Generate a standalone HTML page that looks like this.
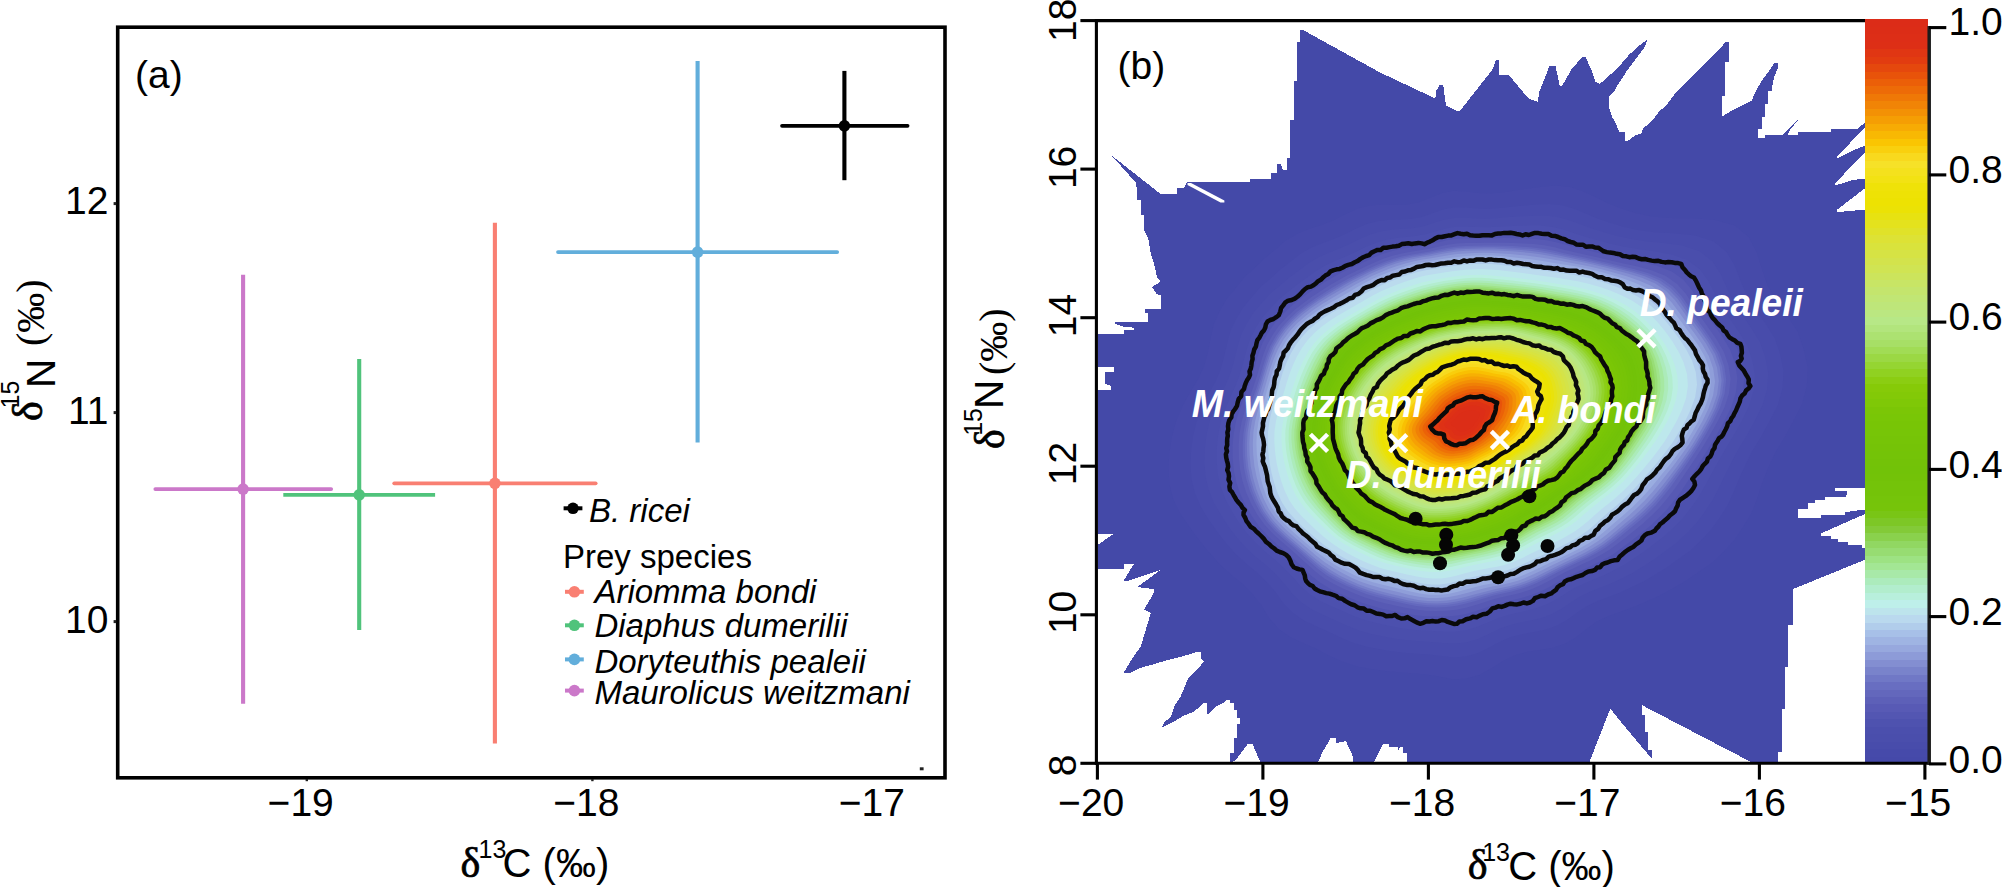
<!DOCTYPE html>
<html lang="en"><head><meta charset="utf-8"><title>Stable isotope biplot and mixing polygon</title>
<style>html,body{margin:0;padding:0;background:#fff}body{width:2002px;height:887px;overflow:hidden}svg{display:block}text{font-family:'Liberation Sans', sans-serif;fill:#000}.sf{font-family:'Liberation Serif', serif}.it{font-style:italic}.wb{font-style:italic;font-weight:bold;fill:#fff}</style>
</head><body>
<svg width="2002" height="887" viewBox="0 0 2002 887">
<rect x="0" y="0" width="2002" height="887" fill="#fff"/>
<g id="panel-a">
<g stroke="#cb78c9" fill="#cb78c9">
<line x1="155.3" y1="489.1" x2="331.2" y2="489.1" stroke-width="3.7" stroke-linecap="round"/>
<line x1="243.1" y1="274.8" x2="243.1" y2="703.7" stroke-width="4.1"/>
<circle cx="243.1" cy="489.1" r="5.8" stroke="none"/>
</g>
<g stroke="#50c37b" fill="#50c37b">
<line x1="283.3" y1="494.8" x2="435.1" y2="494.8" stroke-width="3.7"/>
<line x1="359.2" y1="359.1" x2="359.2" y2="630.1" stroke-width="4.1"/>
<circle cx="359.2" cy="494.8" r="5.8" stroke="none"/>
</g>
<g stroke="#f97f72" fill="#f97f72">
<line x1="394.2" y1="483.3" x2="595.7" y2="483.3" stroke-width="3.7" stroke-linecap="round"/>
<line x1="494.9" y1="222.7" x2="494.9" y2="743.6" stroke-width="4.1"/>
<circle cx="494.9" cy="483.3" r="5.8" stroke="none"/>
</g>
<g stroke="#62aedb" fill="#62aedb">
<line x1="558.0" y1="252.1" x2="837.2" y2="252.1" stroke-width="3.7" stroke-linecap="round"/>
<line x1="697.6" y1="61.0" x2="697.6" y2="442.5" stroke-width="4.1"/>
<circle cx="697.6" cy="252.1" r="5.8" stroke="none"/>
</g>
<g stroke="#000000" fill="#000000">
<line x1="782.0" y1="125.8" x2="907.6" y2="125.8" stroke-width="3.7" stroke-linecap="round"/>
<line x1="844.4" y1="70.9" x2="844.4" y2="180.2" stroke-width="4.1"/>
<circle cx="844.4" cy="125.8" r="5.8" stroke="none"/>
</g>
<rect x="117.7" y="27.2" width="827.3" height="750.6" fill="none" stroke="#000" stroke-width="3.6"/>
<rect x="305.6" y="779" width="2.4" height="2.2" fill="#222"/>
<rect x="591.2" y="779" width="2.4" height="2.2" fill="#222"/>
<rect x="113.6" y="202.1" width="2.6" height="3" fill="#222"/>
<rect x="113.6" y="411.1" width="2.6" height="3" fill="#222"/>
<rect x="113.6" y="620.1" width="2.6" height="3" fill="#222"/>
<rect x="919.8" y="767.3" width="3.8" height="3" fill="#222"/>
<text x="135" y="88" font-size="39">(a)</text>
<text x="300.7" y="815.6" font-size="39" text-anchor="middle">−19</text>
<text x="586.4" y="815.6" font-size="39" text-anchor="middle">−18</text>
<text x="871.9" y="815.6" font-size="39" text-anchor="middle">−17</text>
<text x="108.4" y="214.0" font-size="39" text-anchor="end">12</text>
<text x="108.4" y="424.0" font-size="39" text-anchor="end">11</text>
<text x="108.4" y="633.0" font-size="39" text-anchor="end">10</text>
<text x="460.6" y="877" font-size="42" class="sf" stroke="#000" stroke-width="0.7">δ</text>
<text x="478.5" y="858.4" font-size="25">13</text>
<text x="502.6" y="877.4" font-size="40">C (‰)</text>
<text transform="translate(41.8,421) rotate(-90)" font-size="42" class="sf" stroke="#000" stroke-width="0.7">δ</text>
<text transform="translate(18.9,408.5) rotate(-90)" font-size="25">15</text>
<text transform="translate(54.7,388) rotate(-90)" font-size="40.5">N</text>
<text transform="translate(44.4,346) rotate(-90)" font-size="40" class="sf">(‰)</text>
<g stroke-width="4">
<line x1="563.6" y1="508.3" x2="582.4" y2="508.3" stroke="#000"/><circle cx="573.0" cy="508.3" r="5.8" fill="#000"/>
<line x1="565.0" y1="591.8" x2="583.8" y2="591.8" stroke="#f97f72"/><circle cx="574.4" cy="591.8" r="5.8" fill="#f97f72"/>
<line x1="565.0" y1="625.3" x2="583.8" y2="625.3" stroke="#50c37b"/><circle cx="574.4" cy="625.3" r="5.8" fill="#50c37b"/>
<line x1="565.0" y1="659.4" x2="583.8" y2="659.4" stroke="#62aedb"/><circle cx="574.4" cy="659.4" r="5.8" fill="#62aedb"/>
<line x1="565.0" y1="690.6" x2="583.8" y2="690.6" stroke="#cb78c9"/><circle cx="574.4" cy="690.6" r="5.8" fill="#cb78c9"/>
</g>
<text x="589" y="522" font-size="33" class="it">B. ricei</text>
<text x="563" y="567.9" font-size="33">Prey species</text>
<text x="594.4" y="602.7" font-size="33" class="it">Ariomma bondi</text>
<text x="594.4" y="636.5" font-size="33" class="it">Diaphus dumerilii</text>
<text x="594.4" y="672.8" font-size="33" class="it">Doryteuthis pealeii</text>
<text x="594.4" y="704.2" font-size="33" class="it">Maurolicus weitzmani</text>
</g>
<g id="panel-b">
<polygon fill="#4449a8" shape-rendering="crispEdges" points="1097.5,334.0 1123.5,334.0 1123.5,330.2 1134.1,330.2 1134.1,327.7 1123.5,326.5 1114.8,324.0 1114.8,321.5 1147.5,321.5 1147.5,312.8 1144.5,312.8 1144.5,309.1 1161.2,309.1 1161.2,295.5 1156.9,294.2 1152.0,286.8 1160.7,281.8 1156.9,276.9 1154.5,265.7 1150.7,253.3 1148.3,238.4 1144.0,229.8 1144.0,214.9 1140.8,214.9 1140.8,200.0 1137.4,200.0 1136.2,183.0 1111.4,155.3 1161.0,194.3 1176.8,194.3 1176.8,188.2 1183.6,188.2 1187.0,182.4 1250.2,182.4 1250.2,179.2 1270.5,179.2 1270.5,172.9 1277.2,172.9 1277.2,163.9 1280.6,163.9 1282.9,169.5 1287.4,169.5 1287.4,157.8 1290.0,157.8 1290.0,119.9 1293.5,119.9 1293.5,80.9 1297.0,80.9 1297.0,42.1 1300.2,42.1 1300.2,30.1 1303.2,30.1 1380.0,72.5 1435.3,98.5 1436.4,90.6 1439.8,84.5 1443.2,84.5 1445.9,105.2 1456.7,110.9 1460.0,110.9 1492.8,69.1 1495.7,60.1 1498.9,60.1 1498.9,74.8 1508.6,74.8 1528.9,98.9 1537.9,101.8 1539.0,92.8 1542.4,83.8 1546.2,74.8 1549.2,66.4 1555.5,66.4 1558.2,78.2 1559.8,86.7 1562.7,84.9 1571.7,69.1 1579.6,60.1 1582.3,57.2 1585.7,57.2 1592.0,71.4 1595.4,81.5 1599.9,83.8 1609.0,75.9 1619.1,66.4 1629.3,54.5 1639.4,45.5 1647.3,39.4 1645.0,46.6 1634.9,60.1 1628.1,69.1 1619.1,82.7 1614.6,90.6 1609.0,96.2 1609.0,107.5 1611.9,116.5 1615.7,123.3 1619.1,131.6 1625.2,132.3 1625.2,140.6 1628.1,140.6 1634.9,135.7 1641.7,133.4 1642.8,128.9 1652.9,119.9 1659.7,110.9 1666.5,105.2 1675.5,92.8 1725.7,42.3 1728.9,42.3 1728.9,62.1 1725.0,62.1 1725.0,95.6 1722.0,95.6 1722.0,116.7 1731.9,110.5 1751.7,100.5 1755.5,91.9 1761.7,80.7 1769.1,70.8 1774.0,63.3 1777.8,63.3 1777.8,68.3 1774.0,77.0 1771.6,90.6 1767.9,90.6 1767.9,104.3 1765.4,104.3 1765.4,116.7 1761.7,116.7 1761.7,129.0 1757.9,129.0 1757.9,137.7 1765.4,137.7 1765.4,135.2 1782.7,135.2 1797.6,120.4 1788.9,131.5 1787.7,135.2 1797.6,135.2 1797.6,132.0 1831.1,132.0 1831.1,129.0 1857.1,129.0 1864.5,122.9 1864.5,127.8 1837.3,156.3 1837.3,158.3 1853.4,150.1 1863.3,146.4 1864.5,146.4 1864.5,152.6 1834.8,183.6 1834.8,185.6 1853.4,179.9 1864.5,178.6 1864.5,188.6 1837.3,209.6 1837.3,212.1 1864.5,209.6 1864.5,487.8 1835.1,487.8 1835.1,490.9 1847.3,490.9 1847.3,494.0 1845.2,497.0 1825.0,497.0 1825.0,500.0 1814.8,500.0 1814.8,503.0 1807.7,503.0 1807.7,509.1 1798.2,509.1 1798.2,517.7 1820.9,517.7 1820.9,515.2 1845.2,515.2 1845.2,512.2 1864.5,509.5 1864.5,514.2 1820.9,533.5 1820.9,535.9 1831.0,535.9 1831.0,539.0 1838.1,539.0 1838.1,541.6 1848.3,541.6 1848.3,544.6 1861.5,544.6 1861.5,547.7 1864.5,547.7 1864.5,559.9 1792.5,589.3 1792.5,624.5 1788.0,624.5 1788.0,667.1 1784.8,667.1 1784.8,708.7 1781.7,708.7 1781.7,752.3 1777.9,752.3 1777.9,763.0 1752.9,763.0 1641.9,705.1 1641.9,714.8 1645.4,714.8 1645.4,732.0 1648.4,732.0 1648.4,750.3 1651.5,750.3 1651.5,758.4 1620.0,720.9 1610.3,708.7 1589.0,763.0 1407.0,763.0 1407.0,753.4 1403.3,753.4 1403.3,747.3 1400.3,747.3 1398.3,750.3 1398.3,747.3 1389.1,747.3 1389.1,744.2 1383.0,744.2 1373.4,763.0 1353.1,763.0 1353.1,757.0 1346.0,741.2 1336.0,743.0 1336.0,738.1 1330.7,738.1 1322.6,752.0 1317.6,763.0 1260.7,763.0 1252.6,744.2 1247.5,744.2 1235.4,760.5 1230.3,763.0 1230.3,753.4 1234.4,753.4 1234.4,738.1 1237.4,738.1 1237.4,723.9 1239.8,723.9 1239.8,717.8 1237.4,717.8 1237.4,709.7 1234.4,709.7 1234.4,702.6 1230.3,702.6 1230.3,699.6 1227.3,699.6 1224.2,702.6 1217.1,705.7 1210.0,712.8 1207.0,714.8 1207.0,702.6 1204.5,702.6 1200.9,705.7 1193.8,711.8 1183.6,715.8 1173.5,721.9 1161.3,728.0 1164.4,721.9 1170.4,717.8 1174.5,705.7 1180.6,696.5 1183.6,689.4 1187.7,679.3 1193.8,673.2 1200.9,665.1 1203.9,661.0 1200.9,659.0 1200.9,651.9 1196.8,651.9 1187.7,654.9 1176.5,658.0 1164.4,661.0 1154.2,664.1 1139.6,668.1 1130.6,672.6 1123.8,672.6 1127.2,667.0 1134.0,655.7 1140.8,646.7 1144.1,635.4 1147.5,624.1 1150.9,612.8 1144.1,609.5 1147.5,603.8 1150.9,598.2 1154.3,592.0 1154.3,589.2 1137.4,587.0 1160.7,569.8 1127.2,581.0 1123.5,581.0 1134.1,563.6 1123.5,563.6 1123.5,568.6 1097.5,568.6 1097.5,545.0 1113.6,533.9 1097.5,533.9 1097.5,389.7 1111.0,389.7 1111.0,386.0 1105.0,383.5 1105.0,372.3 1113.6,372.3 1113.6,367.4 1097.5,367.4"/>
<polygon fill="#fff" points="1187.5,183.0 1191.0,183.0 1224.4,200.4 1224.4,202.5 1220.5,202.5 1187.5,185.0"/>
<g id="heat">
<polygon fill="#464aa9" points="1793.4,421.0 1784.3,437.7 1774.8,453.5 1767.8,468.8 1761.9,483.9 1757.0,499.0 1751.2,513.7 1742.9,527.3 1734.1,540.4 1723.2,552.1 1711.9,563.0 1698.7,572.1 1686.0,580.8 1672.7,588.4 1659.8,595.5 1646.5,601.5 1633.6,607.1 1620.5,611.8 1607.9,616.3 1596.4,621.8 1586.2,629.2 1576.1,637.2 1565.1,643.7 1553.0,647.8 1540.4,650.1 1527.8,651.7 1515.7,655.0 1503.9,660.4 1491.9,667.9 1479.3,674.9 1466.0,678.8 1452.5,679.2 1439.1,676.5 1425.9,674.5 1412.4,673.3 1398.7,672.3 1384.8,671.0 1370.9,668.9 1356.7,666.4 1343.2,662.0 1330.2,656.2 1317.5,649.6 1304.3,643.5 1290.8,637.4 1278.8,628.9 1269.0,618.0 1261.4,605.2 1252.5,593.9 1242.2,583.6 1230.3,574.1 1219.1,563.6 1208.8,552.1 1199.0,539.9 1189.6,527.1 1180.3,513.8 1173.3,499.4 1169.4,484.0 1168.5,468.1 1169.4,452.2 1172.0,436.4 1176.1,421.0 1182.5,406.1 1190.3,392.0 1198.4,378.6 1204.4,365.4 1208.0,351.9 1210.6,338.0 1213.8,324.2 1219.7,311.3 1226.7,299.1 1235.8,288.1 1244.5,277.1 1255.0,267.7 1264.9,258.1 1275.4,249.4 1285.6,240.6 1297.3,233.7 1310.2,228.6 1323.2,224.5 1335.1,219.5 1346.3,213.7 1357.7,208.5 1370.0,205.4 1382.9,204.5 1395.7,204.8 1408.0,204.4 1419.5,202.1 1430.6,197.4 1442.1,193.1 1453.9,190.8 1466.0,191.5 1477.9,193.0 1489.9,193.5 1502.2,192.4 1515.0,190.4 1528.3,188.4 1542.1,186.7 1556.3,185.6 1570.2,187.0 1583.1,191.2 1595.3,197.1 1607.6,203.0 1620.6,208.2 1634.6,212.7 1650.4,216.2 1669.0,218.0 1691.2,218.2 1714.5,219.8 1735.0,225.6 1748.9,237.3 1757.0,253.0 1762.2,270.1 1768.0,286.5 1777.6,301.4 1787.9,316.4 1797.9,332.1 1803.7,349.2 1807.7,366.9 1806.9,385.2 1802.3,403.4"/>
<polygon fill="#484cab" points="1769.7,421.0 1761.2,436.5 1752.4,451.1 1745.3,465.2 1739.0,479.0 1733.4,492.7 1727.2,505.9 1719.3,518.2 1710.9,530.0 1700.8,540.6 1690.4,550.6 1678.6,559.1 1667.2,567.2 1655.4,574.4 1644.0,581.2 1632.0,587.0 1620.3,592.4 1608.4,596.9 1597.0,601.3 1586.4,606.4 1576.8,612.8 1567.3,619.8 1557.1,625.6 1546.0,629.5 1534.6,632.0 1523.0,633.9 1511.9,636.8 1500.9,641.2 1489.8,647.3 1478.2,653.0 1466.0,656.6 1453.6,657.4 1441.3,655.9 1429.0,654.6 1416.5,653.7 1403.9,652.7 1391.2,651.2 1378.5,649.0 1365.5,646.6 1353.0,642.7 1340.9,637.8 1329.0,632.0 1316.7,626.4 1304.3,620.7 1293.0,613.1 1283.5,603.5 1275.7,592.3 1267.0,582.2 1257.2,572.7 1246.2,563.8 1235.7,554.0 1226.1,543.3 1217.2,531.8 1208.8,519.7 1200.9,507.1 1195.0,493.6 1191.5,479.3 1190.5,464.6 1191.1,449.9 1193.2,435.3 1196.7,421.0 1202.2,407.2 1208.8,394.0 1215.6,381.3 1220.8,368.9 1224.2,356.2 1227.1,343.4 1230.5,330.6 1236.3,318.7 1243.1,307.4 1251.7,297.3 1260.2,287.3 1270.2,278.7 1279.7,270.1 1289.7,262.3 1299.5,254.5 1310.4,248.1 1322.0,243.2 1333.7,238.9 1344.7,234.2 1355.1,228.9 1365.8,224.2 1377.0,221.2 1388.8,219.8 1400.5,219.5 1411.8,218.7 1422.6,216.7 1433.0,212.9 1443.7,209.3 1454.8,207.2 1466.0,207.6 1477.1,208.6 1488.3,209.0 1499.7,208.1 1511.5,206.7 1523.7,205.5 1536.4,204.4 1549.3,203.9 1562.1,205.2 1574.2,208.7 1585.7,213.6 1597.5,218.5 1610.0,222.8 1623.3,226.8 1638.0,230.0 1654.8,232.2 1674.4,233.3 1694.9,235.6 1713.3,241.3 1726.5,251.9 1734.8,265.8 1740.6,281.1 1746.9,296.0 1756.0,309.7 1765.6,323.7 1774.8,338.3 1780.2,354.2 1783.6,370.7 1782.6,387.7 1778.0,404.7"/>
<polygon fill="#4a4eac" points="1754.7,421.0 1746.6,435.7 1738.3,449.6 1731.1,463.0 1724.5,475.9 1718.5,488.7 1712.1,501.0 1704.3,512.5 1696.1,523.5 1686.6,533.4 1676.8,542.7 1665.8,550.8 1655.3,558.5 1644.5,565.6 1633.9,572.2 1622.9,577.9 1611.9,583.1 1600.8,587.5 1590.1,591.8 1580.1,596.6 1570.8,602.5 1561.6,608.7 1552.0,614.1 1541.6,617.9 1530.8,620.6 1520.0,622.6 1509.4,625.2 1499.0,629.1 1488.4,634.2 1477.4,639.2 1466.0,642.5 1454.3,643.6 1442.7,642.9 1431.0,642.0 1419.2,641.3 1407.3,640.2 1395.3,638.7 1383.3,636.5 1371.1,634.1 1359.2,630.5 1347.6,626.1 1336.2,620.8 1324.6,615.6 1312.8,610.1 1302.1,603.1 1292.7,594.3 1284.8,584.2 1276.2,574.7 1266.7,565.8 1256.2,557.2 1246.2,547.9 1237.0,537.7 1228.6,526.7 1221.0,515.0 1214.0,502.9 1208.7,489.9 1205.5,476.4 1204.4,462.4 1204.8,448.5 1206.6,434.6 1209.7,421.0 1214.6,407.8 1220.5,395.2 1226.5,383.1 1231.2,371.1 1234.5,359.0 1237.5,346.8 1241.1,334.7 1246.8,323.4 1253.4,312.7 1261.8,303.1 1270.1,293.8 1279.8,285.7 1289.1,277.7 1298.9,270.5 1308.3,263.3 1318.6,257.3 1329.5,252.4 1340.4,248.1 1350.8,243.5 1360.7,238.6 1370.8,234.2 1381.5,231.2 1392.5,229.5 1403.5,228.8 1414.2,227.9 1424.5,225.9 1434.6,222.6 1444.8,219.6 1455.3,217.7 1466.0,217.8 1476.6,218.5 1487.3,218.7 1498.1,218.1 1509.3,217.1 1520.8,216.3 1532.7,215.7 1544.9,215.5 1556.9,216.8 1568.5,219.9 1579.7,224.1 1591.2,228.3 1603.3,232.1 1616.1,235.7 1630.1,238.8 1645.8,241.2 1663.8,242.9 1682.5,245.6 1699.6,251.3 1712.2,261.1 1720.7,273.9 1726.9,288.1 1733.4,301.9 1742.3,314.9 1751.4,328.3 1760.1,342.2 1765.3,357.4 1768.3,373.1 1767.1,389.4 1762.5,405.5"/>
<polygon fill="#4c50ae" points="1741.7,421.0 1733.9,435.0 1725.9,448.3 1718.6,461.0 1711.8,473.2 1705.4,485.2 1698.8,496.7 1691.2,507.4 1683.3,517.7 1674.2,527.1 1664.9,535.8 1654.7,543.5 1644.9,551.0 1635.0,557.8 1625.2,564.3 1614.8,569.8 1604.6,574.9 1594.2,579.3 1584.1,583.5 1574.5,588.1 1565.6,593.4 1556.7,599.1 1547.5,604.1 1537.7,607.8 1527.6,610.6 1517.4,612.7 1507.3,615.2 1497.3,618.4 1487.2,622.8 1476.8,627.1 1466.0,630.2 1455.0,631.6 1443.9,631.5 1432.7,631.1 1421.5,630.4 1410.2,629.4 1398.8,627.7 1387.5,625.5 1376.0,623.1 1364.7,619.9 1353.5,615.9 1342.5,611.1 1331.5,606.2 1320.3,600.9 1309.9,594.3 1300.7,586.3 1292.7,577.0 1284.2,568.3 1275.0,559.8 1265.0,551.5 1255.4,542.6 1246.6,532.8 1238.7,522.2 1231.7,510.9 1225.4,499.2 1220.7,486.7 1217.7,473.8 1216.6,460.5 1216.8,447.2 1218.3,434.0 1221.1,421.0 1225.5,408.4 1230.7,396.3 1236.0,384.6 1240.3,373.0 1243.5,361.4 1246.6,349.7 1250.4,338.2 1255.9,327.5 1262.5,317.3 1270.6,308.2 1278.8,299.4 1288.2,291.8 1297.3,284.4 1306.8,277.7 1316.0,271.0 1325.8,265.3 1336.0,260.5 1346.2,256.2 1356.1,251.7 1365.6,247.1 1375.3,242.9 1385.4,239.9 1395.7,238.0 1406.2,236.9 1416.4,235.8 1426.3,234.0 1435.9,231.2 1445.8,228.5 1455.8,226.8 1466.0,226.7 1476.2,227.1 1486.4,227.3 1496.8,226.8 1507.4,226.2 1518.3,225.8 1529.5,225.5 1541.0,225.6 1552.4,226.9 1563.5,229.6 1574.4,233.2 1585.6,236.8 1597.4,240.2 1609.8,243.4 1623.2,246.5 1637.9,249.1 1654.5,251.2 1671.7,254.4 1687.6,260.0 1699.8,269.2 1708.4,281.0 1715.0,294.1 1721.7,307.1 1730.3,319.5 1739.1,332.3 1747.3,345.6 1752.3,360.2 1755.0,375.2 1753.6,390.8 1749.0,406.2"/>
<polygon fill="#5154b1" points="1731.3,421.0 1723.8,434.5 1716.1,447.3 1708.8,459.5 1701.8,471.1 1695.1,482.4 1688.4,493.3 1680.9,503.5 1673.1,513.2 1664.4,522.1 1655.5,530.4 1645.9,537.8 1636.7,545.0 1627.4,551.7 1618.2,558.1 1608.5,563.5 1598.8,568.5 1588.9,572.8 1579.3,577.0 1570.1,581.3 1561.4,586.3 1552.9,591.5 1544.0,596.1 1534.7,599.9 1525.0,602.7 1515.3,604.9 1505.6,607.2 1495.9,610.1 1486.3,613.8 1476.3,617.5 1466.0,620.4 1455.5,622.1 1444.8,622.5 1434.1,622.4 1423.3,621.9 1412.5,620.8 1401.6,619.1 1390.8,616.8 1379.9,614.5 1369.0,611.5 1358.1,607.8 1347.5,603.4 1336.9,598.7 1326.2,593.6 1316.2,587.4 1307.1,579.9 1299.0,571.4 1290.5,563.1 1281.6,555.0 1272.0,547.0 1262.7,538.4 1254.1,529.0 1246.6,518.7 1240.1,507.7 1234.4,496.2 1230.1,484.2 1227.4,471.7 1226.3,459.0 1226.3,446.2 1227.5,433.5 1230.1,421.0 1234.0,408.8 1238.8,397.1 1243.5,385.8 1247.4,374.5 1250.6,363.3 1253.8,352.0 1257.7,341.0 1263.2,330.7 1269.7,321.0 1277.5,312.2 1285.7,303.9 1294.8,296.6 1303.8,289.6 1313.1,283.3 1322.1,277.1 1331.5,271.6 1341.1,266.8 1350.8,262.5 1360.2,258.1 1369.5,253.8 1378.8,249.8 1388.4,246.8 1398.3,244.7 1408.3,243.3 1418.1,242.1 1427.6,240.4 1437.0,237.9 1446.5,235.6 1456.2,234.0 1466.0,233.7 1475.8,233.9 1485.7,234.0 1495.7,233.7 1505.9,233.3 1516.3,233.2 1527.0,233.2 1537.9,233.6 1548.9,234.9 1559.6,237.3 1570.3,240.4 1581.2,243.6 1592.7,246.6 1604.8,249.6 1617.7,252.5 1631.7,255.3 1647.2,257.8 1663.2,261.3 1678.1,266.9 1689.9,275.6 1698.7,286.7 1705.5,299.0 1712.5,311.3 1720.9,323.2 1729.3,335.4 1737.1,348.4 1742.0,362.3 1744.4,376.9 1743.0,391.9 1738.4,406.7"/>
<polygon fill="#5759b4" points="1724.4,421.0 1717.0,434.2 1709.6,446.6 1702.2,458.4 1695.1,469.7 1688.2,480.5 1681.4,491.0 1674.0,500.8 1666.3,510.2 1657.9,518.8 1649.2,526.8 1640.0,534.0 1631.2,541.0 1622.4,547.6 1613.6,553.9 1604.3,559.3 1594.9,564.1 1585.4,568.4 1576.1,572.6 1567.2,576.8 1558.7,581.5 1550.3,586.4 1541.6,590.9 1532.6,594.5 1523.3,597.4 1513.9,599.7 1504.4,601.9 1495.1,604.5 1485.6,607.7 1476.0,611.1 1466.0,613.9 1455.8,615.7 1445.5,616.5 1435.0,616.6 1424.5,616.2 1414.0,615.0 1403.5,613.3 1393.1,611.0 1382.4,608.7 1371.8,605.8 1361.3,602.4 1350.9,598.3 1340.5,593.7 1330.2,588.7 1320.3,582.8 1311.3,575.7 1303.1,567.6 1294.7,559.7 1285.9,551.8 1276.6,544.0 1267.5,535.6 1259.2,526.4 1251.9,516.3 1245.7,505.5 1240.4,494.3 1236.4,482.5 1233.8,470.3 1232.7,458.0 1232.6,445.5 1233.7,433.2 1236.1,421.0 1239.8,409.1 1244.1,397.7 1248.5,386.6 1252.2,375.6 1255.3,364.6 1258.6,353.6 1262.5,342.9 1268.0,332.8 1274.5,323.4 1282.2,314.9 1290.3,306.9 1299.2,299.8 1308.1,293.2 1317.3,287.1 1326.2,281.2 1335.3,275.9 1344.6,271.1 1353.9,266.7 1363.0,262.4 1372.0,258.3 1381.1,254.4 1390.5,251.4 1400.0,249.1 1409.7,247.6 1419.2,246.3 1428.5,244.7 1437.7,242.4 1447.0,240.3 1456.5,238.8 1466.0,238.4 1475.6,238.5 1485.2,238.5 1494.9,238.3 1504.9,238.1 1515.0,238.2 1525.3,238.4 1535.9,238.9 1546.5,240.2 1557.0,242.4 1567.5,245.3 1578.3,248.1 1589.6,250.8 1601.5,253.7 1614.1,256.6 1627.5,259.5 1642.3,262.3 1657.5,266.0 1671.8,271.5 1683.4,279.8 1692.2,290.4 1699.2,302.2 1706.3,314.0 1714.5,325.6 1722.8,337.6 1730.4,350.2 1735.1,363.8 1737.4,378.0 1735.9,392.6 1731.3,407.1"/>
<polygon fill="#5d60b8" points="1717.8,421.0 1710.6,433.8 1703.3,445.9 1695.9,457.4 1688.7,468.3 1681.6,478.8 1674.7,488.8 1667.4,498.3 1659.8,507.3 1651.6,515.6 1643.2,523.3 1634.4,530.4 1626.0,537.2 1617.6,543.7 1609.2,549.9 1600.2,555.2 1591.2,560.0 1582.0,564.3 1573.1,568.4 1564.4,572.5 1556.0,577.0 1547.8,581.5 1539.4,585.8 1530.7,589.4 1521.7,592.4 1512.5,594.7 1503.4,596.8 1494.2,599.1 1485.0,602.0 1475.6,605.0 1466.0,607.7 1456.1,609.7 1446.1,610.7 1435.9,611.0 1425.7,610.7 1415.5,609.5 1405.3,607.7 1395.2,605.5 1384.9,603.2 1374.6,600.5 1364.2,597.3 1354.1,593.3 1344.0,589.0 1333.9,584.1 1324.3,578.4 1315.4,571.6 1307.1,564.0 1298.8,556.4 1290.1,548.8 1281.0,541.1 1272.2,532.9 1264.0,523.9 1256.9,514.1 1251.1,503.5 1246.2,492.4 1242.5,480.9 1240.0,469.0 1238.9,457.0 1238.7,444.9 1239.6,432.9 1241.8,421.0 1245.3,409.4 1249.3,398.2 1253.3,387.3 1256.8,376.5 1259.9,365.8 1263.2,355.1 1267.2,344.7 1272.6,334.9 1279.0,325.7 1286.6,317.5 1294.7,309.7 1303.5,302.9 1312.3,296.5 1321.3,290.7 1330.1,285.1 1339.0,279.9 1347.9,275.1 1356.9,270.8 1365.7,266.6 1374.5,262.5 1383.4,258.8 1392.4,255.8 1401.7,253.4 1411.0,251.7 1420.3,250.3 1429.4,248.7 1438.4,246.7 1447.5,244.8 1456.7,243.4 1466.0,242.9 1475.3,242.9 1484.7,242.8 1494.2,242.7 1503.9,242.7 1513.7,243.0 1523.7,243.4 1533.9,244.0 1544.2,245.3 1554.5,247.3 1564.8,249.9 1575.5,252.4 1586.7,254.9 1598.3,257.6 1610.6,260.4 1623.5,263.5 1637.6,266.5 1652.0,270.4 1665.8,275.9 1677.1,283.9 1686.0,294.0 1693.2,305.2 1700.4,316.6 1708.5,327.9 1716.6,339.6 1723.9,351.9 1728.5,365.2 1730.6,379.1 1729.0,393.4 1724.4,407.5"/>
<polygon fill="#6469be" points="1713.5,421.0 1706.4,433.6 1699.2,445.5 1691.8,456.8 1684.5,467.4 1677.3,477.6 1670.3,487.4 1663.0,496.6 1655.5,505.4 1647.5,513.5 1639.2,521.0 1630.7,528.0 1622.5,534.7 1614.4,541.2 1606.2,547.3 1597.6,552.6 1588.7,557.3 1579.8,561.6 1571.1,565.6 1562.6,569.7 1554.3,574.0 1546.2,578.3 1537.9,582.5 1529.4,586.1 1520.6,589.1 1511.7,591.4 1502.6,593.4 1493.6,595.6 1484.6,598.2 1475.4,601.0 1466.0,603.6 1456.3,605.7 1446.5,606.9 1436.5,607.4 1426.4,607.1 1416.5,605.9 1406.5,604.1 1396.6,601.8 1386.5,599.5 1376.4,596.9 1366.2,593.9 1356.2,590.1 1346.3,585.8 1336.4,581.0 1326.9,575.4 1318.1,568.9 1309.8,561.7 1301.4,554.3 1292.9,546.8 1284.0,539.2 1275.2,531.2 1267.2,522.3 1260.3,512.6 1254.7,502.1 1250.0,491.2 1246.5,479.8 1244.1,468.2 1242.9,456.3 1242.7,444.5 1243.5,432.7 1245.6,421.0 1248.9,409.6 1252.7,398.6 1256.5,387.8 1259.8,377.2 1262.9,366.6 1266.2,356.1 1270.3,345.9 1275.7,336.3 1282.1,327.3 1289.6,319.1 1297.5,311.6 1306.3,304.9 1315.0,298.7 1323.9,293.1 1332.6,287.6 1341.3,282.6 1350.0,277.8 1358.8,273.4 1367.5,269.3 1376.1,265.3 1384.9,261.7 1393.7,258.7 1402.8,256.2 1411.9,254.4 1421.0,252.9 1430.0,251.4 1438.8,249.6 1447.8,247.8 1456.9,246.5 1466.0,245.9 1475.2,245.7 1484.4,245.6 1493.8,245.6 1503.3,245.7 1512.9,246.1 1522.6,246.7 1532.6,247.4 1542.7,248.7 1552.8,250.6 1563.0,252.9 1573.6,255.2 1584.7,257.6 1596.2,260.2 1608.3,263.0 1620.9,266.1 1634.5,269.3 1648.4,273.3 1661.8,278.8 1672.9,286.6 1681.9,296.4 1689.2,307.3 1696.5,318.4 1704.5,329.4 1712.5,340.9 1719.6,353.0 1724.2,366.1 1726.2,379.8 1724.6,393.8 1720.0,407.7"/>
<polygon fill="#6c72c3" points="1711.2,421.0 1704.1,433.5 1697.0,445.3 1689.6,456.4 1682.3,467.0 1675.0,477.0 1668.0,486.6 1660.7,495.8 1653.3,504.4 1645.3,512.4 1637.2,519.8 1628.8,526.7 1620.7,533.4 1612.7,539.8 1604.7,545.9 1596.2,551.2 1587.5,555.9 1578.7,560.1 1570.0,564.2 1561.6,568.2 1553.4,572.4 1545.3,576.6 1537.1,580.7 1528.7,584.3 1520.1,587.4 1511.2,589.7 1502.3,591.7 1493.4,593.7 1484.4,596.2 1475.3,598.9 1466.0,601.5 1456.4,603.6 1446.7,604.9 1436.8,605.5 1426.8,605.2 1417.0,604.0 1407.1,602.2 1397.3,599.9 1387.4,597.6 1377.3,595.1 1367.2,592.1 1357.3,588.4 1347.4,584.2 1337.7,579.4 1328.3,573.9 1319.4,567.6 1311.1,560.4 1302.8,553.1 1294.3,545.7 1285.5,538.2 1276.8,530.2 1268.8,521.5 1262.0,511.8 1256.5,501.4 1252.0,490.5 1248.5,479.3 1246.2,467.7 1245.0,456.0 1244.8,444.3 1245.5,432.6 1247.6,421.0 1250.8,409.7 1254.5,398.8 1258.1,388.1 1261.4,377.5 1264.4,367.0 1267.8,356.6 1271.9,346.5 1277.3,337.0 1283.6,328.1 1291.1,320.0 1299.1,312.6 1307.7,306.0 1316.4,299.9 1325.3,294.3 1334.0,289.0 1342.6,283.9 1351.2,279.2 1359.8,274.8 1368.4,270.7 1377.0,266.8 1385.6,263.3 1394.4,260.2 1403.3,257.7 1412.3,255.8 1421.3,254.3 1430.3,252.8 1439.1,251.1 1448.0,249.3 1456.9,248.0 1466.0,247.5 1475.1,247.2 1484.3,247.1 1493.5,247.1 1502.9,247.3 1512.4,247.8 1522.1,248.4 1532.0,249.1 1541.9,250.4 1552.0,252.3 1562.1,254.5 1572.7,256.7 1583.7,259.0 1595.1,261.5 1607.1,264.3 1619.5,267.5 1632.9,270.7 1646.5,274.8 1659.7,280.3 1670.8,288.0 1679.8,297.6 1687.2,308.3 1694.5,319.3 1702.5,330.2 1710.3,341.6 1717.4,353.6 1722.0,366.6 1723.9,380.2 1722.2,394.1 1717.6,407.8"/>
<polygon fill="#7780ca" points="1708.9,421.0 1701.9,433.4 1694.9,445.1 1687.5,456.1 1680.1,466.5 1672.8,476.4 1665.7,485.9 1658.5,494.9 1651.0,503.4 1643.2,511.3 1635.1,518.6 1626.8,525.4 1618.9,532.1 1611.1,538.5 1603.2,544.5 1594.8,549.8 1586.2,554.5 1577.5,558.7 1569.0,562.7 1560.6,566.7 1552.5,570.8 1544.5,575.0 1536.3,579.0 1528.0,582.6 1519.5,585.6 1510.7,587.9 1501.9,589.9 1493.1,591.9 1484.2,594.2 1475.2,596.8 1466.0,599.4 1456.5,601.5 1446.9,603.0 1437.1,603.6 1427.2,603.3 1417.5,602.1 1407.7,600.3 1398.0,598.0 1388.2,595.7 1378.2,593.2 1368.2,590.3 1358.4,586.7 1348.6,582.5 1339.0,577.8 1329.7,572.4 1320.8,566.2 1312.5,559.2 1304.2,552.0 1295.8,544.7 1287.0,537.2 1278.4,529.3 1270.5,520.6 1263.7,511.1 1258.4,500.7 1254.0,489.9 1250.6,478.7 1248.3,467.3 1247.1,455.7 1246.9,444.0 1247.6,432.4 1249.5,421.0 1252.6,409.8 1256.2,399.0 1259.8,388.3 1262.9,377.8 1266.0,367.4 1269.4,357.1 1273.5,347.1 1278.9,337.7 1285.2,328.9 1292.6,320.9 1300.6,313.6 1309.2,307.1 1317.8,301.0 1326.7,295.6 1335.3,290.3 1343.8,285.3 1352.3,280.6 1360.8,276.2 1369.3,272.1 1377.8,268.3 1386.4,264.8 1395.1,261.7 1403.9,259.2 1412.8,257.3 1421.7,255.7 1430.6,254.2 1439.3,252.5 1448.1,250.9 1457.0,249.6 1466.0,249.0 1475.0,248.7 1484.1,248.6 1493.3,248.6 1502.6,248.9 1512.0,249.4 1521.5,250.1 1531.3,250.9 1541.2,252.2 1551.1,254.0 1561.2,256.1 1571.7,258.2 1582.7,260.4 1594.0,262.9 1605.9,265.7 1618.2,268.8 1631.3,272.1 1644.7,276.3 1657.6,281.8 1668.6,289.4 1677.6,298.8 1685.1,309.4 1692.4,320.2 1700.4,331.0 1708.2,342.3 1715.2,354.2 1719.7,367.1 1721.6,380.5 1719.9,394.3 1715.3,407.9"/>
<polygon fill="#838ed1" points="1706.2,421.0 1699.3,433.2 1692.4,444.8 1684.9,455.7 1677.5,465.9 1670.1,475.7 1663.0,485.0 1655.8,493.8 1648.4,502.2 1640.6,510.0 1632.7,517.2 1624.5,524.0 1616.8,530.6 1609.1,536.9 1601.4,542.9 1593.1,548.1 1584.7,552.8 1576.1,557.0 1567.7,561.0 1559.5,565.0 1551.4,569.0 1543.4,573.0 1535.4,576.9 1527.2,580.5 1518.8,583.6 1510.2,585.9 1501.5,587.8 1492.7,589.7 1484.0,591.9 1475.1,594.3 1466.0,596.8 1456.7,599.0 1447.1,600.6 1437.4,601.3 1427.7,601.1 1418.1,599.9 1408.5,598.0 1398.9,595.8 1389.2,593.5 1379.4,591.0 1369.4,588.2 1359.7,584.7 1350.1,580.6 1340.6,575.9 1331.3,570.6 1322.5,564.5 1314.1,557.7 1305.9,550.7 1297.5,543.4 1288.8,536.1 1280.3,528.2 1272.4,519.6 1265.8,510.1 1260.6,499.9 1256.3,489.1 1253.1,478.0 1250.8,466.7 1249.6,455.3 1249.3,443.8 1250.0,432.3 1251.9,421.0 1254.9,409.9 1258.3,399.2 1261.7,388.6 1264.8,378.2 1267.8,367.9 1271.2,357.7 1275.4,347.8 1280.7,338.5 1287.1,329.8 1294.4,322.0 1302.4,314.7 1310.9,308.3 1319.5,302.4 1328.3,297.0 1336.9,291.9 1345.3,287.0 1353.7,282.3 1362.0,277.9 1370.4,273.8 1378.8,270.0 1387.3,266.6 1395.9,263.5 1404.6,260.9 1413.3,258.9 1422.1,257.3 1430.9,255.9 1439.6,254.3 1448.3,252.7 1457.1,251.5 1466.0,250.8 1474.9,250.5 1483.9,250.4 1493.0,250.4 1502.2,250.7 1511.5,251.3 1520.9,252.1 1530.5,253.0 1540.2,254.2 1550.1,256.0 1560.1,258.0 1570.6,260.0 1581.5,262.1 1592.8,264.5 1604.5,267.2 1616.6,270.4 1629.4,273.9 1642.4,278.1 1655.2,283.6 1666.1,291.1 1675.1,300.3 1682.6,310.6 1690.0,321.3 1697.9,332.0 1705.7,343.1 1712.5,354.9 1717.0,367.6 1718.8,381.0 1717.1,394.6 1712.5,408.1"/>
<polygon fill="#8f9ed9" points="1702.5,421.0 1695.6,433.0 1688.8,444.4 1681.3,455.1 1673.8,465.2 1666.3,474.7 1659.2,483.8 1652.0,492.4 1644.7,500.5 1637.0,508.1 1629.2,515.2 1621.3,521.9 1613.8,528.4 1606.4,534.7 1598.9,540.6 1590.8,545.8 1582.6,550.4 1574.2,554.6 1566.0,558.6 1557.9,562.5 1549.9,566.3 1542.0,570.2 1534.1,574.0 1526.1,577.6 1517.9,580.7 1509.4,583.0 1500.8,584.9 1492.2,586.6 1483.6,588.6 1474.9,590.8 1466.0,593.2 1456.9,595.5 1447.5,597.3 1437.9,598.1 1428.4,597.9 1418.9,596.7 1409.5,594.9 1400.1,592.6 1390.6,590.3 1380.9,588.0 1371.2,585.3 1361.5,581.9 1352.0,577.9 1342.7,573.2 1333.6,568.1 1324.8,562.2 1316.4,555.7 1308.2,548.8 1299.9,541.7 1291.4,534.4 1283.0,526.7 1275.2,518.2 1268.7,508.8 1263.7,498.7 1259.6,488.1 1256.6,477.1 1254.4,466.0 1253.2,454.7 1252.8,443.4 1253.4,432.1 1255.2,421.0 1258.0,410.1 1261.3,399.5 1264.5,389.1 1267.4,378.8 1270.4,368.6 1273.9,358.6 1278.1,348.9 1283.4,339.7 1289.7,331.2 1297.0,323.4 1304.9,316.4 1313.3,310.1 1321.9,304.3 1330.6,299.1 1339.1,294.1 1347.4,289.3 1355.5,284.6 1363.7,280.2 1371.9,276.1 1380.2,272.5 1388.6,269.1 1397.0,266.0 1405.5,263.4 1414.1,261.3 1422.8,259.6 1431.4,258.2 1440.0,256.8 1448.6,255.3 1457.3,254.1 1466.0,253.4 1474.8,253.0 1483.7,252.8 1492.6,252.9 1501.6,253.4 1510.7,254.1 1520.0,254.9 1529.4,255.9 1538.9,257.2 1548.7,258.8 1558.6,260.6 1569.0,262.4 1579.8,264.4 1590.9,266.7 1602.5,269.5 1614.3,272.7 1626.7,276.3 1639.3,280.7 1651.7,286.1 1662.5,293.4 1671.5,302.3 1679.2,312.4 1686.6,322.8 1694.4,333.3 1702.1,344.3 1708.8,355.9 1713.2,368.4 1715.0,381.6 1713.2,395.0 1708.6,408.3"/>
<polygon fill="#9aade0" points="1698.5,421.0 1691.8,432.8 1685.0,444.0 1677.5,454.5 1670.0,464.4 1662.4,473.6 1655.2,482.5 1648.1,490.9 1640.8,498.8 1633.3,506.2 1625.6,513.2 1618.0,519.7 1610.7,526.1 1603.5,532.3 1596.2,538.2 1588.4,543.4 1580.3,548.0 1572.2,552.2 1564.2,556.1 1556.2,559.9 1548.3,563.6 1540.5,567.3 1532.8,571.0 1524.9,574.5 1516.9,577.7 1508.6,580.1 1500.2,581.9 1491.7,583.4 1483.3,585.1 1474.7,587.2 1466.0,589.5 1457.0,591.9 1447.8,593.9 1438.5,594.8 1429.1,594.7 1419.8,593.5 1410.6,591.6 1401.4,589.3 1392.1,587.0 1382.6,584.7 1372.9,582.2 1363.4,579.0 1354.1,575.0 1345.0,570.5 1336.0,565.4 1327.2,559.8 1318.8,553.5 1310.6,546.9 1302.4,539.9 1294.0,532.7 1285.7,525.1 1278.1,516.7 1271.7,507.5 1266.9,497.4 1263.1,486.9 1260.2,476.2 1258.1,465.2 1256.8,454.1 1256.4,443.0 1256.9,432.0 1258.6,421.0 1261.3,410.3 1264.4,399.8 1267.3,389.5 1270.1,379.4 1273.1,369.3 1276.6,359.5 1280.9,349.9 1286.2,340.9 1292.4,332.6 1299.6,325.0 1307.5,318.1 1315.8,311.9 1324.4,306.3 1333.0,301.3 1341.4,296.4 1349.6,291.7 1357.5,287.0 1365.5,282.6 1373.5,278.6 1381.7,275.0 1389.9,271.7 1398.2,268.7 1406.5,265.9 1414.9,263.7 1423.4,262.0 1431.9,260.7 1440.4,259.3 1448.9,258.0 1457.4,256.9 1466.0,256.1 1474.7,255.6 1483.4,255.4 1492.2,255.5 1501.1,256.1 1510.0,256.9 1519.0,257.9 1528.2,258.9 1537.6,260.2 1547.2,261.7 1557.0,263.4 1567.3,265.0 1578.0,266.8 1589.0,269.1 1600.4,271.8 1611.9,275.1 1623.9,278.8 1636.0,283.3 1648.1,288.7 1658.7,295.8 1667.8,304.5 1675.6,314.2 1683.1,324.3 1690.8,334.7 1698.4,345.5 1705.0,357.0 1709.3,369.3 1710.9,382.2 1709.1,395.4 1704.5,408.5"/>
<polygon fill="#a5bce7" points="1694.1,421.0 1687.5,432.6 1680.9,443.6 1673.4,453.8 1665.7,463.5 1658.0,472.4 1650.7,481.0 1643.7,489.2 1636.5,496.9 1629.1,504.1 1621.6,510.9 1614.2,517.2 1607.2,523.6 1600.3,529.7 1593.3,535.6 1585.7,540.7 1577.9,545.3 1570.0,549.4 1562.2,553.3 1554.4,557.1 1546.6,560.6 1538.9,564.1 1531.3,567.6 1523.6,571.1 1515.8,574.3 1507.7,576.8 1499.5,578.5 1491.2,579.9 1482.8,581.3 1474.5,583.1 1466.0,585.4 1457.3,587.9 1448.2,590.0 1439.1,591.1 1429.9,591.0 1420.8,589.8 1411.8,587.9 1402.8,585.6 1393.7,583.3 1384.4,581.2 1374.9,578.8 1365.5,575.7 1356.4,571.8 1347.5,567.4 1338.6,562.5 1329.9,557.1 1321.5,551.1 1313.3,544.7 1305.1,537.9 1297.0,530.8 1288.8,523.3 1281.3,515.1 1275.1,506.0 1270.4,496.1 1266.9,485.7 1264.2,475.1 1262.2,464.3 1260.9,453.5 1260.4,442.6 1260.8,431.8 1262.4,421.0 1264.9,410.5 1267.8,400.2 1270.5,390.0 1273.2,380.0 1276.2,370.1 1279.7,360.5 1284.0,351.1 1289.2,342.3 1295.5,334.1 1302.6,326.7 1310.4,320.0 1318.7,314.0 1327.1,308.6 1335.7,303.7 1344.0,299.0 1352.0,294.4 1359.7,289.7 1367.4,285.3 1375.3,281.3 1383.4,277.9 1391.4,274.6 1399.5,271.6 1407.6,268.8 1415.8,266.5 1424.1,264.7 1432.5,263.4 1440.8,262.2 1449.2,261.0 1457.6,260.0 1466.0,259.1 1474.5,258.5 1483.1,258.3 1491.7,258.5 1500.4,259.1 1509.1,260.1 1517.9,261.2 1526.9,262.3 1536.1,263.6 1545.5,265.0 1555.2,266.4 1565.4,267.9 1576.0,269.6 1586.9,271.7 1598.1,274.3 1609.3,277.7 1620.8,281.6 1632.4,286.3 1644.0,291.6 1654.5,298.6 1663.7,306.9 1671.6,316.3 1679.2,326.1 1686.8,336.2 1694.2,346.8 1700.7,358.1 1705.0,370.2 1706.5,382.9 1704.6,395.9 1700.0,408.7"/>
<polygon fill="#b0cceb" points="1689.7,421.0 1683.2,432.4 1676.7,443.1 1669.3,453.2 1661.7,462.6 1654.0,471.4 1646.8,479.8 1639.8,487.7 1632.7,495.2 1625.4,502.2 1618.0,508.8 1610.8,515.0 1603.9,521.2 1597.2,527.3 1590.4,533.1 1583.1,538.1 1575.5,542.6 1567.8,546.7 1560.2,550.6 1552.5,554.2 1544.9,557.6 1537.3,561.0 1529.9,564.5 1522.4,568.0 1514.8,571.2 1506.9,573.6 1498.8,575.3 1490.7,576.6 1482.5,578.0 1474.3,579.6 1466.0,581.8 1457.4,584.3 1448.6,586.5 1439.6,587.7 1430.6,587.7 1421.7,586.5 1412.8,584.6 1404.0,582.4 1395.1,580.2 1386.0,578.1 1376.6,575.8 1367.5,572.8 1358.5,569.0 1349.7,564.6 1341.0,559.9 1332.4,554.6 1324.0,548.9 1315.9,542.6 1307.9,535.9 1299.9,528.9 1292.0,521.5 1284.6,513.4 1278.5,504.5 1274.0,494.7 1270.6,484.5 1268.0,474.1 1266.0,463.5 1264.7,452.9 1264.2,442.2 1264.5,431.6 1266.0,421.0 1268.4,410.6 1271.2,400.5 1273.8,390.6 1276.4,380.7 1279.4,371.0 1282.9,361.5 1287.2,352.4 1292.4,343.7 1298.5,335.7 1305.5,328.3 1313.2,321.8 1321.3,315.9 1329.7,310.6 1338.1,305.9 1346.3,301.3 1354.2,296.8 1361.7,292.2 1369.2,287.8 1377.0,283.9 1384.9,280.5 1392.8,277.4 1400.7,274.3 1408.6,271.5 1416.7,269.2 1424.8,267.4 1433.1,266.1 1441.3,264.9 1449.5,263.8 1457.7,262.8 1466.0,261.9 1474.4,261.3 1482.8,261.0 1491.3,261.3 1499.8,262.0 1508.3,263.0 1517.0,264.2 1525.7,265.4 1534.7,266.6 1544.0,267.9 1553.6,269.2 1563.7,270.6 1574.1,272.2 1584.9,274.2 1595.8,276.8 1606.8,280.2 1618.0,284.1 1629.2,288.8 1640.5,294.2 1650.9,300.9 1660.0,309.0 1667.9,318.1 1675.5,327.7 1683.0,337.7 1690.2,348.1 1696.4,359.3 1700.5,371.2 1701.9,383.6 1700.0,396.4 1695.5,409.0"/>
<polygon fill="#bbdbee" points="1685.2,421.0 1678.8,432.2 1672.4,442.7 1665.2,452.5 1657.8,461.8 1650.4,470.4 1643.4,478.6 1636.4,486.4 1629.3,493.7 1622.1,500.5 1614.8,506.9 1607.6,513.0 1600.8,519.0 1594.3,524.9 1587.7,530.5 1580.5,535.5 1573.1,540.0 1565.6,544.0 1558.1,547.8 1550.6,551.3 1543.2,554.7 1535.9,558.1 1528.6,561.6 1521.3,565.0 1513.8,568.1 1506.1,570.6 1498.2,572.3 1490.2,573.7 1482.2,575.0 1474.2,576.7 1466.0,578.8 1457.6,581.1 1448.9,583.3 1440.1,584.4 1431.2,584.5 1422.5,583.5 1413.8,581.7 1405.1,579.6 1396.3,577.5 1387.3,575.4 1378.2,573.1 1369.2,570.1 1360.4,566.4 1351.8,562.1 1343.1,557.5 1334.7,552.3 1326.4,546.7 1318.5,540.5 1310.7,533.8 1303.0,526.9 1295.3,519.6 1288.1,511.6 1282.2,502.8 1277.7,493.3 1274.3,483.3 1271.6,473.1 1269.6,462.7 1268.3,452.3 1267.7,441.8 1268.0,431.4 1269.5,421.0 1271.9,410.8 1274.7,400.9 1277.3,391.1 1280.0,381.5 1282.9,371.9 1286.5,362.7 1290.7,353.7 1295.7,345.2 1301.7,337.3 1308.5,330.1 1316.0,323.6 1324.0,317.8 1332.1,312.6 1340.4,307.9 1348.4,303.4 1356.1,299.0 1363.5,294.5 1371.0,290.2 1378.6,286.4 1386.4,283.0 1394.1,280.0 1401.9,277.0 1409.7,274.3 1417.6,271.9 1425.6,270.2 1433.6,268.8 1441.7,267.6 1449.8,266.5 1457.9,265.5 1466.0,264.6 1474.2,264.0 1482.5,263.9 1490.8,264.1 1499.2,264.8 1507.6,265.8 1516.1,266.9 1524.7,268.0 1533.6,269.2 1542.7,270.5 1552.1,271.8 1562.0,273.2 1572.2,274.8 1582.8,276.8 1593.6,279.3 1604.4,282.6 1615.5,286.4 1626.5,291.1 1637.5,296.4 1647.6,303.1 1656.7,310.9 1664.6,319.8 1672.1,329.2 1679.4,339.1 1686.2,349.5 1692.0,360.5 1695.8,372.2 1697.0,384.4 1695.2,396.9 1690.8,409.2"/>
<polygon fill="#bde8ec" points="1676.7,421.0 1670.6,431.7 1664.4,441.8 1657.5,451.3 1650.6,460.2 1643.7,468.6 1636.9,476.5 1630.1,484.0 1623.1,491.0 1615.9,497.4 1608.7,503.4 1601.7,509.1 1595.1,514.8 1588.8,520.4 1582.4,525.8 1575.7,530.7 1568.7,535.0 1561.5,538.9 1554.3,542.5 1547.1,545.9 1540.0,549.2 1533.1,552.6 1526.1,556.1 1519.1,559.4 1512.0,562.5 1504.5,564.9 1497.0,566.7 1489.3,568.1 1481.6,569.5 1473.9,571.1 1466.0,573.1 1457.9,575.2 1449.6,577.2 1441.1,578.4 1432.5,578.6 1424.0,577.8 1415.5,576.3 1407.1,574.5 1398.5,572.5 1389.8,570.5 1381.0,568.2 1372.4,565.1 1363.9,561.5 1355.6,557.4 1347.1,553.0 1338.9,548.1 1330.9,542.6 1323.4,536.5 1316.0,530.0 1308.7,523.1 1301.4,516.0 1294.7,508.3 1289.0,499.8 1284.6,490.6 1281.2,481.1 1278.4,471.3 1276.3,461.3 1275.0,451.3 1274.3,441.1 1274.5,431.0 1276.0,421.0 1278.4,411.2 1281.2,401.6 1283.9,392.2 1286.6,382.9 1289.6,373.7 1293.1,364.8 1297.1,356.2 1301.9,347.9 1307.6,340.3 1314.1,333.3 1321.2,327.0 1328.8,321.4 1336.7,316.3 1344.6,311.7 1352.3,307.3 1359.8,303.0 1367.0,298.7 1374.2,294.7 1381.6,291.0 1389.1,287.8 1396.6,284.8 1404.1,282.0 1411.6,279.4 1419.3,277.1 1427.0,275.3 1434.7,273.9 1442.5,272.7 1450.3,271.5 1458.1,270.5 1466.0,269.7 1474.0,269.2 1482.0,269.1 1490.0,269.4 1498.1,270.1 1506.2,271.0 1514.4,272.0 1522.8,273.1 1531.4,274.2 1540.2,275.4 1549.3,276.7 1558.8,278.1 1568.7,279.7 1578.9,281.6 1589.4,283.9 1600.0,287.0 1610.7,290.7 1621.3,295.2 1631.8,300.5 1641.6,307.0 1650.4,314.5 1658.3,323.0 1665.7,332.1 1672.6,341.7 1678.7,351.9 1683.7,362.7 1687.0,374.0 1687.9,385.9 1686.1,397.9 1682.0,409.7"/>
<polygon fill="#bbefe2" points="1667.4,421.0 1661.6,431.2 1655.6,440.9 1649.1,450.0 1642.7,458.6 1636.3,466.6 1629.9,474.2 1623.3,481.4 1616.3,487.9 1609.2,494.0 1602.0,499.5 1595.2,504.9 1588.8,510.2 1582.7,515.5 1576.7,520.7 1570.4,525.4 1563.8,529.6 1557.0,533.3 1550.1,536.7 1543.3,540.0 1536.6,543.3 1530.0,546.7 1523.5,550.1 1516.8,553.3 1509.9,556.2 1502.9,558.6 1495.7,560.5 1488.3,562.1 1481.0,563.5 1473.5,565.1 1466.0,566.8 1458.3,568.7 1450.3,570.5 1442.1,571.7 1433.9,572.1 1425.7,571.6 1417.5,570.4 1409.2,568.8 1401.0,567.1 1392.6,565.1 1384.2,562.8 1375.9,559.7 1367.8,556.2 1359.7,552.3 1351.5,548.1 1343.5,543.5 1335.8,538.2 1328.7,532.2 1321.8,525.8 1315.0,519.1 1308.2,512.1 1301.9,504.6 1296.5,496.5 1292.2,487.7 1288.7,478.6 1285.9,469.3 1283.7,459.7 1282.2,450.1 1281.5,440.4 1281.7,430.7 1283.1,421.0 1285.5,411.5 1288.3,402.3 1291.0,393.3 1293.8,384.4 1296.8,375.7 1300.3,367.2 1304.2,358.9 1308.7,351.0 1314.0,343.6 1320.1,336.8 1327.0,330.7 1334.2,325.2 1341.6,320.3 1349.1,315.8 1356.5,311.5 1363.7,307.4 1370.7,303.4 1377.8,299.5 1384.9,296.1 1392.1,293.0 1399.3,290.1 1406.6,287.5 1413.8,285.0 1421.1,282.8 1428.5,281.0 1435.9,279.5 1443.4,278.2 1450.9,277.0 1458.4,276.0 1466.0,275.3 1473.7,274.9 1481.4,274.8 1489.1,275.2 1496.9,275.9 1504.7,276.7 1512.6,277.6 1520.7,278.5 1529.0,279.6 1537.5,280.7 1546.2,282.0 1555.3,283.4 1564.8,285.0 1574.7,286.8 1584.8,289.0 1595.1,291.9 1605.5,295.4 1615.7,299.8 1625.6,305.0 1634.9,311.3 1643.6,318.5 1651.4,326.5 1658.7,335.2 1665.1,344.6 1670.5,354.6 1674.7,365.1 1677.4,376.1 1678.0,387.4 1676.2,398.9 1672.4,410.2"/>
<polygon fill="#b3edcf" points="1662.6,421.0 1656.9,431.0 1651.0,440.4 1644.7,449.3 1638.6,457.7 1632.4,465.6 1626.2,473.0 1619.7,480.0 1612.8,486.3 1605.7,492.2 1598.6,497.5 1591.8,502.7 1585.5,507.8 1579.6,513.0 1573.8,518.0 1567.7,522.7 1561.3,526.8 1554.6,530.4 1547.9,533.7 1541.2,536.9 1534.8,540.1 1528.4,543.6 1522.1,547.0 1515.6,550.2 1508.9,553.0 1502.0,555.4 1495.0,557.3 1487.8,558.9 1480.7,560.4 1473.4,561.9 1466.0,563.5 1458.4,565.3 1450.7,567.0 1442.7,568.2 1434.6,568.7 1426.5,568.3 1418.5,567.3 1410.4,565.9 1402.2,564.3 1394.0,562.3 1385.8,559.9 1377.8,556.9 1369.8,553.4 1361.9,549.6 1353.8,545.6 1345.9,541.1 1338.4,535.9 1331.5,529.9 1324.8,523.6 1318.2,517.0 1311.7,510.1 1305.6,502.7 1300.4,494.7 1296.1,486.2 1292.6,477.3 1289.8,468.2 1287.6,458.9 1286.0,449.5 1285.3,440.0 1285.4,430.5 1286.8,421.0 1289.2,411.7 1292.0,402.7 1294.8,393.9 1297.5,385.2 1300.6,376.7 1304.1,368.4 1307.9,360.3 1312.2,352.5 1317.4,345.3 1323.3,338.6 1330.0,332.7 1337.0,327.3 1344.2,322.4 1351.5,317.9 1358.8,313.8 1365.8,309.7 1372.7,305.8 1379.6,302.1 1386.6,298.7 1393.6,295.7 1400.7,292.9 1407.8,290.4 1414.9,288.0 1422.1,285.8 1429.3,283.9 1436.5,282.4 1443.8,281.1 1451.2,279.9 1458.6,278.9 1466.0,278.2 1473.5,277.8 1481.0,277.8 1488.6,278.2 1496.2,278.9 1503.9,279.7 1511.6,280.5 1519.6,281.4 1527.7,282.4 1536.1,283.5 1544.6,284.8 1553.5,286.2 1562.8,287.8 1572.4,289.6 1582.4,291.7 1592.6,294.4 1602.8,297.8 1612.7,302.2 1622.4,307.4 1631.5,313.5 1640.0,320.6 1647.8,328.4 1655.0,336.8 1661.2,346.1 1666.2,355.9 1670.0,366.3 1672.3,377.1 1672.8,388.2 1671.1,399.4 1667.4,410.4"/>
<polygon fill="#acebba" points="1658.3,421.0 1652.7,430.8 1646.9,440.0 1640.8,448.7 1635.0,456.9 1629.0,464.7 1622.9,472.0 1616.5,478.8 1609.6,484.9 1602.5,490.6 1595.5,495.7 1588.7,500.7 1582.5,505.7 1576.7,510.7 1571.1,515.6 1565.2,520.2 1559.0,524.3 1552.5,527.8 1545.9,531.0 1539.4,534.1 1533.2,537.4 1527.0,540.8 1520.8,544.2 1514.5,547.3 1508.0,550.1 1501.2,552.5 1494.4,554.4 1487.4,556.1 1480.4,557.6 1473.2,559.1 1466.0,560.6 1458.6,562.2 1451.0,563.9 1443.2,565.1 1435.2,565.7 1427.3,565.5 1419.4,564.6 1411.4,563.3 1403.3,561.7 1395.3,559.8 1387.2,557.4 1379.4,554.4 1371.6,550.9 1363.8,547.2 1355.9,543.3 1348.1,538.9 1340.7,533.8 1333.9,527.9 1327.5,521.6 1321.1,515.1 1314.9,508.3 1309.0,501.0 1303.8,493.2 1299.6,484.9 1296.1,476.2 1293.2,467.3 1291.0,458.2 1289.4,449.0 1288.6,439.6 1288.8,430.3 1290.1,421.0 1292.5,411.9 1295.3,403.1 1298.1,394.4 1300.9,385.9 1304.0,377.6 1307.4,369.5 1311.2,361.6 1315.4,353.9 1320.4,346.8 1326.1,340.2 1332.6,334.4 1339.5,329.1 1346.5,324.3 1353.7,319.9 1360.7,315.7 1367.7,311.8 1374.5,308.0 1381.3,304.4 1388.1,301.0 1395.0,298.1 1402.0,295.4 1409.0,292.9 1415.9,290.6 1422.9,288.4 1430.0,286.5 1437.1,285.0 1444.2,283.6 1451.4,282.4 1458.7,281.5 1466.0,280.8 1473.4,280.4 1480.8,280.5 1488.2,280.9 1495.6,281.5 1503.2,282.3 1510.8,283.1 1518.6,284.0 1526.6,284.9 1534.8,286.0 1543.2,287.3 1551.9,288.7 1561.0,290.3 1570.5,292.0 1580.3,294.0 1590.4,296.6 1600.4,300.0 1610.1,304.3 1619.5,309.5 1628.4,315.5 1636.8,322.4 1644.6,330.0 1651.8,338.3 1657.8,347.4 1662.4,357.2 1665.8,367.5 1667.9,378.1 1668.2,389.0 1666.5,399.9 1663.0,410.7"/>
<polygon fill="#a6e8a2" points="1654.6,421.0 1649.2,430.6 1643.5,439.7 1637.6,448.2 1631.9,456.3 1626.1,463.9 1620.1,471.1 1613.8,477.7 1606.9,483.8 1599.9,489.2 1592.9,494.2 1586.2,499.1 1580.1,503.9 1574.4,508.8 1568.9,513.6 1563.2,518.2 1557.1,522.2 1550.7,525.6 1544.3,528.7 1537.9,531.8 1531.8,535.0 1525.8,538.5 1519.8,541.8 1513.6,544.9 1507.2,547.7 1500.6,550.1 1493.9,552.0 1487.0,553.7 1480.1,555.3 1473.1,556.7 1466.0,558.2 1458.7,559.7 1451.3,561.3 1443.6,562.5 1435.8,563.2 1427.9,563.0 1420.1,562.2 1412.2,561.1 1404.3,559.6 1396.3,557.7 1388.5,555.3 1380.8,552.3 1373.1,548.8 1365.4,545.2 1357.6,541.4 1349.9,537.1 1342.6,532.1 1336.0,526.3 1329.8,520.0 1323.6,513.5 1317.5,506.7 1311.8,499.6 1306.8,491.9 1302.6,483.7 1299.0,475.2 1296.2,466.5 1293.9,457.6 1292.3,448.5 1291.4,439.3 1291.6,430.1 1292.9,421.0 1295.3,412.1 1298.1,403.4 1300.9,394.8 1303.7,386.5 1306.9,378.4 1310.3,370.4 1314.0,362.6 1318.1,355.1 1322.9,348.1 1328.5,341.6 1334.8,335.8 1341.5,330.6 1348.5,325.8 1355.5,321.5 1362.4,317.4 1369.2,313.5 1375.9,309.8 1382.6,306.3 1389.4,303.0 1396.2,300.1 1403.1,297.5 1409.9,295.0 1416.8,292.8 1423.6,290.6 1430.6,288.8 1437.5,287.1 1444.6,285.8 1451.7,284.6 1458.8,283.6 1466.0,282.9 1473.3,282.6 1480.5,282.7 1487.8,283.1 1495.2,283.8 1502.6,284.5 1510.1,285.3 1517.8,286.1 1525.7,287.0 1533.7,288.0 1542.0,289.3 1550.6,290.8 1559.5,292.4 1568.8,294.0 1578.5,296.0 1588.5,298.5 1598.3,301.8 1607.9,306.1 1617.1,311.2 1625.8,317.2 1634.1,323.9 1642.0,331.3 1649.1,339.5 1654.9,348.5 1659.2,358.2 1662.3,368.4 1664.1,378.9 1664.3,389.6 1662.6,400.3 1659.2,410.9"/>
<polygon fill="#a0e48a" points="1651.0,421.0 1645.6,430.4 1640.0,439.3 1634.3,447.7 1628.8,455.6 1623.2,463.1 1617.4,470.2 1611.1,476.7 1604.3,482.6 1597.3,487.9 1590.3,492.7 1583.6,497.4 1577.6,502.1 1572.0,506.9 1566.7,511.6 1561.1,516.1 1555.2,520.1 1549.0,523.5 1542.6,526.5 1536.4,529.5 1530.5,532.7 1524.7,536.1 1518.8,539.5 1512.7,542.6 1506.4,545.3 1499.9,547.6 1493.3,549.6 1486.6,551.4 1479.9,552.9 1473.0,554.3 1466.0,555.7 1458.9,557.2 1451.5,558.6 1444.0,559.9 1436.3,560.6 1428.6,560.6 1420.9,559.9 1413.1,558.9 1405.2,557.5 1397.4,555.6 1389.7,553.2 1382.1,550.1 1374.6,546.7 1367.0,543.2 1359.3,539.5 1351.7,535.3 1344.6,530.3 1338.1,524.6 1332.0,518.3 1326.0,511.9 1320.1,505.2 1314.6,498.1 1309.7,490.6 1305.5,482.6 1302.0,474.3 1299.1,465.7 1296.8,457.0 1295.1,448.1 1294.3,439.1 1294.4,430.0 1295.7,421.0 1298.1,412.2 1300.9,403.6 1303.7,395.3 1306.5,387.1 1309.7,379.1 1313.1,371.3 1316.7,363.7 1320.7,356.3 1325.4,349.4 1330.9,343.0 1337.1,337.3 1343.6,332.1 1350.4,327.4 1357.2,323.1 1364.1,319.1 1370.8,315.3 1377.4,311.6 1384.0,308.2 1390.7,305.0 1397.4,302.1 1404.1,299.6 1410.9,297.2 1417.6,294.9 1424.4,292.9 1431.2,291.0 1438.0,289.3 1444.9,287.9 1451.9,286.7 1458.9,285.8 1466.0,285.1 1473.1,284.8 1480.3,285.0 1487.5,285.4 1494.7,286.0 1502.0,286.8 1509.4,287.5 1517.0,288.2 1524.7,289.1 1532.7,290.1 1540.8,291.4 1549.2,292.9 1557.9,294.4 1567.1,296.1 1576.8,298.0 1586.6,300.4 1596.3,303.7 1605.7,307.9 1614.7,313.0 1623.2,318.9 1631.4,325.5 1639.3,332.7 1646.3,340.7 1651.9,349.6 1656.0,359.3 1658.8,369.3 1660.3,379.7 1660.4,390.2 1658.7,400.7 1655.5,411.1"/>
<polygon fill="#98dd76" points="1648.3,421.0 1643.0,430.3 1637.4,439.0 1631.8,447.3 1626.5,455.1 1621.0,462.5 1615.3,469.5 1609.1,475.9 1602.3,481.7 1595.3,486.9 1588.3,491.6 1581.7,496.2 1575.7,500.7 1570.2,505.4 1565.0,510.1 1559.5,514.5 1553.8,518.5 1547.6,521.8 1541.4,524.8 1535.3,527.7 1529.5,530.9 1523.8,534.4 1518.0,537.7 1512.0,540.8 1505.8,543.4 1499.4,545.8 1493.0,547.8 1486.4,549.6 1479.7,551.1 1472.9,552.6 1466.0,553.9 1459.0,555.2 1451.7,556.7 1444.3,558.0 1436.7,558.7 1429.1,558.8 1421.4,558.2 1413.7,557.2 1406.0,555.9 1398.2,554.0 1390.6,551.6 1383.2,548.5 1375.8,545.2 1368.3,541.7 1360.6,538.1 1353.0,534.0 1346.0,529.0 1339.7,523.3 1333.7,517.1 1327.9,510.7 1322.1,504.1 1316.7,497.1 1311.9,489.6 1307.7,481.8 1304.2,473.6 1301.3,465.1 1298.9,456.5 1297.3,447.7 1296.4,438.8 1296.5,429.9 1297.8,421.0 1300.1,412.3 1303.0,403.9 1305.8,395.6 1308.7,387.6 1311.8,379.7 1315.2,372.0 1318.8,364.5 1322.7,357.2 1327.3,350.3 1332.7,344.0 1338.8,338.4 1345.2,333.2 1351.9,328.6 1358.6,324.3 1365.3,320.3 1372.0,316.6 1378.5,313.0 1385.1,309.6 1391.6,306.5 1398.3,303.7 1404.9,301.1 1411.6,298.8 1418.2,296.6 1424.9,294.5 1431.6,292.6 1438.4,291.0 1445.2,289.5 1452.1,288.3 1459.0,287.4 1466.0,286.7 1473.0,286.5 1480.1,286.6 1487.2,287.1 1494.3,287.7 1501.5,288.4 1508.8,289.2 1516.3,289.9 1524.0,290.7 1531.9,291.7 1539.9,293.0 1548.2,294.4 1556.8,296.0 1565.9,297.6 1575.4,299.5 1585.2,301.8 1594.8,305.0 1604.0,309.2 1612.8,314.3 1621.2,320.2 1629.4,326.6 1637.3,333.7 1644.3,341.6 1649.7,350.5 1653.6,360.0 1656.1,370.1 1657.5,380.3 1657.5,390.7 1655.8,401.0 1652.6,411.2"/>
<polygon fill="#90d661" points="1645.8,421.0 1640.5,430.1 1635.0,438.8 1629.6,446.9 1624.3,454.7 1619.0,462.0 1613.4,468.9 1607.2,475.2 1600.4,480.9 1593.4,485.9 1586.5,490.6 1580.0,495.0 1574.0,499.5 1568.6,504.1 1563.4,508.7 1558.1,513.1 1552.4,517.0 1546.4,520.3 1540.3,523.2 1534.3,526.1 1528.5,529.3 1522.9,532.7 1517.2,536.1 1511.3,539.1 1505.2,541.8 1499.0,544.1 1492.6,546.1 1486.1,547.9 1479.5,549.5 1472.8,550.9 1466.0,552.2 1459.1,553.5 1451.9,554.9 1444.6,556.2 1437.1,557.0 1429.5,557.1 1421.9,556.6 1414.3,555.7 1406.6,554.4 1399.0,552.6 1391.4,550.1 1384.1,547.1 1376.8,543.7 1369.4,540.3 1361.8,536.8 1354.3,532.7 1347.4,527.8 1341.1,522.1 1335.3,516.0 1329.6,509.6 1324.0,503.0 1318.7,496.1 1313.9,488.7 1309.8,481.0 1306.2,472.9 1303.3,464.6 1300.9,456.1 1299.2,447.4 1298.3,438.6 1298.4,429.8 1299.7,421.0 1302.1,412.4 1304.9,404.1 1307.7,395.9 1310.6,388.0 1313.8,380.2 1317.2,372.6 1320.7,365.2 1324.5,358.0 1329.1,351.2 1334.3,345.0 1340.3,339.4 1346.7,334.3 1353.2,329.7 1359.8,325.4 1366.5,321.5 1373.0,317.8 1379.5,314.2 1386.0,310.9 1392.5,307.8 1399.1,305.1 1405.7,302.6 1412.3,300.3 1418.8,298.1 1425.4,296.1 1432.0,294.2 1438.7,292.5 1445.4,291.0 1452.2,289.8 1459.1,288.9 1466.0,288.3 1473.0,288.0 1480.0,288.2 1487.0,288.7 1494.0,289.3 1501.1,290.0 1508.3,290.7 1515.8,291.3 1523.4,292.1 1531.1,293.1 1539.1,294.4 1547.2,295.9 1555.8,297.5 1564.7,299.1 1574.2,300.9 1583.8,303.2 1593.4,306.3 1602.5,310.5 1611.2,315.5 1619.4,321.3 1627.6,327.7 1635.4,334.7 1642.4,342.5 1647.7,351.2 1651.4,360.8 1653.7,370.7 1654.9,380.8 1654.8,391.1 1653.1,401.3 1650.0,411.4"/>
<polygon fill="#88cf48" points="1643.4,421.0 1638.2,430.0 1632.8,438.5 1627.4,446.6 1622.3,454.2 1617.1,461.5 1611.6,468.3 1605.4,474.5 1598.7,480.1 1591.7,485.0 1584.8,489.6 1578.3,493.9 1572.4,498.3 1567.0,502.8 1561.9,507.4 1556.7,511.7 1551.2,515.6 1545.3,518.9 1539.2,521.7 1533.3,524.6 1527.6,527.8 1522.1,531.2 1516.6,534.5 1510.7,537.5 1504.7,540.1 1498.5,542.5 1492.3,544.5 1485.9,546.4 1479.3,548.0 1472.7,549.3 1466.0,550.6 1459.1,551.8 1452.1,553.1 1444.9,554.4 1437.5,555.3 1430.0,555.5 1422.4,555.0 1414.9,554.2 1407.2,553.0 1399.7,551.2 1392.3,548.7 1385.0,545.7 1377.8,542.3 1370.5,539.0 1362.9,535.5 1355.5,531.5 1348.6,526.7 1342.5,521.0 1336.8,514.9 1331.2,508.5 1325.7,502.0 1320.5,495.1 1315.8,487.9 1311.7,480.2 1308.2,472.3 1305.2,464.1 1302.9,455.7 1301.1,447.1 1300.2,438.4 1300.3,429.7 1301.6,421.0 1303.9,412.5 1306.7,404.3 1309.6,396.2 1312.5,388.4 1315.7,380.7 1319.1,373.3 1322.6,365.9 1326.3,358.8 1330.7,352.1 1335.9,345.9 1341.8,340.3 1348.0,335.3 1354.5,330.7 1361.0,326.5 1367.6,322.6 1374.1,318.9 1380.5,315.4 1386.9,312.2 1393.4,309.2 1399.8,306.4 1406.4,303.9 1412.9,301.7 1419.4,299.6 1425.9,297.5 1432.4,295.6 1439.0,293.9 1445.6,292.5 1452.4,291.3 1459.2,290.3 1466.0,289.7 1472.9,289.5 1479.8,289.7 1486.7,290.2 1493.7,290.8 1500.7,291.5 1507.9,292.1 1515.2,292.8 1522.8,293.5 1530.4,294.5 1538.3,295.8 1546.3,297.3 1554.7,298.9 1563.6,300.4 1573.0,302.2 1582.6,304.4 1592.0,307.5 1601.0,311.7 1609.6,316.7 1617.7,322.5 1625.8,328.7 1633.6,335.6 1640.5,343.3 1645.8,352.0 1649.2,361.5 1651.4,371.3 1652.4,381.4 1652.2,391.5 1650.6,401.6 1647.5,411.5"/>
<polygon fill="#80c82e" points="1642.1,421.0 1637.0,430.0 1631.6,438.4 1626.2,446.4 1621.2,454.0 1616.1,461.2 1610.6,468.0 1604.5,474.2 1597.7,479.7 1590.8,484.6 1583.9,489.1 1577.4,493.3 1571.5,497.7 1566.2,502.2 1561.2,506.7 1556.0,511.0 1550.5,514.9 1544.6,518.1 1538.6,520.9 1532.7,523.8 1527.2,526.9 1521.7,530.4 1516.2,533.7 1510.4,536.7 1504.4,539.3 1498.3,541.6 1492.1,543.7 1485.7,545.6 1479.3,547.2 1472.7,548.5 1466.0,549.7 1459.2,550.9 1452.2,552.2 1445.0,553.5 1437.6,554.4 1430.2,554.6 1422.7,554.2 1415.2,553.4 1407.6,552.2 1400.0,550.5 1392.7,548.0 1385.5,544.9 1378.4,541.6 1371.0,538.3 1363.5,534.8 1356.1,530.9 1349.3,526.1 1343.2,520.4 1337.6,514.3 1332.1,508.0 1326.6,501.5 1321.5,494.6 1316.8,487.4 1312.8,479.8 1309.2,471.9 1306.2,463.8 1303.9,455.5 1302.1,447.0 1301.2,438.3 1301.2,429.6 1302.5,421.0 1304.9,412.6 1307.7,404.4 1310.6,396.4 1313.5,388.6 1316.7,381.0 1320.0,373.6 1323.5,366.3 1327.2,359.2 1331.6,352.5 1336.7,346.4 1342.6,340.8 1348.8,335.8 1355.2,331.3 1361.7,327.0 1368.1,323.1 1374.6,319.5 1381.0,316.1 1387.4,312.8 1393.8,309.8 1400.3,307.1 1406.7,304.7 1413.2,302.4 1419.7,300.3 1426.1,298.3 1432.6,296.4 1439.1,294.7 1445.8,293.2 1452.4,292.0 1459.2,291.1 1466.0,290.5 1472.9,290.3 1479.7,290.5 1486.6,290.9 1493.5,291.6 1500.5,292.2 1507.6,292.9 1514.9,293.5 1522.4,294.3 1530.1,295.3 1537.9,296.5 1545.9,298.0 1554.2,299.6 1563.1,301.1 1572.4,302.9 1581.9,305.1 1591.3,308.2 1600.3,312.3 1608.7,317.3 1616.8,323.1 1624.9,329.3 1632.7,336.1 1639.6,343.7 1644.8,352.4 1648.1,361.8 1650.1,371.7 1651.1,381.7 1650.9,391.7 1649.2,401.7 1646.2,411.6"/>
<polygon fill="#7ac61a" points="1640.9,421.0 1635.8,429.9 1630.4,438.3 1625.1,446.2 1620.1,453.8 1615.1,461.0 1609.7,467.7 1603.6,473.8 1596.8,479.2 1589.9,484.1 1583.0,488.5 1576.5,492.8 1570.7,497.0 1565.4,501.5 1560.4,506.0 1555.3,510.3 1549.9,514.1 1544.0,517.4 1538.0,520.2 1532.2,523.0 1526.7,526.1 1521.3,529.6 1515.8,532.9 1510.1,535.9 1504.2,538.5 1498.1,540.8 1491.9,542.9 1485.6,544.7 1479.2,546.3 1472.6,547.7 1466.0,548.9 1459.2,550.0 1452.3,551.3 1445.2,552.6 1437.8,553.5 1430.4,553.8 1423.0,553.4 1415.5,552.7 1407.9,551.5 1400.4,549.7 1393.1,547.3 1386.0,544.2 1378.9,540.9 1371.6,537.6 1364.1,534.2 1356.7,530.3 1350.0,525.5 1343.9,519.9 1338.3,513.8 1332.9,507.4 1327.5,500.9 1322.5,494.1 1317.8,487.0 1313.8,479.4 1310.2,471.6 1307.2,463.5 1304.8,455.3 1303.1,446.8 1302.2,438.2 1302.2,429.6 1303.5,421.0 1305.8,412.6 1308.7,404.5 1311.5,396.5 1314.5,388.8 1317.7,381.3 1321.0,373.9 1324.5,366.7 1328.1,359.6 1332.5,353.0 1337.5,346.8 1343.3,341.3 1349.5,336.4 1355.8,331.8 1362.3,327.6 1368.7,323.7 1375.2,320.1 1381.5,316.7 1387.9,313.5 1394.3,310.5 1400.7,307.8 1407.1,305.4 1413.5,303.2 1420.0,301.1 1426.4,299.1 1432.8,297.2 1439.3,295.4 1445.9,294.0 1452.5,292.7 1459.2,291.8 1466.0,291.2 1472.8,291.0 1479.6,291.2 1486.5,291.7 1493.3,292.3 1500.3,293.0 1507.4,293.6 1514.7,294.3 1522.1,295.0 1529.7,296.0 1537.5,297.2 1545.4,298.7 1553.7,300.3 1562.5,301.8 1571.8,303.6 1581.3,305.7 1590.6,308.8 1599.5,312.9 1607.9,317.9 1615.9,323.6 1623.9,329.8 1631.8,336.5 1638.7,344.1 1643.8,352.8 1647.0,362.2 1648.9,372.0 1649.8,381.9 1649.5,391.9 1647.9,401.9 1644.9,411.6"/>
<polygon fill="#76c40a" points="1639.6,421.0 1634.6,429.8 1629.2,438.2 1624.0,446.0 1619.1,453.5 1614.1,460.7 1608.7,467.4 1602.6,473.4 1595.9,478.8 1588.9,483.6 1582.1,488.0 1575.6,492.2 1569.8,496.4 1564.6,500.8 1559.6,505.3 1554.6,509.6 1549.2,513.4 1543.4,516.6 1537.5,519.4 1531.7,522.2 1526.2,525.3 1520.9,528.8 1515.5,532.1 1509.8,535.0 1503.9,537.6 1497.9,540.0 1491.7,542.0 1485.5,543.9 1479.1,545.5 1472.6,546.9 1466.0,548.0 1459.3,549.2 1452.4,550.4 1445.3,551.7 1438.0,552.7 1430.6,553.0 1423.2,552.6 1415.7,551.9 1408.2,550.8 1400.8,549.0 1393.5,546.5 1386.5,543.5 1379.4,540.2 1372.2,536.9 1364.7,533.5 1357.4,529.6 1350.6,524.9 1344.6,519.3 1339.1,513.2 1333.8,506.9 1328.5,500.4 1323.4,493.6 1318.9,486.5 1314.8,479.0 1311.2,471.3 1308.2,463.3 1305.8,455.0 1304.1,446.6 1303.1,438.1 1303.2,429.5 1304.5,421.0 1306.8,412.7 1309.6,404.6 1312.5,396.7 1315.4,389.0 1318.6,381.5 1322.0,374.2 1325.5,367.1 1329.1,360.0 1333.4,353.4 1338.4,347.3 1344.1,341.9 1350.2,336.9 1356.5,332.3 1362.9,328.2 1369.3,324.3 1375.7,320.7 1382.0,317.3 1388.4,314.2 1394.7,311.2 1401.1,308.5 1407.5,306.1 1413.9,303.9 1420.3,301.8 1426.6,299.8 1433.0,297.9 1439.5,296.2 1446.0,294.7 1452.6,293.5 1459.3,292.5 1466.0,292.0 1472.8,291.8 1479.6,292.0 1486.4,292.5 1493.2,293.1 1500.1,293.8 1507.1,294.4 1514.4,295.0 1521.8,295.7 1529.3,296.7 1537.0,298.0 1544.9,299.4 1553.2,301.0 1561.9,302.6 1571.1,304.2 1580.6,306.4 1589.9,309.4 1598.8,313.5 1607.0,318.5 1615.0,324.2 1623.0,330.3 1630.8,337.0 1637.7,344.5 1642.8,353.1 1645.9,362.5 1647.7,372.3 1648.5,382.2 1648.2,392.1 1646.6,402.0 1643.7,411.7"/>
<polygon fill="#75c309" points="1637.1,421.0 1632.1,429.7 1626.8,437.9 1621.7,445.7 1616.8,453.1 1611.9,460.1 1606.5,466.7 1600.6,472.7 1594.0,478.0 1587.2,482.8 1580.5,487.1 1574.2,491.2 1568.4,495.4 1563.1,499.7 1558.2,504.0 1553.2,508.2 1547.9,512.0 1542.2,515.1 1536.4,517.9 1530.7,520.6 1525.3,523.7 1520.1,527.1 1514.7,530.4 1509.1,533.2 1503.3,535.8 1497.4,538.1 1491.3,540.2 1485.2,542.1 1478.9,543.7 1472.5,545.1 1466.0,546.2 1459.4,547.3 1452.6,548.6 1445.6,549.9 1438.4,550.8 1431.1,551.1 1423.8,550.8 1416.4,550.1 1409.0,549.0 1401.7,547.3 1394.5,544.8 1387.5,541.8 1380.6,538.6 1373.4,535.3 1366.1,532.0 1358.8,528.2 1352.2,523.5 1346.3,518.0 1340.8,512.0 1335.4,505.8 1330.2,499.4 1325.3,492.7 1320.8,485.7 1316.8,478.3 1313.2,470.6 1310.3,462.7 1307.9,454.6 1306.1,446.3 1305.1,437.9 1305.2,429.4 1306.4,421.0 1308.6,412.8 1311.4,404.8 1314.3,397.0 1317.2,389.4 1320.4,382.0 1323.7,374.8 1327.2,367.7 1330.8,360.8 1335.1,354.3 1340.1,348.3 1345.8,342.9 1351.8,338.0 1358.0,333.5 1364.3,329.4 1370.6,325.6 1376.9,322.0 1383.2,318.7 1389.4,315.6 1395.7,312.7 1402.0,310.1 1408.3,307.7 1414.6,305.6 1420.9,303.5 1427.2,301.6 1433.5,299.7 1439.9,298.0 1446.3,296.5 1452.8,295.3 1459.4,294.4 1466.0,293.8 1472.7,293.6 1479.4,293.8 1486.1,294.2 1492.8,294.8 1499.7,295.4 1506.6,296.0 1513.8,296.6 1521.1,297.3 1528.6,298.2 1536.2,299.5 1544.0,301.0 1552.1,302.5 1560.7,304.0 1569.8,305.7 1579.1,307.9 1588.3,310.9 1597.0,314.9 1605.2,319.9 1613.1,325.5 1620.9,331.5 1628.6,338.1 1635.4,345.6 1640.3,354.1 1643.5,363.3 1645.2,373.0 1646.0,382.7 1645.6,392.6 1644.0,402.3 1641.1,411.8"/>
<polygon fill="#74c309" points="1634.0,421.0 1629.2,429.6 1624.0,437.6 1618.9,445.2 1614.1,452.5 1609.2,459.4 1603.9,465.8 1598.1,471.7 1591.7,477.0 1585.2,481.7 1578.7,486.0 1572.4,490.1 1566.7,494.2 1561.5,498.3 1556.5,502.5 1551.6,506.6 1546.3,510.2 1540.8,513.3 1535.1,516.1 1529.5,518.8 1524.2,521.8 1519.0,525.1 1513.7,528.2 1508.3,531.1 1502.6,533.6 1496.8,535.8 1490.9,537.9 1484.8,539.8 1478.7,541.4 1472.4,542.8 1466.0,544.0 1459.5,545.2 1452.8,546.4 1445.9,547.6 1438.9,548.5 1431.8,548.8 1424.6,548.6 1417.3,547.9 1410.0,546.8 1402.8,545.1 1395.7,542.7 1388.9,539.8 1382.0,536.6 1375.0,533.4 1367.7,530.1 1360.7,526.3 1354.1,521.8 1348.2,516.4 1342.7,510.6 1337.5,504.5 1332.3,498.2 1327.5,491.6 1323.1,484.6 1319.1,477.4 1315.6,469.9 1312.7,462.1 1310.3,454.1 1308.6,445.9 1307.5,437.7 1307.5,429.3 1308.6,421.0 1310.8,412.9 1313.5,405.0 1316.3,397.3 1319.2,389.8 1322.4,382.5 1325.8,375.4 1329.3,368.5 1333.0,361.8 1337.2,355.4 1342.2,349.5 1347.8,344.2 1353.7,339.4 1359.8,335.0 1365.9,330.9 1372.2,327.2 1378.4,323.7 1384.6,320.4 1390.7,317.4 1396.9,314.6 1403.1,312.0 1409.3,309.7 1415.5,307.6 1421.7,305.6 1427.9,303.7 1434.1,301.9 1440.3,300.2 1446.6,298.8 1453.0,297.6 1459.5,296.7 1466.0,296.1 1472.6,295.9 1479.1,296.0 1485.7,296.3 1492.4,296.8 1499.1,297.3 1506.0,297.9 1513.0,298.4 1520.3,299.1 1527.6,300.1 1535.1,301.3 1542.8,302.8 1550.8,304.3 1559.2,305.9 1568.2,307.5 1577.3,309.7 1586.3,312.7 1594.9,316.6 1603.0,321.5 1610.7,327.0 1618.4,333.0 1625.9,339.5 1632.5,346.9 1637.3,355.2 1640.5,364.3 1642.3,373.8 1643.0,383.4 1642.6,393.0 1640.9,402.6 1638.0,412.0"/>
<polygon fill="#73c309" points="1631.0,421.0 1626.2,429.4 1621.2,437.3 1616.1,444.8 1611.3,451.9 1606.5,458.6 1601.3,465.0 1595.6,470.7 1589.5,476.0 1583.1,480.7 1576.8,485.0 1570.7,489.0 1565.0,492.9 1559.8,497.0 1554.9,501.0 1549.9,504.9 1544.8,508.5 1539.3,511.5 1533.7,514.2 1528.3,516.9 1523.1,519.9 1518.0,523.1 1512.8,526.1 1507.4,528.9 1501.9,531.4 1496.2,533.6 1490.4,535.7 1484.5,537.5 1478.4,539.2 1472.3,540.6 1466.0,541.8 1459.6,543.0 1453.1,544.2 1446.3,545.4 1439.4,546.2 1432.4,546.5 1425.3,546.3 1418.1,545.7 1411.0,544.6 1403.9,543.0 1396.9,540.7 1390.2,537.8 1383.4,534.7 1376.5,531.5 1369.4,528.3 1362.5,524.5 1356.0,520.0 1350.2,514.8 1344.7,509.1 1339.5,503.1 1334.5,496.9 1329.7,490.4 1325.3,483.6 1321.4,476.5 1318.0,469.1 1315.1,461.4 1312.7,453.6 1311.0,445.5 1310.0,437.4 1309.9,429.2 1310.9,421.0 1313.0,413.0 1315.6,405.2 1318.4,397.6 1321.3,390.2 1324.5,383.1 1327.8,376.1 1331.4,369.3 1335.1,362.7 1339.4,356.5 1344.3,350.7 1349.8,345.5 1355.5,340.8 1361.5,336.4 1367.6,332.4 1373.7,328.7 1379.8,325.3 1386.0,322.2 1392.0,319.2 1398.1,316.4 1404.2,313.9 1410.3,311.7 1416.4,309.6 1422.5,307.6 1428.6,305.8 1434.7,304.0 1440.8,302.4 1447.0,301.1 1453.3,299.9 1459.6,299.0 1466.0,298.4 1472.4,298.1 1478.9,298.2 1485.4,298.4 1492.0,298.9 1498.6,299.3 1505.4,299.8 1512.3,300.3 1519.4,301.0 1526.7,301.9 1534.0,303.2 1541.6,304.6 1549.5,306.1 1557.8,307.7 1566.5,309.3 1575.5,311.5 1584.4,314.4 1592.8,318.3 1600.7,323.1 1608.4,328.6 1615.9,334.5 1623.2,340.9 1629.6,348.2 1634.3,356.4 1637.5,365.3 1639.3,374.6 1640.0,384.0 1639.6,393.5 1637.9,402.9 1634.9,412.1"/>
<polygon fill="#72c208" points="1628.0,421.0 1623.3,429.2 1618.3,437.0 1613.4,444.3 1608.6,451.3 1603.8,457.9 1598.6,464.1 1593.1,469.8 1587.2,475.0 1581.1,479.6 1575.0,483.9 1569.0,487.9 1563.3,491.7 1558.1,495.6 1553.2,499.5 1548.3,503.3 1543.2,506.8 1537.9,509.8 1532.4,512.4 1527.1,515.1 1522.0,518.0 1517.0,521.0 1511.9,524.0 1506.6,526.7 1501.1,529.1 1495.6,531.3 1489.9,533.4 1484.1,535.3 1478.2,537.0 1472.2,538.4 1466.0,539.6 1459.7,540.8 1453.3,542.0 1446.7,543.1 1439.9,544.0 1433.0,544.3 1426.0,544.1 1419.0,543.5 1411.9,542.4 1405.0,540.8 1398.1,538.6 1391.5,535.8 1384.8,532.7 1378.0,529.6 1371.1,526.4 1364.3,522.7 1357.9,518.3 1352.1,513.2 1346.7,507.7 1341.5,501.8 1336.6,495.7 1331.9,489.3 1327.6,482.6 1323.8,475.6 1320.4,468.3 1317.5,460.8 1315.2,453.1 1313.4,445.2 1312.4,437.1 1312.2,429.1 1313.2,421.0 1315.2,413.1 1317.7,405.4 1320.5,398.0 1323.3,390.7 1326.5,383.6 1329.9,376.8 1333.5,370.1 1337.2,363.7 1341.5,357.6 1346.3,351.9 1351.7,346.8 1357.4,342.1 1363.3,337.8 1369.3,333.9 1375.3,330.3 1381.3,327.0 1387.3,323.9 1393.3,321.0 1399.3,318.3 1405.3,315.9 1411.3,313.6 1417.3,311.6 1423.3,309.7 1429.2,307.9 1435.2,306.2 1441.3,304.7 1447.4,303.3 1453.5,302.2 1459.7,301.3 1466.0,300.7 1472.3,300.3 1478.7,300.3 1485.1,300.5 1491.5,300.9 1498.1,301.3 1504.8,301.7 1511.6,302.2 1518.6,302.9 1525.7,303.8 1533.0,305.0 1540.4,306.4 1548.2,307.9 1556.3,309.5 1564.9,311.1 1573.7,313.3 1582.4,316.2 1590.7,320.0 1598.5,324.7 1606.0,330.1 1613.4,335.9 1620.4,342.3 1626.6,349.5 1631.4,357.5 1634.5,366.3 1636.3,375.4 1637.0,384.6 1636.6,394.0 1634.8,403.3 1631.9,412.3"/>
<polygon fill="#73c208" points="1625.0,421.0 1620.4,429.1 1615.5,436.7 1610.6,443.9 1605.8,450.7 1601.0,457.2 1596.0,463.2 1590.6,468.8 1584.9,473.9 1579.0,478.6 1573.1,482.8 1567.3,486.8 1561.7,490.5 1556.4,494.2 1551.5,498.0 1546.7,501.7 1541.7,505.0 1536.4,508.0 1531.1,510.6 1525.9,513.2 1520.9,516.1 1515.9,519.0 1510.9,521.9 1505.7,524.5 1500.4,526.9 1495.0,529.1 1489.4,531.1 1483.7,533.0 1478.0,534.7 1472.0,536.2 1466.0,537.5 1459.8,538.6 1453.5,539.8 1447.0,540.9 1440.3,541.7 1433.6,542.0 1426.7,541.8 1419.8,541.3 1412.9,540.3 1406.0,538.7 1399.3,536.5 1392.8,533.8 1386.2,530.8 1379.6,527.7 1372.8,524.5 1366.1,520.9 1359.8,516.6 1354.1,511.7 1348.7,506.2 1343.6,500.5 1338.7,494.5 1334.1,488.2 1329.9,481.6 1326.1,474.7 1322.8,467.5 1319.9,460.1 1317.6,452.5 1315.9,444.8 1314.8,436.9 1314.6,428.9 1315.5,421.0 1317.4,413.2 1319.9,405.6 1322.5,398.3 1325.4,391.1 1328.5,384.2 1332.0,377.4 1335.6,370.9 1339.3,364.6 1343.6,358.6 1348.4,353.1 1353.7,348.1 1359.3,343.5 1365.1,339.3 1370.9,335.4 1376.9,331.9 1382.8,328.6 1388.7,325.6 1394.6,322.8 1400.5,320.2 1406.4,317.8 1412.3,315.6 1418.2,313.6 1424.1,311.7 1429.9,310.0 1435.8,308.4 1441.7,306.9 1447.7,305.6 1453.8,304.5 1459.8,303.6 1466.0,303.0 1472.2,302.6 1478.5,302.5 1484.7,302.7 1491.1,302.9 1497.6,303.2 1504.1,303.6 1510.9,304.1 1517.8,304.7 1524.8,305.7 1531.9,306.9 1539.2,308.2 1546.8,309.7 1554.9,311.3 1563.3,313.0 1571.9,315.1 1580.4,318.0 1588.6,321.7 1596.3,326.4 1603.6,331.6 1610.8,337.4 1617.7,343.7 1623.7,350.8 1628.4,358.7 1631.5,367.2 1633.3,376.2 1634.1,385.3 1633.5,394.5 1631.7,403.6 1628.8,412.5"/>
<polygon fill="#74c307" points="1621.9,421.0 1617.5,428.9 1612.7,436.4 1607.8,443.5 1603.1,450.1 1598.3,456.5 1593.4,462.4 1588.1,467.9 1582.6,472.9 1577.0,477.6 1571.3,481.8 1565.6,485.7 1560.0,489.3 1554.8,492.9 1549.8,496.5 1545.0,500.0 1540.1,503.3 1535.0,506.2 1529.8,508.8 1524.7,511.4 1519.8,514.1 1514.9,517.0 1510.0,519.8 1504.9,522.4 1499.7,524.7 1494.4,526.8 1488.9,528.9 1483.4,530.7 1477.7,532.5 1471.9,534.0 1466.0,535.3 1460.0,536.4 1453.7,537.6 1447.4,538.6 1440.8,539.4 1434.2,539.7 1427.5,539.6 1420.7,539.0 1413.9,538.1 1407.1,536.5 1400.5,534.4 1394.1,531.7 1387.6,528.9 1381.1,525.8 1374.5,522.7 1367.9,519.1 1361.7,514.9 1356.0,510.1 1350.7,504.8 1345.6,499.2 1340.8,493.3 1336.3,487.1 1332.2,480.6 1328.5,473.8 1325.2,466.8 1322.3,459.5 1320.0,452.0 1318.3,444.4 1317.2,436.6 1317.0,428.8 1317.8,421.0 1319.6,413.3 1322.0,405.9 1324.6,398.6 1327.4,391.5 1330.6,384.7 1334.0,378.1 1337.6,371.7 1341.5,365.5 1345.7,359.7 1350.5,354.3 1355.7,349.4 1361.2,344.9 1366.9,340.7 1372.6,336.9 1378.4,333.4 1384.3,330.2 1390.1,327.3 1395.9,324.6 1401.7,322.0 1407.5,319.7 1413.3,317.6 1419.1,315.6 1424.8,313.8 1430.6,312.1 1436.4,310.5 1442.2,309.1 1448.1,307.9 1454.0,306.8 1460.0,305.9 1466.0,305.2 1472.1,304.8 1478.2,304.7 1484.4,304.8 1490.7,304.9 1497.0,305.2 1503.5,305.5 1510.2,306.0 1516.9,306.6 1523.8,307.5 1530.8,308.7 1538.0,310.1 1545.5,311.5 1553.4,313.1 1561.7,314.8 1570.1,316.9 1578.5,319.7 1586.5,323.5 1594.0,328.0 1601.3,333.2 1608.3,338.8 1615.0,345.1 1620.8,352.1 1625.4,359.8 1628.5,368.2 1630.3,377.0 1631.1,385.9 1630.5,394.9 1628.7,403.9 1625.7,412.6"/>
<polygon fill="#76c407" points="1618.9,421.0 1614.5,428.8 1609.8,436.1 1605.1,443.0 1600.4,449.6 1595.6,455.7 1590.7,461.5 1585.6,466.9 1580.3,471.9 1574.9,476.5 1569.4,480.7 1563.8,484.5 1558.3,488.1 1553.1,491.5 1548.2,495.0 1543.4,498.4 1538.5,501.6 1533.5,504.4 1528.5,507.0 1523.5,509.6 1518.7,512.2 1513.9,515.0 1509.0,517.7 1504.1,520.2 1499.0,522.5 1493.8,524.6 1488.4,526.6 1483.0,528.5 1477.5,530.2 1471.8,531.8 1466.0,533.1 1460.1,534.3 1454.0,535.4 1447.7,536.4 1441.3,537.1 1434.8,537.5 1428.2,537.3 1421.5,536.8 1414.9,535.9 1408.2,534.4 1401.7,532.3 1395.4,529.7 1389.0,526.9 1382.6,523.9 1376.2,520.8 1369.7,517.3 1363.6,513.2 1358.0,508.5 1352.6,503.4 1347.6,497.9 1342.9,492.1 1338.5,486.0 1334.5,479.6 1330.8,472.9 1327.6,466.0 1324.8,458.8 1322.5,451.5 1320.7,444.0 1319.6,436.4 1319.3,428.7 1320.1,421.0 1321.8,413.4 1324.1,406.1 1326.7,398.9 1329.5,392.0 1332.6,385.3 1336.1,378.8 1339.7,372.5 1343.6,366.5 1347.8,360.8 1352.6,355.5 1357.7,350.7 1363.1,346.2 1368.6,342.2 1374.3,338.4 1380.0,335.0 1385.7,331.9 1391.5,329.0 1397.2,326.3 1402.9,323.9 1408.6,321.6 1414.3,319.5 1420.0,317.6 1425.6,315.8 1431.3,314.2 1437.0,312.7 1442.7,311.3 1448.4,310.2 1454.2,309.1 1460.1,308.2 1466.0,307.5 1472.0,307.1 1478.0,306.9 1484.1,306.9 1490.2,307.0 1496.5,307.2 1502.9,307.4 1509.4,307.9 1516.1,308.5 1522.9,309.4 1529.8,310.5 1536.9,311.9 1544.2,313.3 1551.9,314.9 1560.0,316.6 1568.3,318.7 1576.5,321.5 1584.3,325.2 1591.8,329.6 1598.9,334.7 1605.8,340.3 1612.3,346.5 1617.9,353.4 1622.4,361.0 1625.5,369.2 1627.4,377.8 1628.1,386.5 1627.5,395.4 1625.6,404.2 1622.7,412.8"/>
<polygon fill="#77c407" points="1615.9,421.0 1611.6,428.6 1607.0,435.8 1602.3,442.6 1597.6,449.0 1592.9,455.0 1588.1,460.7 1583.1,466.0 1578.1,470.9 1572.9,475.5 1567.6,479.7 1562.1,483.4 1556.6,486.9 1551.4,490.2 1546.5,493.5 1541.7,496.7 1537.0,499.8 1532.1,502.6 1527.2,505.2 1522.3,507.7 1517.6,510.3 1512.9,513.0 1508.1,515.6 1503.2,518.0 1498.2,520.2 1493.2,522.3 1488.0,524.3 1482.7,526.2 1477.2,528.0 1471.7,529.6 1466.0,530.9 1460.2,532.1 1454.2,533.2 1448.1,534.2 1441.8,534.9 1435.4,535.2 1428.9,535.1 1422.4,534.6 1415.8,533.7 1409.3,532.2 1402.9,530.2 1396.7,527.7 1390.5,525.0 1384.2,522.0 1377.8,518.9 1371.6,515.4 1365.5,511.5 1359.9,506.9 1354.6,501.9 1349.7,496.6 1345.0,490.9 1340.7,484.8 1336.7,478.5 1333.1,472.0 1329.9,465.2 1327.2,458.2 1324.9,451.0 1323.2,443.6 1322.0,436.1 1321.7,428.6 1322.3,421.0 1324.0,413.6 1326.2,406.3 1328.8,399.3 1331.5,392.4 1334.7,385.8 1338.1,379.5 1341.8,373.3 1345.7,367.4 1350.0,361.9 1354.6,356.7 1359.7,352.0 1365.0,347.6 1370.4,343.6 1376.0,339.9 1381.6,336.6 1387.2,333.5 1392.9,330.7 1398.5,328.1 1404.1,325.7 1409.7,323.5 1415.3,321.5 1420.9,319.6 1426.4,317.9 1432.0,316.3 1437.6,314.9 1443.2,313.6 1448.8,312.4 1454.5,311.4 1460.2,310.5 1466.0,309.8 1471.9,309.3 1477.8,309.1 1483.7,309.0 1489.8,309.0 1496.0,309.1 1502.3,309.4 1508.7,309.7 1515.3,310.3 1521.9,311.2 1528.7,312.4 1535.7,313.7 1542.9,315.2 1550.5,316.7 1558.4,318.4 1566.5,320.5 1574.5,323.3 1582.2,326.9 1589.5,331.2 1596.5,336.2 1603.3,341.8 1609.6,347.9 1615.0,354.6 1619.4,362.1 1622.5,370.2 1624.4,378.6 1625.1,387.2 1624.5,395.9 1622.6,404.5 1619.6,413.0"/>
<polygon fill="#78c506" points="1612.8,421.0 1608.7,428.5 1604.2,435.5 1599.6,442.2 1594.9,448.4 1590.2,454.3 1585.4,459.8 1580.6,465.0 1575.8,469.9 1570.9,474.4 1565.7,478.6 1560.4,482.3 1555.0,485.6 1549.7,488.8 1544.8,492.0 1540.1,495.1 1535.4,498.1 1530.6,500.8 1525.9,503.4 1521.1,505.9 1516.4,508.4 1511.8,510.9 1507.2,513.4 1502.4,515.8 1497.5,518.0 1492.6,520.1 1487.5,522.1 1482.3,523.9 1477.0,525.7 1471.6,527.3 1466.0,528.7 1460.3,529.9 1454.4,531.0 1448.4,531.9 1442.3,532.6 1436.0,532.9 1429.7,532.9 1423.2,532.4 1416.8,531.5 1410.4,530.1 1404.2,528.1 1398.0,525.7 1391.9,523.0 1385.7,520.1 1379.5,517.1 1373.4,513.6 1367.5,509.7 1361.9,505.3 1356.6,500.5 1351.7,495.2 1347.1,489.6 1342.9,483.7 1339.0,477.5 1335.5,471.1 1332.3,464.4 1329.6,457.6 1327.4,450.5 1325.6,443.2 1324.5,435.9 1324.1,428.4 1324.6,421.0 1326.2,413.7 1328.3,406.5 1330.8,399.6 1333.6,392.9 1336.7,386.4 1340.2,380.1 1343.9,374.1 1347.8,368.4 1352.1,363.0 1356.7,357.9 1361.7,353.3 1366.9,349.0 1372.2,345.0 1377.6,341.4 1383.1,338.1 1388.7,335.1 1394.3,332.4 1399.8,329.9 1405.3,327.6 1410.8,325.5 1416.3,323.5 1421.8,321.6 1427.2,319.9 1432.7,318.4 1438.1,317.0 1443.6,315.8 1449.2,314.7 1454.7,313.7 1460.3,312.8 1466.0,312.1 1471.7,311.6 1477.5,311.2 1483.4,311.1 1489.4,311.0 1495.4,311.1 1501.7,311.3 1508.0,311.6 1514.4,312.2 1521.0,313.1 1527.7,314.2 1534.5,315.5 1541.6,317.0 1549.0,318.5 1556.8,320.2 1564.7,322.3 1572.6,325.0 1580.1,328.6 1587.3,332.9 1594.2,337.8 1600.7,343.2 1606.8,349.2 1612.1,355.9 1616.4,363.3 1619.5,371.1 1621.4,379.4 1622.1,387.8 1621.5,396.4 1619.5,404.9 1616.5,413.1"/>
<polygon fill="#7ac606" points="1609.8,421.0 1605.7,428.3 1601.4,435.2 1596.8,441.7 1592.1,447.8 1587.5,453.5 1582.8,459.0 1578.2,464.1 1573.5,468.9 1568.8,473.4 1563.9,477.5 1558.7,481.2 1553.3,484.4 1548.1,487.5 1543.1,490.5 1538.5,493.5 1533.8,496.4 1529.2,499.0 1524.5,501.6 1519.9,504.0 1515.3,506.5 1510.8,508.9 1506.2,511.3 1501.6,513.6 1496.8,515.8 1491.9,517.8 1487.0,519.8 1481.9,521.7 1476.8,523.5 1471.5,525.1 1466.0,526.5 1460.4,527.7 1454.7,528.8 1448.8,529.7 1442.8,530.3 1436.6,530.6 1430.4,530.6 1424.1,530.2 1417.8,529.3 1411.5,527.9 1405.4,526.0 1399.3,523.7 1393.3,521.1 1387.3,518.2 1381.2,515.2 1375.2,511.8 1369.4,508.0 1363.8,503.8 1358.6,499.0 1353.7,493.9 1349.2,488.4 1345.1,482.6 1341.3,476.5 1337.8,470.2 1334.7,463.7 1332.0,456.9 1329.8,450.0 1328.1,442.8 1326.9,435.6 1326.4,428.3 1326.9,421.0 1328.3,413.8 1330.4,406.8 1332.9,399.9 1335.6,393.3 1338.8,386.9 1342.2,380.8 1346.0,374.9 1349.9,369.3 1354.2,364.0 1358.8,359.1 1363.7,354.6 1368.8,350.4 1374.0,346.5 1379.3,342.9 1384.7,339.7 1390.1,336.8 1395.6,334.1 1401.1,331.7 1406.5,329.5 1411.9,327.4 1417.3,325.4 1422.7,323.7 1428.0,322.0 1433.4,320.5 1438.7,319.2 1444.1,318.0 1449.5,317.0 1455.0,316.0 1460.5,315.1 1466.0,314.4 1471.6,313.8 1477.3,313.4 1483.1,313.2 1488.9,313.1 1494.9,313.1 1501.0,313.2 1507.3,313.5 1513.6,314.1 1520.0,314.9 1526.6,316.1 1533.3,317.3 1540.3,318.8 1547.6,320.3 1555.2,322.0 1562.9,324.1 1570.6,326.8 1578.0,330.3 1585.1,334.5 1591.8,339.3 1598.2,344.7 1604.1,350.6 1609.2,357.2 1613.4,364.4 1616.5,372.1 1618.4,380.2 1619.1,388.4 1618.4,396.9 1616.4,405.2 1613.4,413.3"/>
<polygon fill="#7dc706" points="1606.8,421.0 1602.8,428.2 1598.5,434.9 1594.0,441.3 1589.4,447.2 1584.8,452.8 1580.2,458.1 1575.7,463.1 1571.2,467.9 1566.8,472.3 1562.1,476.5 1557.0,480.1 1551.6,483.2 1546.4,486.1 1541.5,489.0 1536.8,491.8 1532.3,494.6 1527.8,497.3 1523.2,499.8 1518.7,502.2 1514.2,504.5 1509.8,506.9 1505.3,509.2 1500.7,511.5 1496.1,513.6 1491.3,515.6 1486.5,517.5 1481.6,519.4 1476.5,521.3 1471.3,522.9 1466.0,524.3 1460.5,525.5 1454.9,526.6 1449.1,527.4 1443.2,528.1 1437.2,528.4 1431.1,528.4 1424.9,528.0 1418.7,527.1 1412.6,525.8 1406.6,523.9 1400.6,521.7 1394.7,519.1 1388.8,516.3 1382.9,513.3 1377.0,510.0 1371.3,506.3 1365.8,502.2 1360.6,497.6 1355.7,492.6 1351.3,487.2 1347.3,481.5 1343.6,475.5 1340.2,469.3 1337.1,462.9 1334.4,456.3 1332.2,449.4 1330.5,442.5 1329.3,435.4 1328.8,428.2 1329.2,421.0 1330.5,413.9 1332.6,407.0 1335.0,400.2 1337.7,393.7 1340.8,387.5 1344.3,381.5 1348.1,375.7 1352.1,370.3 1356.3,365.1 1360.9,360.3 1365.7,355.9 1370.7,351.7 1375.8,347.9 1381.0,344.4 1386.3,341.3 1391.6,338.4 1397.0,335.8 1402.4,333.5 1407.8,331.3 1413.1,329.3 1418.3,327.4 1423.6,325.7 1428.8,324.1 1434.0,322.6 1439.3,321.4 1444.6,320.2 1449.9,319.2 1455.2,318.3 1460.6,317.4 1466.0,316.7 1471.5,316.1 1477.1,315.6 1482.7,315.3 1488.5,315.1 1494.4,315.0 1500.4,315.1 1506.5,315.4 1512.8,316.0 1519.1,316.8 1525.5,317.9 1532.1,319.2 1539.0,320.6 1546.1,322.1 1553.5,323.8 1561.1,325.9 1568.6,328.6 1575.9,332.0 1582.8,336.1 1589.4,340.8 1595.7,346.1 1601.4,352.0 1606.3,358.5 1610.4,365.6 1613.5,373.1 1615.5,381.0 1616.2,389.1 1615.4,397.3 1613.4,405.5 1610.4,413.4"/>
<polygon fill="#82c907" points="1603.8,421.0 1599.9,428.0 1595.7,434.6 1591.3,440.8 1586.7,446.6 1582.0,452.1 1577.5,457.2 1573.2,462.1 1569.0,466.8 1564.7,471.3 1560.2,475.4 1555.2,479.0 1549.9,482.0 1544.7,484.7 1539.8,487.4 1535.2,490.2 1530.7,492.9 1526.3,495.5 1521.9,498.0 1517.5,500.3 1513.1,502.6 1508.7,504.9 1504.3,507.1 1499.9,509.3 1495.4,511.4 1490.7,513.3 1486.0,515.3 1481.2,517.2 1476.3,519.0 1471.2,520.7 1466.0,522.1 1460.6,523.4 1455.1,524.4 1449.5,525.2 1443.7,525.8 1437.8,526.1 1431.8,526.1 1425.8,525.8 1419.7,525.0 1413.7,523.6 1407.8,521.9 1401.9,519.7 1396.1,517.2 1390.3,514.4 1384.6,511.5 1378.8,508.2 1373.2,504.6 1367.7,500.6 1362.5,496.2 1357.8,491.3 1353.5,486.0 1349.5,480.4 1345.9,474.5 1342.5,468.4 1339.5,462.1 1336.8,455.6 1334.7,448.9 1332.9,442.1 1331.7,435.1 1331.1,428.1 1331.5,421.0 1332.7,414.0 1334.7,407.2 1337.0,400.6 1339.7,394.2 1342.8,388.0 1346.4,382.1 1350.1,376.5 1354.2,371.2 1358.4,366.2 1363.0,361.5 1367.7,357.1 1372.5,353.1 1377.5,349.4 1382.6,345.9 1387.8,342.8 1393.1,340.0 1398.4,337.5 1403.7,335.3 1409.0,333.2 1414.2,331.2 1419.3,329.4 1424.4,327.7 1429.6,326.1 1434.7,324.7 1439.9,323.5 1445.1,322.5 1450.2,321.5 1455.4,320.6 1460.7,319.7 1466.0,319.0 1471.4,318.3 1476.8,317.8 1482.4,317.4 1488.1,317.1 1493.9,317.0 1499.8,317.0 1505.8,317.3 1511.9,317.8 1518.1,318.7 1524.5,319.7 1530.9,321.0 1537.7,322.4 1544.6,323.9 1551.9,325.6 1559.3,327.7 1566.7,330.3 1573.8,333.7 1580.6,337.7 1587.1,342.4 1593.1,347.6 1598.7,353.4 1603.4,359.8 1607.4,366.7 1610.5,374.1 1612.5,381.8 1613.2,389.7 1612.4,397.8 1610.3,405.8 1607.3,413.6"/>
<polygon fill="#87ca08" points="1600.9,421.0 1597.1,427.9 1593.0,434.3 1588.6,440.4 1584.0,446.1 1579.5,451.4 1575.0,456.4 1570.7,461.2 1566.6,465.8 1562.6,470.2 1558.2,474.2 1553.3,477.7 1548.1,480.6 1542.9,483.3 1538.1,485.9 1533.5,488.5 1529.2,491.2 1524.9,493.7 1520.6,496.2 1516.3,498.5 1512.0,500.7 1507.7,502.9 1503.4,505.1 1499.1,507.2 1494.7,509.3 1490.2,511.2 1485.6,513.1 1480.9,515.0 1476.1,516.8 1471.1,518.5 1466.0,520.0 1460.7,521.2 1455.4,522.2 1449.8,523.0 1444.2,523.6 1438.4,523.9 1432.6,523.9 1426.6,523.6 1420.7,522.8 1414.8,521.5 1408.9,519.8 1403.2,517.7 1397.5,515.3 1391.8,512.6 1386.2,509.6 1380.6,506.4 1375.0,502.9 1369.6,499.1 1364.5,494.8 1359.8,490.0 1355.5,484.8 1351.6,479.3 1348.0,473.5 1344.7,467.6 1341.7,461.4 1339.1,455.0 1337.0,448.4 1335.3,441.7 1334.0,434.9 1333.5,427.9 1333.7,421.0 1335.0,414.1 1336.8,407.4 1339.2,400.9 1341.9,394.6 1344.9,388.6 1348.4,382.8 1352.2,377.3 1356.3,372.1 1360.5,367.2 1364.9,362.7 1369.6,358.4 1374.4,354.4 1379.2,350.7 1384.3,347.4 1389.3,344.3 1394.5,341.6 1399.7,339.1 1404.9,336.9 1410.1,334.9 1415.2,333.0 1420.2,331.2 1425.2,329.5 1430.3,327.9 1435.3,326.6 1440.4,325.4 1445.5,324.4 1450.6,323.5 1455.7,322.6 1460.8,321.7 1466.0,321.0 1471.3,320.3 1476.6,319.8 1482.1,319.3 1487.7,319.0 1493.4,318.8 1499.2,318.8 1505.1,319.0 1511.2,319.6 1517.3,320.4 1523.5,321.5 1529.8,322.7 1536.4,324.1 1543.3,325.6 1550.4,327.3 1557.7,329.3 1564.9,332.0 1571.9,335.3 1578.5,339.2 1584.9,343.8 1590.8,348.9 1596.1,354.7 1600.7,361.0 1604.6,367.8 1607.6,375.0 1609.6,382.5 1610.3,390.3 1609.5,398.3 1607.4,406.1 1604.4,413.7"/>
<polygon fill="#8cce16" points="1598.2,421.0 1594.5,427.7 1590.5,434.1 1586.2,440.0 1581.7,445.6 1577.1,450.8 1572.7,455.7 1568.4,460.3 1564.3,464.8 1560.2,469.0 1555.8,472.9 1551.1,476.2 1546.0,479.1 1541.0,481.7 1536.3,484.3 1531.9,486.9 1527.6,489.4 1523.5,491.9 1519.3,494.4 1515.1,496.7 1511.0,498.9 1506.8,501.1 1502.6,503.2 1498.4,505.3 1494.1,507.4 1489.7,509.3 1485.2,511.2 1480.6,513.0 1475.9,514.8 1471.0,516.5 1466.0,517.9 1460.9,519.1 1455.6,520.0 1450.2,520.8 1444.7,521.4 1439.0,521.7 1433.2,521.8 1427.4,521.5 1421.6,520.8 1415.8,519.5 1410.1,517.9 1404.4,515.8 1398.8,513.4 1393.3,510.8 1387.7,507.9 1382.2,504.8 1376.7,501.4 1371.4,497.6 1366.4,493.4 1361.7,488.7 1357.4,483.7 1353.6,478.3 1350.0,472.6 1346.7,466.8 1343.8,460.7 1341.2,454.4 1339.0,448.0 1337.4,441.4 1336.2,434.6 1335.7,427.8 1336.0,421.0 1337.2,414.3 1339.1,407.7 1341.5,401.3 1344.1,395.1 1347.2,389.2 1350.6,383.5 1354.3,378.1 1358.2,373.0 1362.4,368.2 1366.8,363.7 1371.3,359.5 1376.0,355.6 1380.9,352.0 1385.8,348.8 1390.8,345.8 1395.8,343.0 1400.9,340.6 1406.0,338.4 1411.0,336.4 1416.0,334.4 1421.0,332.6 1425.9,330.9 1430.8,329.4 1435.8,328.1 1440.8,327.0 1445.8,325.9 1450.8,325.0 1455.8,324.1 1460.9,323.3 1466.0,322.6 1471.2,321.9 1476.5,321.4 1481.8,321.0 1487.3,320.7 1492.9,320.5 1498.7,320.5 1504.5,320.7 1510.5,321.2 1516.5,321.9 1522.6,323.0 1528.9,324.2 1535.3,325.6 1542.0,327.1 1549.0,328.8 1556.2,330.8 1563.3,333.4 1570.2,336.6 1576.8,340.5 1583.0,345.0 1588.7,350.2 1593.8,355.9 1598.3,362.1 1602.0,368.8 1604.9,375.9 1606.8,383.3 1607.5,390.9 1606.6,398.7 1604.6,406.4 1601.6,413.9"/>
<polygon fill="#92d329" points="1595.6,421.0 1592.0,427.6 1588.0,433.8 1583.8,439.7 1579.3,445.1 1574.7,450.1 1570.3,454.9 1566.1,459.4 1561.9,463.7 1557.8,467.8 1553.5,471.5 1548.8,474.8 1543.9,477.6 1539.0,480.2 1534.5,482.7 1530.2,485.2 1526.1,487.7 1522.0,490.2 1518.0,492.6 1514.0,494.9 1509.9,497.1 1505.8,499.2 1501.8,501.3 1497.6,503.4 1493.4,505.4 1489.1,507.4 1484.8,509.2 1480.3,511.0 1475.6,512.8 1470.9,514.4 1466.0,515.8 1461.0,516.9 1455.8,517.9 1450.5,518.7 1445.1,519.2 1439.6,519.6 1433.9,519.7 1428.2,519.4 1422.5,518.7 1416.8,517.5 1411.2,515.9 1405.7,513.9 1400.2,511.6 1394.7,509.0 1389.3,506.2 1383.9,503.1 1378.5,499.8 1373.2,496.1 1368.2,492.0 1363.6,487.5 1359.4,482.6 1355.5,477.3 1352.0,471.8 1348.7,466.0 1345.8,460.1 1343.2,453.9 1341.1,447.5 1339.5,441.0 1338.4,434.4 1337.9,427.7 1338.3,421.0 1339.5,414.4 1341.4,407.9 1343.7,401.6 1346.4,395.6 1349.4,389.7 1352.7,384.2 1356.4,378.9 1360.2,373.9 1364.3,369.2 1368.6,364.8 1373.1,360.7 1377.7,356.9 1382.5,353.3 1387.3,350.1 1392.2,347.2 1397.1,344.5 1402.1,342.1 1407.1,339.9 1412.0,337.8 1416.9,335.9 1421.7,334.1 1426.6,332.4 1431.4,330.9 1436.3,329.6 1441.2,328.5 1446.1,327.5 1451.0,326.5 1456.0,325.7 1461.0,324.9 1466.0,324.2 1471.1,323.5 1476.3,323.0 1481.6,322.6 1487.0,322.4 1492.5,322.2 1498.1,322.1 1503.9,322.3 1509.7,322.7 1515.7,323.5 1521.7,324.5 1527.9,325.7 1534.2,327.1 1540.8,328.6 1547.7,330.3 1554.7,332.3 1561.7,334.8 1568.5,338.0 1575.0,341.8 1581.1,346.3 1586.6,351.4 1591.6,357.0 1595.8,363.2 1599.4,369.8 1602.2,376.7 1604.1,384.0 1604.6,391.5 1603.8,399.2 1601.8,406.7 1598.9,414.0"/>
<polygon fill="#99d73f" points="1593.0,421.0 1589.4,427.5 1585.6,433.6 1581.3,439.3 1576.9,444.6 1572.4,449.5 1568.0,454.1 1563.7,458.5 1559.6,462.7 1555.4,466.6 1551.2,470.2 1546.6,473.3 1541.8,476.1 1537.1,478.6 1532.7,481.0 1528.5,483.5 1524.5,486.0 1520.6,488.4 1516.7,490.8 1512.8,493.0 1508.8,495.2 1504.9,497.3 1500.9,499.5 1496.9,501.5 1492.8,503.5 1488.6,505.5 1484.3,507.3 1479.9,509.0 1475.4,510.7 1470.8,512.3 1466.0,513.7 1461.1,514.8 1456.0,515.8 1450.9,516.5 1445.6,517.1 1440.2,517.4 1434.6,517.6 1429.0,517.4 1423.4,516.7 1417.8,515.5 1412.4,513.9 1406.9,511.9 1401.6,509.7 1396.2,507.2 1390.8,504.5 1385.5,501.5 1380.2,498.3 1375.0,494.7 1370.1,490.7 1365.5,486.3 1361.3,481.4 1357.5,476.3 1354.0,470.9 1350.7,465.2 1347.8,459.4 1345.3,453.3 1343.2,447.1 1341.6,440.7 1340.6,434.2 1340.2,427.6 1340.6,421.0 1341.8,414.5 1343.7,408.1 1346.0,402.0 1348.6,396.0 1351.6,390.3 1354.8,384.9 1358.4,379.7 1362.2,374.8 1366.3,370.2 1370.5,365.9 1374.9,361.8 1379.4,358.1 1384.1,354.6 1388.8,351.5 1393.6,348.6 1398.4,345.9 1403.3,343.5 1408.1,341.3 1412.9,339.3 1417.7,337.4 1422.5,335.6 1427.2,333.9 1432.0,332.4 1436.8,331.1 1441.6,330.0 1446.4,329.0 1451.3,328.1 1456.1,327.2 1461.0,326.4 1466.0,325.7 1471.0,325.1 1476.1,324.7 1481.3,324.3 1486.6,324.0 1492.0,323.9 1497.6,323.8 1503.3,323.9 1509.0,324.3 1514.9,325.0 1520.9,326.0 1526.9,327.2 1533.1,328.6 1539.6,330.1 1546.3,331.8 1553.2,333.8 1560.1,336.2 1566.8,339.3 1573.2,343.1 1579.2,347.5 1584.5,352.6 1589.3,358.2 1593.4,364.3 1596.8,370.8 1599.5,377.6 1601.3,384.7 1601.8,392.1 1601.0,399.6 1599.0,407.0 1596.2,414.2"/>
<polygon fill="#a1db55" points="1590.3,421.0 1586.9,427.3 1583.1,433.3 1578.9,438.9 1574.5,444.1 1570.0,448.9 1565.6,453.4 1561.4,457.6 1557.2,461.6 1553.1,465.4 1548.8,468.8 1544.3,471.9 1539.7,474.5 1535.2,477.0 1530.9,479.4 1526.9,481.9 1523.0,484.3 1519.2,486.7 1515.4,489.0 1511.6,491.2 1507.8,493.4 1504.0,495.5 1500.1,497.6 1496.2,499.6 1492.2,501.6 1488.1,503.5 1483.9,505.3 1479.6,507.1 1475.2,508.7 1470.7,510.2 1466.0,511.5 1461.2,512.7 1456.3,513.6 1451.2,514.4 1446.0,514.9 1440.7,515.3 1435.3,515.5 1429.8,515.3 1424.3,514.7 1418.9,513.5 1413.5,511.9 1408.2,510.0 1402.9,507.8 1397.6,505.4 1392.4,502.8 1387.1,499.9 1381.9,496.7 1376.8,493.2 1372.0,489.3 1367.4,485.0 1363.3,480.3 1359.4,475.3 1355.9,470.0 1352.7,464.5 1349.8,458.7 1347.4,452.8 1345.3,446.7 1343.8,440.4 1342.8,434.0 1342.4,427.5 1342.8,421.0 1344.1,414.6 1346.0,408.4 1348.3,402.4 1350.9,396.5 1353.8,390.9 1357.0,385.6 1360.5,380.5 1364.2,375.7 1368.2,371.2 1372.3,366.9 1376.6,363.0 1381.1,359.3 1385.7,356.0 1390.3,352.9 1395.0,350.0 1399.7,347.4 1404.5,345.0 1409.2,342.8 1413.9,340.8 1418.6,338.9 1423.2,337.0 1427.9,335.4 1432.6,333.9 1437.3,332.6 1442.0,331.5 1446.8,330.5 1451.5,329.6 1456.3,328.8 1461.1,328.0 1466.0,327.3 1470.9,326.8 1476.0,326.3 1481.1,326.0 1486.3,325.7 1491.6,325.5 1497.0,325.5 1502.6,325.6 1508.3,325.9 1514.1,326.5 1520.0,327.5 1525.9,328.7 1532.0,330.1 1538.3,331.7 1545.0,333.3 1551.7,335.3 1558.6,337.7 1565.2,340.7 1571.5,344.4 1577.2,348.8 1582.5,353.8 1587.0,359.3 1591.0,365.4 1594.3,371.8 1596.8,378.5 1598.5,385.5 1599.0,392.7 1598.2,400.1 1596.2,407.3 1593.4,414.3"/>
<polygon fill="#a8e068" points="1587.7,421.0 1584.3,427.2 1580.6,433.0 1576.5,438.5 1572.1,443.5 1567.6,448.2 1563.3,452.6 1559.0,456.7 1554.8,460.6 1550.7,464.2 1546.5,467.5 1542.1,470.4 1537.6,473.0 1533.2,475.4 1529.1,477.8 1525.2,480.2 1521.5,482.6 1517.8,484.9 1514.1,487.2 1510.4,489.4 1506.7,491.5 1503.0,493.6 1499.3,495.7 1495.5,497.7 1491.6,499.7 1487.6,501.6 1483.5,503.4 1479.3,505.1 1475.0,506.7 1470.6,508.1 1466.0,509.4 1461.3,510.5 1456.5,511.5 1451.6,512.2 1446.5,512.7 1441.3,513.1 1436.0,513.3 1430.6,513.2 1425.2,512.6 1419.9,511.5 1414.6,510.0 1409.4,508.1 1404.3,506.0 1399.1,503.6 1393.9,501.1 1388.8,498.2 1383.6,495.2 1378.7,491.7 1373.9,487.9 1369.4,483.8 1365.2,479.2 1361.4,474.3 1357.9,469.1 1354.7,463.7 1351.9,458.1 1349.4,452.2 1347.4,446.2 1345.9,440.0 1344.9,433.7 1344.7,427.4 1345.1,421.0 1346.4,414.7 1348.3,408.6 1350.6,402.7 1353.1,397.0 1356.0,391.5 1359.1,386.3 1362.5,381.3 1366.2,376.6 1370.1,372.1 1374.2,368.0 1378.4,364.1 1382.8,360.6 1387.3,357.3 1391.8,354.2 1396.4,351.4 1401.0,348.8 1405.7,346.5 1410.3,344.3 1414.9,342.3 1419.4,340.3 1424.0,338.5 1428.5,336.9 1433.1,335.4 1437.8,334.1 1442.4,333.0 1447.1,332.0 1451.8,331.1 1456.5,330.3 1461.2,329.6 1466.0,328.9 1470.9,328.4 1475.8,327.9 1480.8,327.6 1485.9,327.4 1491.1,327.2 1496.5,327.1 1502.0,327.2 1507.6,327.5 1513.3,328.1 1519.1,329.0 1524.9,330.2 1530.9,331.7 1537.1,333.2 1543.6,334.8 1550.3,336.7 1557.0,339.1 1563.5,342.0 1569.7,345.7 1575.3,350.0 1580.4,355.0 1584.8,360.5 1588.5,366.4 1591.7,372.8 1594.2,379.4 1595.8,386.2 1596.2,393.3 1595.3,400.5 1593.4,407.6 1590.7,414.5"/>
<polygon fill="#afe377" points="1585.0,421.0 1581.8,427.1 1578.1,432.8 1574.0,438.1 1569.7,443.0 1565.3,447.6 1560.9,451.9 1556.7,455.8 1552.5,459.5 1548.3,463.0 1544.2,466.1 1539.9,469.0 1535.5,471.5 1531.3,473.9 1527.3,476.2 1523.5,478.5 1519.9,480.9 1516.3,483.2 1512.8,485.4 1509.2,487.6 1505.7,489.7 1502.1,491.8 1498.4,493.8 1494.7,495.8 1491.0,497.8 1487.1,499.7 1483.1,501.4 1479.0,503.1 1474.8,504.6 1470.5,506.1 1466.0,507.3 1461.4,508.4 1456.7,509.3 1451.9,510.0 1447.0,510.6 1441.9,511.0 1436.7,511.2 1431.4,511.1 1426.1,510.6 1420.9,509.5 1415.8,508.0 1410.7,506.2 1405.6,504.1 1400.5,501.8 1395.5,499.3 1390.4,496.6 1385.4,493.6 1380.5,490.3 1375.7,486.6 1371.3,482.5 1367.2,478.1 1363.4,473.3 1359.9,468.2 1356.7,462.9 1353.9,457.4 1351.5,451.7 1349.5,445.8 1348.0,439.7 1347.1,433.5 1346.9,427.2 1347.4,421.0 1348.7,414.9 1350.5,408.9 1352.8,403.1 1355.4,397.5 1358.2,392.1 1361.2,387.0 1364.6,382.1 1368.2,377.5 1372.0,373.1 1376.0,369.1 1380.2,365.3 1384.5,361.8 1388.9,358.6 1393.3,355.6 1397.8,352.8 1402.3,350.3 1406.9,348.0 1411.3,345.8 1415.8,343.7 1420.3,341.8 1424.7,340.0 1429.2,338.3 1433.7,336.9 1438.3,335.6 1442.8,334.5 1447.4,333.5 1452.0,332.7 1456.6,331.9 1461.3,331.2 1466.0,330.5 1470.8,330.0 1475.6,329.6 1480.5,329.3 1485.5,329.0 1490.7,328.9 1496.0,328.8 1501.4,328.8 1506.9,329.1 1512.6,329.6 1518.2,330.5 1524.0,331.8 1529.8,333.2 1535.9,334.7 1542.2,336.3 1548.8,338.2 1555.4,340.5 1561.8,343.4 1567.9,347.0 1573.4,351.2 1578.3,356.2 1582.5,361.6 1586.1,367.5 1589.1,373.7 1591.5,380.2 1593.0,387.0 1593.4,393.9 1592.5,401.0 1590.6,407.9 1588.0,414.6"/>
<polygon fill="#b6e785" points="1582.4,421.0 1579.2,426.9 1575.6,432.5 1571.6,437.7 1567.3,442.5 1562.9,447.0 1558.6,451.1 1554.3,454.9 1550.1,458.5 1546.0,461.7 1541.8,464.8 1537.6,467.5 1533.4,470.0 1529.3,472.3 1525.5,474.6 1521.9,476.9 1518.4,479.2 1514.9,481.4 1511.5,483.6 1508.0,485.7 1504.6,487.8 1501.1,489.9 1497.6,491.9 1494.0,494.0 1490.3,495.9 1486.6,497.8 1482.7,499.5 1478.7,501.1 1474.6,502.6 1470.3,504.0 1466.0,505.2 1461.5,506.3 1456.9,507.2 1452.2,507.9 1447.4,508.4 1442.5,508.8 1437.4,509.1 1432.2,509.0 1427.0,508.5 1421.9,507.5 1416.9,506.0 1411.9,504.3 1407.0,502.3 1402.0,500.0 1397.0,497.6 1392.0,495.0 1387.1,492.0 1382.3,488.8 1377.6,485.2 1373.2,481.3 1369.1,476.9 1365.3,472.3 1361.9,467.4 1358.7,462.2 1355.9,456.8 1353.5,451.1 1351.6,445.3 1350.2,439.3 1349.3,433.3 1349.1,427.1 1349.7,421.0 1351.0,415.0 1352.8,409.1 1355.1,403.4 1357.6,398.0 1360.4,392.7 1363.4,387.7 1366.7,382.9 1370.2,378.4 1374.0,374.1 1377.9,370.1 1382.0,366.4 1386.2,363.0 1390.5,359.9 1394.9,356.9 1399.2,354.2 1403.6,351.7 1408.0,349.4 1412.4,347.3 1416.8,345.2 1421.1,343.3 1425.5,341.5 1429.9,339.8 1434.3,338.4 1438.8,337.1 1443.2,336.1 1447.7,335.1 1452.2,334.2 1456.8,333.4 1461.4,332.7 1466.0,332.1 1470.7,331.6 1475.4,331.2 1480.3,330.9 1485.2,330.7 1490.2,330.5 1495.4,330.5 1500.8,330.4 1506.2,330.6 1511.8,331.1 1517.4,332.0 1523.0,333.3 1528.7,334.7 1534.7,336.2 1540.9,337.8 1547.3,339.7 1553.8,341.9 1560.2,344.7 1566.1,348.2 1571.5,352.5 1576.2,357.4 1580.2,362.8 1583.7,368.6 1586.5,374.7 1588.8,381.1 1590.2,387.7 1590.6,394.5 1589.7,401.4 1587.8,408.2 1585.2,414.8"/>
<polygon fill="#bae781" points="1579.7,421.0 1576.7,426.8 1573.1,432.3 1569.2,437.3 1564.9,442.0 1560.6,446.3 1556.3,450.3 1552.0,454.0 1547.8,457.4 1543.6,460.5 1539.5,463.4 1535.4,466.1 1531.3,468.5 1527.4,470.7 1523.7,473.0 1520.2,475.2 1516.8,477.5 1513.5,479.7 1510.2,481.8 1506.9,483.9 1503.5,486.0 1500.2,488.1 1496.8,490.1 1493.3,492.1 1489.7,494.0 1486.1,495.8 1482.3,497.5 1478.4,499.1 1474.4,500.6 1470.2,501.9 1466.0,503.1 1461.6,504.1 1457.2,505.0 1452.6,505.7 1447.9,506.3 1443.0,506.7 1438.1,507.0 1433.0,507.0 1427.9,506.5 1423.0,505.5 1418.0,504.1 1413.2,502.3 1408.3,500.4 1403.4,498.2 1398.6,495.9 1393.7,493.3 1388.8,490.5 1384.1,487.3 1379.5,483.9 1375.1,480.0 1371.0,475.8 1367.3,471.3 1363.9,466.5 1360.7,461.4 1358.0,456.1 1355.6,450.6 1353.7,444.9 1352.3,439.0 1351.5,433.0 1351.4,427.0 1352.0,421.0 1353.3,415.1 1355.1,409.3 1357.4,403.8 1359.9,398.4 1362.6,393.3 1365.5,388.4 1368.7,383.7 1372.2,379.2 1375.9,375.1 1379.7,371.2 1383.7,367.6 1387.9,364.2 1392.1,361.2 1396.4,358.3 1400.7,355.7 1405.0,353.2 1409.2,350.9 1413.5,348.7 1417.7,346.7 1422.0,344.8 1426.2,342.9 1430.5,341.3 1434.9,339.9 1439.2,338.7 1443.6,337.6 1448.1,336.6 1452.5,335.7 1457.0,335.0 1461.5,334.3 1466.0,333.7 1470.6,333.2 1475.3,332.8 1480.0,332.6 1484.8,332.4 1489.8,332.2 1494.9,332.1 1500.1,332.1 1505.5,332.2 1511.0,332.7 1516.5,333.6 1522.0,334.8 1527.6,336.2 1533.4,337.7 1539.5,339.3 1545.8,341.2 1552.2,343.4 1558.5,346.1 1564.4,349.5 1569.6,353.7 1574.1,358.6 1578.0,364.0 1581.2,369.7 1583.9,375.7 1586.1,382.0 1587.5,388.4 1587.8,395.1 1586.9,401.9 1585.0,408.5 1582.5,414.9"/>
<polygon fill="#bee679" points="1577.1,421.0 1574.1,426.7 1570.7,432.0 1566.7,437.0 1562.5,441.5 1558.2,445.7 1553.9,449.6 1549.7,453.1 1545.4,456.4 1541.2,459.3 1537.2,462.1 1533.1,464.6 1529.2,466.9 1525.5,469.1 1521.9,471.4 1518.6,473.6 1515.3,475.7 1512.1,477.9 1508.9,480.0 1505.7,482.1 1502.5,484.2 1499.2,486.2 1495.9,488.2 1492.5,490.2 1489.1,492.1 1485.5,493.9 1481.9,495.6 1478.1,497.1 1474.1,498.5 1470.1,499.8 1466.0,501.0 1461.8,502.0 1457.4,502.9 1452.9,503.6 1448.3,504.1 1443.6,504.5 1438.8,504.9 1433.8,504.9 1428.8,504.5 1424.0,503.5 1419.2,502.1 1414.4,500.4 1409.7,498.5 1404.9,496.5 1400.1,494.2 1395.3,491.7 1390.6,488.9 1385.9,485.9 1381.4,482.5 1377.0,478.8 1373.0,474.7 1369.2,470.3 1365.8,465.6 1362.7,460.6 1360.0,455.4 1357.7,450.0 1355.8,444.4 1354.4,438.7 1353.7,432.8 1353.6,426.9 1354.2,421.0 1355.5,415.2 1357.4,409.6 1359.7,404.2 1362.1,398.9 1364.8,393.9 1367.7,389.0 1370.8,384.5 1374.2,380.1 1377.8,376.1 1381.6,372.3 1385.5,368.7 1389.6,365.5 1393.7,362.5 1397.9,359.7 1402.1,357.1 1406.3,354.6 1410.4,352.4 1414.6,350.2 1418.7,348.2 1422.8,346.2 1427.0,344.4 1431.2,342.8 1435.4,341.4 1439.7,340.2 1444.1,339.1 1448.4,338.1 1452.7,337.2 1457.1,336.5 1461.5,335.9 1466.0,335.3 1470.5,334.8 1475.1,334.5 1479.7,334.2 1484.5,334.1 1489.3,333.9 1494.3,333.8 1499.5,333.7 1504.8,333.8 1510.2,334.2 1515.6,335.1 1521.0,336.3 1526.5,337.7 1532.2,339.3 1538.2,340.9 1544.4,342.6 1550.7,344.8 1556.8,347.5 1562.6,350.8 1567.7,355.0 1572.0,359.8 1575.7,365.1 1578.8,370.8 1581.4,376.7 1583.4,382.8 1584.7,389.2 1585.0,395.7 1584.0,402.3 1582.2,408.8 1579.8,415.0"/>
<polygon fill="#c2e571" points="1574.5,421.0 1571.6,426.5 1568.2,431.7 1564.3,436.6 1560.1,441.0 1555.8,445.1 1551.6,448.8 1547.3,452.2 1543.0,455.3 1538.9,458.1 1534.8,460.7 1530.9,463.1 1527.1,465.4 1523.5,467.6 1520.1,469.7 1516.9,471.9 1513.7,474.0 1510.7,476.1 1507.6,478.2 1504.5,480.3 1501.4,482.3 1498.3,484.3 1495.1,486.3 1491.8,488.3 1488.5,490.2 1485.0,492.0 1481.4,493.6 1477.7,495.1 1473.9,496.5 1470.0,497.7 1466.0,498.9 1461.9,499.9 1457.6,500.7 1453.3,501.4 1448.8,501.9 1444.2,502.4 1439.4,502.7 1434.6,502.8 1429.8,502.4 1425.0,501.5 1420.3,500.1 1415.7,498.5 1411.0,496.7 1406.3,494.7 1401.7,492.5 1397.0,490.0 1392.3,487.4 1387.7,484.4 1383.2,481.1 1378.9,477.5 1374.9,473.6 1371.2,469.3 1367.8,464.7 1364.8,459.9 1362.0,454.8 1359.7,449.5 1357.9,444.0 1356.6,438.3 1355.8,432.6 1355.9,426.8 1356.5,421.0 1357.8,415.3 1359.7,409.8 1361.9,404.5 1364.4,399.4 1367.0,394.5 1369.8,389.7 1372.9,385.3 1376.2,381.0 1379.7,377.0 1383.4,373.3 1387.3,369.9 1391.2,366.7 1395.3,363.8 1399.4,361.0 1403.5,358.5 1407.6,356.1 1411.6,353.8 1415.6,351.7 1419.7,349.7 1423.7,347.7 1427.7,345.9 1431.8,344.3 1436.0,342.9 1440.2,341.7 1444.5,340.6 1448.7,339.6 1453.0,338.8 1457.3,338.1 1461.6,337.4 1466.0,336.9 1470.4,336.4 1474.9,336.1 1479.5,335.9 1484.1,335.7 1488.9,335.6 1493.8,335.4 1498.9,335.3 1504.1,335.4 1509.4,335.7 1514.7,336.6 1520.0,337.8 1525.4,339.3 1531.0,340.8 1536.8,342.4 1542.9,344.1 1549.1,346.2 1555.2,348.8 1560.8,352.1 1565.8,356.2 1570.0,361.0 1573.4,366.3 1576.4,371.9 1578.8,377.7 1580.7,383.7 1582.0,389.9 1582.2,396.3 1581.2,402.8 1579.4,409.1 1577.0,415.2"/>
<polygon fill="#c7e568" points="1571.8,421.0 1569.0,426.4 1565.7,431.5 1561.8,436.2 1557.7,440.5 1553.5,444.4 1549.2,448.0 1545.0,451.3 1540.7,454.3 1536.5,456.9 1532.5,459.4 1528.7,461.7 1525.0,463.9 1521.6,466.0 1518.3,468.1 1515.2,470.2 1512.2,472.3 1509.2,474.4 1506.3,476.4 1503.3,478.5 1500.3,480.5 1497.3,482.5 1494.2,484.4 1491.1,486.4 1487.9,488.3 1484.5,490.1 1481.0,491.7 1477.4,493.1 1473.7,494.5 1469.9,495.7 1466.0,496.8 1462.0,497.8 1457.8,498.6 1453.6,499.3 1449.3,499.8 1444.8,500.2 1440.1,500.6 1435.4,500.7 1430.7,500.4 1426.0,499.5 1421.5,498.2 1416.9,496.6 1412.4,494.8 1407.8,492.9 1403.2,490.7 1398.6,488.4 1394.0,485.8 1389.5,482.9 1385.1,479.8 1380.9,476.3 1376.9,472.5 1373.2,468.3 1369.8,463.8 1366.8,459.1 1364.1,454.1 1361.8,448.9 1359.9,443.5 1358.7,438.0 1358.0,432.3 1358.1,426.7 1358.8,421.0 1360.1,415.5 1362.0,410.1 1364.2,404.9 1366.6,399.9 1369.2,395.1 1371.9,390.4 1374.9,386.0 1378.2,381.9 1381.7,378.0 1385.3,374.4 1389.0,371.0 1392.9,367.9 1396.9,365.1 1400.9,362.4 1404.9,359.9 1408.9,357.6 1412.8,355.3 1416.7,353.2 1420.6,351.1 1424.5,349.2 1428.5,347.4 1432.5,345.7 1436.6,344.4 1440.7,343.2 1444.9,342.1 1449.0,341.1 1453.2,340.3 1457.4,339.6 1461.7,339.0 1466.0,338.5 1470.3,338.1 1474.7,337.8 1479.2,337.6 1483.8,337.4 1488.4,337.2 1493.3,337.1 1498.3,337.0 1503.4,337.0 1508.7,337.3 1513.9,338.1 1519.0,339.3 1524.3,340.8 1529.7,342.3 1535.4,343.9 1541.4,345.6 1547.5,347.6 1553.5,350.2 1559.1,353.4 1563.9,357.5 1567.9,362.2 1571.2,367.4 1573.9,373.0 1576.2,378.7 1578.0,384.6 1579.2,390.7 1579.4,396.9 1578.4,403.2 1576.6,409.4 1574.3,415.3"/>
<polygon fill="#cbe45d" points="1569.0,421.0 1566.3,426.3 1563.1,431.2 1559.4,435.8 1555.3,440.0 1551.2,443.8 1547.0,447.3 1542.8,450.5 1538.5,453.3 1534.4,455.9 1530.5,458.2 1526.7,460.4 1523.2,462.6 1519.9,464.6 1516.8,466.7 1513.8,468.8 1510.8,470.8 1508.0,472.8 1505.1,474.8 1502.2,476.8 1499.4,478.8 1496.4,480.7 1493.5,482.7 1490.4,484.6 1487.3,486.4 1484.0,488.2 1480.6,489.8 1477.1,491.2 1473.5,492.5 1469.8,493.7 1466.0,494.7 1462.1,495.7 1458.1,496.5 1453.9,497.2 1449.7,497.7 1445.3,498.1 1440.8,498.5 1436.2,498.7 1431.6,498.3 1427.0,497.5 1422.6,496.2 1418.1,494.7 1413.7,493.0 1409.2,491.1 1404.7,489.1 1400.2,486.8 1395.7,484.3 1391.3,481.5 1386.9,478.4 1382.7,475.1 1378.8,471.4 1375.1,467.3 1371.8,462.9 1368.8,458.3 1366.2,453.4 1363.9,448.3 1362.1,443.1 1360.9,437.6 1360.3,432.1 1360.5,426.5 1361.2,421.0 1362.6,415.6 1364.4,410.3 1366.7,405.3 1369.1,400.4 1371.6,395.7 1374.3,391.2 1377.2,386.9 1380.4,382.9 1383.8,379.1 1387.3,375.6 1390.9,372.3 1394.7,369.2 1398.6,366.4 1402.5,363.8 1406.4,361.4 1410.2,359.1 1414.1,356.9 1417.9,354.7 1421.7,352.7 1425.5,350.8 1429.3,349.0 1433.2,347.3 1437.2,346.0 1441.2,344.8 1445.3,343.7 1449.4,342.8 1453.5,341.9 1457.6,341.2 1461.8,340.6 1466.0,340.1 1470.3,339.7 1474.6,339.4 1478.9,339.2 1483.4,339.1 1488.0,339.0 1492.7,338.8 1497.6,338.7 1502.6,338.7 1507.8,339.0 1512.9,339.8 1517.9,341.1 1523.0,342.5 1528.4,344.0 1534.0,345.5 1539.8,347.2 1545.7,349.2 1551.6,351.7 1557.0,354.9 1561.7,358.9 1565.6,363.5 1568.7,368.7 1571.3,374.1 1573.5,379.7 1575.2,385.5 1576.3,391.5 1576.4,397.5 1575.4,403.7 1573.6,409.7 1571.4,415.5"/>
<polygon fill="#d0e453" points="1565.9,421.0 1563.4,426.1 1560.4,430.9 1556.8,435.4 1552.9,439.5 1548.9,443.2 1544.9,446.6 1540.8,449.7 1536.7,452.5 1532.7,455.0 1528.9,457.3 1525.2,459.5 1521.8,461.6 1518.6,463.6 1515.5,465.6 1512.6,467.6 1509.8,469.6 1506.9,471.6 1504.1,473.5 1501.3,475.4 1498.5,477.3 1495.6,479.2 1492.7,481.0 1489.8,482.9 1486.7,484.7 1483.5,486.4 1480.2,488.0 1476.8,489.4 1473.3,490.6 1469.7,491.8 1466.0,492.8 1462.2,493.7 1458.3,494.5 1454.3,495.1 1450.1,495.6 1445.9,496.1 1441.5,496.5 1437.0,496.6 1432.5,496.3 1428.0,495.5 1423.7,494.3 1419.3,492.9 1415.0,491.2 1410.6,489.4 1406.2,487.5 1401.7,485.3 1397.3,482.8 1393.0,480.1 1388.7,477.2 1384.6,473.9 1380.7,470.3 1377.1,466.3 1373.8,462.0 1370.9,457.5 1368.4,452.7 1366.2,447.7 1364.5,442.6 1363.4,437.3 1362.9,431.8 1363.0,426.4 1363.8,421.0 1365.2,415.7 1367.1,410.6 1369.4,405.7 1371.8,401.0 1374.3,396.4 1377.0,392.1 1379.8,387.9 1382.9,384.0 1386.2,380.3 1389.6,376.9 1393.1,373.6 1396.7,370.7 1400.5,367.9 1404.2,365.4 1408.0,363.0 1411.7,360.7 1415.4,358.5 1419.1,356.4 1422.8,354.4 1426.5,352.5 1430.2,350.7 1434.0,349.1 1437.9,347.7 1441.8,346.6 1445.8,345.5 1449.7,344.5 1453.7,343.6 1457.8,342.9 1461.9,342.3 1466.0,341.8 1470.2,341.4 1474.4,341.1 1478.7,341.0 1483.0,340.9 1487.5,340.8 1492.1,340.7 1496.8,340.7 1501.7,340.8 1506.7,341.1 1511.6,342.0 1516.6,343.1 1521.6,344.5 1526.8,345.9 1532.3,347.4 1537.9,349.1 1543.7,351.1 1549.3,353.5 1554.6,356.7 1559.1,360.5 1563.0,365.0 1566.0,370.0 1568.5,375.4 1570.5,380.9 1572.1,386.5 1573.1,392.3 1573.1,398.2 1572.1,404.2 1570.3,410.0 1568.2,415.6"/>
<polygon fill="#d4e349" points="1562.9,421.0 1560.5,426.0 1557.7,430.6 1554.3,435.0 1550.6,439.0 1546.7,442.6 1542.8,446.0 1538.9,449.0 1534.9,451.7 1531.0,454.1 1527.3,456.4 1523.8,458.5 1520.4,460.5 1517.3,462.5 1514.3,464.5 1511.5,466.5 1508.7,468.4 1505.9,470.3 1503.2,472.2 1500.4,474.0 1497.7,475.8 1494.9,477.6 1492.0,479.4 1489.1,481.2 1486.1,482.9 1483.0,484.6 1479.8,486.1 1476.5,487.5 1473.1,488.8 1469.6,489.9 1466.0,490.9 1462.3,491.8 1458.5,492.5 1454.6,493.1 1450.6,493.6 1446.4,494.1 1442.1,494.4 1437.8,494.6 1433.4,494.3 1429.1,493.5 1424.8,492.4 1420.5,491.0 1416.2,489.5 1411.9,487.8 1407.6,485.9 1403.3,483.7 1398.9,481.4 1394.7,478.8 1390.5,475.9 1386.4,472.7 1382.6,469.2 1379.0,465.3 1375.9,461.1 1373.0,456.7 1370.6,452.0 1368.5,447.1 1366.9,442.1 1365.9,436.9 1365.4,431.6 1365.6,426.3 1366.4,421.0 1367.9,415.9 1369.9,410.9 1372.2,406.1 1374.6,401.6 1377.1,397.2 1379.7,393.0 1382.5,388.9 1385.4,385.1 1388.6,381.5 1391.8,378.2 1395.2,375.0 1398.7,372.1 1402.3,369.4 1405.9,366.9 1409.5,364.5 1413.1,362.3 1416.7,360.2 1420.3,358.1 1423.9,356.2 1427.5,354.3 1431.1,352.5 1434.8,350.9 1438.6,349.5 1442.4,348.3 1446.2,347.2 1450.1,346.2 1454.0,345.4 1458.0,344.7 1462.0,344.0 1466.0,343.5 1470.1,343.1 1474.2,342.8 1478.4,342.7 1482.7,342.7 1487.0,342.6 1491.5,342.6 1496.1,342.6 1500.8,342.8 1505.6,343.2 1510.4,344.1 1515.2,345.2 1520.1,346.5 1525.2,347.8 1530.6,349.3 1536.0,351.0 1541.6,352.9 1547.0,355.4 1552.1,358.4 1556.6,362.2 1560.3,366.5 1563.3,371.4 1565.7,376.6 1567.6,382.0 1569.1,387.5 1570.0,393.1 1569.9,398.9 1568.8,404.7 1567.1,410.4 1565.0,415.8"/>
<polygon fill="#d8e340" points="1559.8,421.0 1557.6,425.8 1554.9,430.3 1551.7,434.6 1548.2,438.5 1544.5,442.0 1540.7,445.3 1536.9,448.2 1533.1,450.9 1529.3,453.3 1525.7,455.5 1522.3,457.5 1519.0,459.5 1516.0,461.5 1513.1,463.4 1510.3,465.3 1507.6,467.2 1504.9,469.0 1502.2,470.8 1499.5,472.6 1496.8,474.3 1494.1,476.1 1491.3,477.8 1488.5,479.5 1485.6,481.2 1482.6,482.8 1479.5,484.3 1476.2,485.7 1472.9,486.9 1469.5,488.0 1466.0,489.0 1462.4,489.8 1458.7,490.5 1454.9,491.1 1451.0,491.6 1447.0,492.0 1442.8,492.4 1438.6,492.5 1434.3,492.2 1430.1,491.5 1425.9,490.5 1421.7,489.2 1417.5,487.7 1413.3,486.1 1409.1,484.2 1404.8,482.2 1400.6,479.9 1396.4,477.4 1392.2,474.6 1388.2,471.5 1384.5,468.1 1381.0,464.3 1377.9,460.2 1375.2,455.9 1372.8,451.3 1370.8,446.5 1369.3,441.6 1368.3,436.5 1367.9,431.3 1368.2,426.1 1369.0,421.0 1370.6,416.0 1372.6,411.2 1374.9,406.6 1377.3,402.2 1379.8,397.9 1382.4,393.8 1385.1,389.9 1388.0,386.3 1391.0,382.8 1394.1,379.5 1397.3,376.4 1400.7,373.6 1404.2,370.9 1407.6,368.4 1411.1,366.1 1414.6,363.9 1418.1,361.8 1421.6,359.8 1425.0,357.9 1428.5,356.1 1432.0,354.3 1435.6,352.7 1439.2,351.3 1443.0,350.1 1446.7,349.0 1450.5,348.0 1454.3,347.1 1458.2,346.4 1462.1,345.7 1466.0,345.2 1470.0,344.8 1474.0,344.6 1478.1,344.5 1482.3,344.4 1486.5,344.4 1490.9,344.5 1495.3,344.6 1499.9,344.8 1504.6,345.3 1509.2,346.2 1513.9,347.3 1518.7,348.5 1523.7,349.8 1528.9,351.2 1534.2,352.8 1539.5,354.8 1544.7,357.2 1549.7,360.2 1554.0,363.8 1557.7,368.0 1560.7,372.8 1562.9,377.9 1564.7,383.1 1566.0,388.5 1566.8,394.0 1566.7,399.6 1565.6,405.2 1563.8,410.7 1561.8,416.0"/>
<polygon fill="#dce236" points="1556.7,421.0 1554.7,425.6 1552.2,430.1 1549.2,434.2 1545.8,438.0 1542.3,441.4 1538.6,444.6 1534.9,447.5 1531.2,450.0 1527.6,452.4 1524.1,454.6 1520.8,456.6 1517.7,458.5 1514.7,460.4 1511.9,462.3 1509.1,464.1 1506.5,466.0 1503.9,467.7 1501.2,469.5 1498.6,471.2 1495.9,472.9 1493.3,474.5 1490.6,476.2 1487.8,477.8 1485.0,479.4 1482.1,481.0 1479.1,482.5 1476.0,483.9 1472.7,485.1 1469.4,486.2 1466.0,487.1 1462.5,487.9 1458.9,488.5 1455.2,489.1 1451.4,489.6 1447.5,490.0 1443.5,490.3 1439.3,490.4 1435.2,490.2 1431.1,489.6 1427.0,488.6 1422.9,487.4 1418.8,486.0 1414.7,484.4 1410.5,482.6 1406.3,480.7 1402.2,478.5 1398.1,476.0 1394.0,473.3 1390.1,470.3 1386.4,467.0 1383.0,463.3 1379.9,459.3 1377.3,455.1 1375.0,450.6 1373.1,445.9 1371.7,441.1 1370.8,436.1 1370.4,431.0 1370.7,426.0 1371.7,421.0 1373.2,416.1 1375.3,411.5 1377.7,407.0 1380.1,402.7 1382.6,398.6 1385.1,394.7 1387.7,390.9 1390.5,387.4 1393.4,384.0 1396.4,380.8 1399.5,377.8 1402.7,375.0 1406.0,372.4 1409.3,370.0 1412.7,367.7 1416.0,365.5 1419.4,363.5 1422.8,361.5 1426.2,359.7 1429.5,357.8 1432.9,356.1 1436.4,354.5 1439.9,353.1 1443.5,351.9 1447.2,350.7 1450.8,349.7 1454.6,348.8 1458.3,348.1 1462.1,347.4 1466.0,346.9 1469.9,346.5 1473.9,346.3 1477.8,346.2 1481.9,346.2 1486.0,346.3 1490.3,346.4 1494.6,346.6 1499.0,346.9 1503.5,347.4 1508.0,348.3 1512.5,349.3 1517.2,350.5 1522.1,351.7 1527.2,353.0 1532.3,354.7 1537.5,356.7 1542.5,359.1 1547.2,362.0 1551.5,365.5 1555.1,369.5 1558.0,374.1 1560.1,379.1 1561.7,384.3 1563.0,389.5 1563.6,394.8 1563.4,400.3 1562.3,405.7 1560.6,411.1 1558.7,416.1"/>
<polygon fill="#e0e229" points="1553.7,421.0 1551.8,425.5 1549.5,429.8 1546.7,433.8 1543.4,437.5 1540.0,440.8 1536.5,443.9 1533.0,446.7 1529.4,449.2 1525.9,451.5 1522.5,453.6 1519.3,455.6 1516.3,457.5 1513.4,459.4 1510.6,461.2 1508.0,463.0 1505.4,464.8 1502.8,466.5 1500.3,468.2 1497.7,469.8 1495.1,471.4 1492.5,473.0 1489.8,474.5 1487.2,476.1 1484.4,477.7 1481.6,479.2 1478.7,480.7 1475.7,482.0 1472.5,483.2 1469.3,484.3 1466.0,485.2 1462.6,485.9 1459.1,486.6 1455.5,487.1 1451.9,487.5 1448.1,487.9 1444.1,488.3 1440.1,488.4 1436.1,488.2 1432.1,487.6 1428.1,486.7 1424.1,485.6 1420.1,484.2 1416.0,482.7 1411.9,481.0 1407.9,479.1 1403.8,477.0 1399.8,474.6 1395.8,472.0 1391.9,469.1 1388.3,465.9 1384.9,462.3 1382.0,458.4 1379.4,454.2 1377.2,449.8 1375.4,445.3 1374.0,440.5 1373.2,435.7 1372.9,430.8 1373.3,425.9 1374.3,421.0 1375.9,416.3 1378.0,411.8 1380.4,407.4 1382.9,403.3 1385.3,399.4 1387.8,395.6 1390.3,392.0 1393.0,388.5 1395.8,385.2 1398.6,382.1 1401.6,379.2 1404.7,376.5 1407.9,373.9 1411.0,371.5 1414.2,369.2 1417.5,367.1 1420.8,365.1 1424.0,363.2 1427.3,361.4 1430.5,359.6 1433.8,357.9 1437.2,356.3 1440.6,354.9 1444.1,353.6 1447.6,352.5 1451.2,351.5 1454.8,350.5 1458.5,349.8 1462.2,349.1 1466.0,348.6 1469.8,348.2 1473.7,348.0 1477.6,347.9 1481.5,348.0 1485.5,348.1 1489.6,348.2 1493.8,348.5 1498.1,348.9 1502.4,349.5 1506.8,350.4 1511.2,351.4 1515.8,352.5 1520.6,353.6 1525.5,354.9 1530.5,356.5 1535.4,358.5 1540.2,360.9 1544.8,363.8 1549.0,367.1 1552.5,371.1 1555.3,375.5 1557.3,380.4 1558.8,385.4 1559.9,390.5 1560.5,395.7 1560.2,401.0 1559.0,406.3 1557.3,411.4 1555.5,416.3"/>
<polygon fill="#e5e21a" points="1550.6,421.0 1548.9,425.3 1546.8,429.5 1544.1,433.4 1541.1,437.0 1537.8,440.2 1534.5,443.2 1531.0,446.0 1527.6,448.4 1524.2,450.7 1520.9,452.7 1517.8,454.7 1514.9,456.5 1512.1,458.3 1509.4,460.1 1506.8,461.8 1504.3,463.5 1501.8,465.2 1499.3,466.8 1496.8,468.4 1494.2,469.9 1491.7,471.4 1489.1,472.9 1486.5,474.4 1483.8,475.9 1481.1,477.4 1478.3,478.8 1475.4,480.2 1472.3,481.4 1469.2,482.4 1466.0,483.3 1462.7,484.0 1459.3,484.6 1455.9,485.1 1452.3,485.5 1448.6,485.9 1444.8,486.2 1440.9,486.3 1437.0,486.1 1433.1,485.6 1429.2,484.8 1425.3,483.7 1421.3,482.5 1417.4,481.0 1413.4,479.4 1409.4,477.6 1405.4,475.6 1401.5,473.3 1397.5,470.7 1393.7,467.9 1390.2,464.8 1386.9,461.3 1384.0,457.5 1381.5,453.4 1379.4,449.1 1377.7,444.7 1376.4,440.0 1375.7,435.3 1375.4,430.5 1375.8,425.7 1376.9,421.0 1378.6,416.4 1380.8,412.0 1383.2,407.9 1385.6,403.9 1388.0,400.1 1390.5,396.5 1393.0,393.0 1395.5,389.6 1398.2,386.4 1400.9,383.4 1403.8,380.6 1406.7,377.9 1409.7,375.4 1412.7,373.0 1415.8,370.8 1418.9,368.7 1422.1,366.8 1425.3,364.9 1428.4,363.1 1431.6,361.4 1434.7,359.7 1438.0,358.1 1441.3,356.6 1444.7,355.4 1448.1,354.3 1451.6,353.2 1455.1,352.3 1458.7,351.5 1462.3,350.8 1466.0,350.3 1469.7,349.9 1473.5,349.7 1477.3,349.7 1481.1,349.8 1485.1,349.9 1489.0,350.1 1493.1,350.5 1497.2,350.9 1501.4,351.6 1505.6,352.5 1509.9,353.5 1514.3,354.5 1519.0,355.5 1523.8,356.8 1528.6,358.4 1533.3,360.4 1537.9,362.8 1542.3,365.5 1546.4,368.8 1549.9,372.6 1552.6,376.9 1554.4,381.6 1555.8,386.5 1556.8,391.5 1557.3,396.5 1556.9,401.7 1555.7,406.8 1554.0,411.7 1552.3,416.5"/>
<polygon fill="#e9e20b" points="1547.6,421.0 1546.0,425.2 1544.0,429.2 1541.6,433.0 1538.7,436.5 1535.6,439.6 1532.4,442.6 1529.1,445.2 1525.8,447.6 1522.5,449.8 1519.4,451.8 1516.4,453.7 1513.5,455.5 1510.8,457.3 1508.2,459.0 1505.7,460.7 1503.2,462.3 1500.8,463.9 1498.3,465.5 1495.9,467.0 1493.4,468.4 1490.9,469.9 1488.4,471.3 1485.9,472.7 1483.3,474.2 1480.6,475.6 1477.9,477.0 1475.1,478.3 1472.2,479.5 1469.1,480.5 1466.0,481.3 1462.8,482.0 1459.5,482.6 1456.2,483.1 1452.7,483.5 1449.2,483.9 1445.5,484.2 1441.7,484.3 1437.9,484.1 1434.1,483.6 1430.3,482.9 1426.5,481.9 1422.6,480.7 1418.7,479.4 1414.8,477.8 1410.9,476.1 1407.0,474.1 1403.1,471.9 1399.3,469.5 1395.6,466.7 1392.1,463.7 1388.8,460.3 1386.1,456.6 1383.6,452.6 1381.6,448.4 1380.0,444.0 1378.8,439.5 1378.1,434.9 1377.9,430.3 1378.4,425.6 1379.5,421.0 1381.3,416.6 1383.5,412.3 1385.9,408.3 1388.4,404.5 1390.8,400.8 1393.2,397.3 1395.6,394.0 1398.1,390.8 1400.6,387.7 1403.2,384.7 1405.9,382.0 1408.7,379.4 1411.6,376.9 1414.4,374.6 1417.4,372.4 1420.4,370.3 1423.4,368.4 1426.5,366.6 1429.5,364.9 1432.6,363.1 1435.7,361.4 1438.8,359.8 1442.0,358.4 1445.3,357.2 1448.6,356.0 1452.0,354.9 1455.4,354.0 1458.9,353.2 1462.4,352.5 1466.0,352.0 1469.6,351.6 1473.3,351.4 1477.0,351.4 1480.8,351.5 1484.6,351.7 1488.4,352.0 1492.3,352.4 1496.3,353.0 1500.3,353.7 1504.4,354.6 1508.5,355.5 1512.9,356.5 1517.4,357.5 1522.1,358.7 1526.7,360.3 1531.3,362.2 1535.6,364.6 1539.9,367.3 1543.9,370.4 1547.3,374.1 1549.9,378.2 1551.6,382.9 1552.9,387.7 1553.8,392.5 1554.2,397.4 1553.7,402.4 1552.5,407.3 1550.8,412.1 1549.1,416.6"/>
<polygon fill="#ece201" points="1544.5,421.0 1543.1,425.0 1541.3,428.9 1539.0,432.6 1536.3,435.9 1533.4,439.0 1530.3,441.9 1527.1,444.5 1523.9,446.8 1520.8,448.9 1517.8,450.9 1514.9,452.7 1512.1,454.5 1509.5,456.2 1507.0,457.9 1504.5,459.5 1502.1,461.1 1499.7,462.7 1497.4,464.2 1494.9,465.6 1492.5,467.0 1490.1,468.3 1487.7,469.7 1485.2,471.0 1482.7,472.4 1480.2,473.8 1477.5,475.2 1474.8,476.5 1472.0,477.7 1469.0,478.7 1466.0,479.4 1462.9,480.1 1459.7,480.6 1456.5,481.1 1453.1,481.5 1449.7,481.8 1446.1,482.1 1442.5,482.2 1438.8,482.1 1435.1,481.6 1431.4,481.0 1427.6,480.1 1423.9,479.0 1420.1,477.7 1416.3,476.2 1412.5,474.5 1408.6,472.6 1404.8,470.5 1401.1,468.2 1397.4,465.5 1393.9,462.6 1390.8,459.3 1388.1,455.7 1385.8,451.8 1383.8,447.7 1382.3,443.4 1381.2,439.0 1380.6,434.5 1380.5,430.0 1381.0,425.5 1382.1,421.0 1383.9,416.7 1386.2,412.6 1388.7,408.8 1391.2,405.1 1393.5,401.6 1395.9,398.2 1398.2,395.0 1400.6,391.9 1403.0,388.9 1405.5,386.0 1408.0,383.4 1410.7,380.8 1413.4,378.4 1416.2,376.1 1419.0,374.0 1421.8,372.0 1424.8,370.1 1427.7,368.3 1430.7,366.6 1433.6,364.9 1436.6,363.2 1439.6,361.6 1442.7,360.2 1445.8,358.9 1449.1,357.8 1452.3,356.7 1455.7,355.7 1459.1,354.9 1462.5,354.2 1466.0,353.7 1469.5,353.3 1473.1,353.1 1476.7,353.2 1480.4,353.3 1484.1,353.5 1487.8,353.9 1491.6,354.4 1495.4,355.0 1499.2,355.8 1503.1,356.7 1507.2,357.6 1511.4,358.5 1515.9,359.4 1520.4,360.5 1524.9,362.1 1529.2,364.1 1533.4,366.4 1537.4,369.1 1541.3,372.1 1544.7,375.6 1547.2,379.6 1548.8,384.1 1549.9,388.8 1550.7,393.5 1551.0,398.2 1550.5,403.0 1549.2,407.8 1547.5,412.4 1545.9,416.8"/>
<polygon fill="#eee205" points="1541.4,421.0 1540.2,424.9 1538.6,428.6 1536.5,432.2 1534.0,435.4 1531.1,438.5 1528.2,441.2 1525.2,443.7 1522.1,446.0 1519.1,448.1 1516.2,450.0 1513.4,451.8 1510.7,453.5 1508.2,455.2 1505.7,456.8 1503.4,458.4 1501.0,459.9 1498.7,461.4 1496.4,462.8 1494.0,464.2 1491.7,465.5 1489.3,466.8 1486.9,468.1 1484.6,469.4 1482.1,470.7 1479.7,472.0 1477.1,473.4 1474.5,474.7 1471.8,475.8 1468.9,476.8 1466.0,477.5 1463.0,478.1 1459.9,478.6 1456.8,479.0 1453.6,479.4 1450.2,479.8 1446.8,480.1 1443.3,480.2 1439.7,480.0 1436.1,479.7 1432.5,479.0 1428.8,478.2 1425.2,477.2 1421.5,476.0 1417.7,474.6 1414.0,473.0 1410.3,471.2 1406.5,469.2 1402.8,466.9 1399.2,464.4 1395.8,461.5 1392.8,458.3 1390.1,454.8 1387.9,451.0 1386.1,447.0 1384.6,442.8 1383.6,438.5 1383.0,434.1 1383.0,429.7 1383.5,425.3 1384.7,421.0 1386.6,416.8 1388.9,412.9 1391.5,409.2 1393.9,405.7 1396.3,402.3 1398.5,399.1 1400.8,396.0 1403.1,393.0 1405.4,390.1 1407.7,387.4 1410.2,384.7 1412.7,382.3 1415.2,379.9 1417.9,377.7 1420.5,375.5 1423.3,373.6 1426.1,371.7 1429.0,370.0 1431.8,368.3 1434.6,366.7 1437.5,365.0 1440.4,363.4 1443.3,362.0 1446.4,360.7 1449.5,359.5 1452.7,358.4 1455.9,357.4 1459.2,356.6 1462.6,355.9 1466.0,355.4 1469.5,355.0 1473.0,354.8 1476.5,354.9 1480.0,355.1 1483.6,355.3 1487.2,355.8 1490.8,356.3 1494.5,357.1 1498.2,357.9 1501.9,358.8 1505.8,359.7 1510.0,360.5 1514.3,361.3 1518.7,362.4 1523.0,364.0 1527.1,366.0 1531.1,368.3 1535.0,370.9 1538.8,373.7 1542.1,377.1 1544.5,381.0 1546.0,385.4 1547.0,389.9 1547.6,394.5 1547.8,399.1 1547.2,403.7 1545.9,408.3 1544.3,412.8 1542.7,417.0"/>
<polygon fill="#efe20a" points="1538.4,421.0 1537.3,424.7 1535.9,428.3 1534.0,431.8 1531.6,434.9 1528.9,437.9 1526.1,440.5 1523.2,443.0 1520.3,445.2 1517.4,447.2 1514.6,449.1 1511.9,450.8 1509.3,452.5 1506.9,454.1 1504.5,455.7 1502.2,457.2 1499.9,458.7 1497.7,460.1 1495.4,461.5 1493.1,462.8 1490.8,464.0 1488.5,465.2 1486.2,466.4 1483.9,467.7 1481.6,468.9 1479.2,470.2 1476.7,471.6 1474.2,472.8 1471.6,474.0 1468.8,474.9 1466.0,475.6 1463.1,476.2 1460.2,476.6 1457.1,477.0 1454.0,477.4 1450.8,477.7 1447.5,478.0 1444.1,478.1 1440.6,478.0 1437.1,477.7 1433.6,477.1 1430.0,476.4 1426.4,475.5 1422.8,474.3 1419.2,473.0 1415.5,471.5 1411.9,469.7 1408.2,467.8 1404.6,465.6 1401.1,463.2 1397.7,460.4 1394.7,457.3 1392.2,453.9 1390.0,450.2 1388.3,446.3 1386.9,442.2 1385.9,438.0 1385.5,433.8 1385.5,429.5 1386.1,425.2 1387.3,421.0 1389.3,417.0 1391.6,413.2 1394.2,409.6 1396.7,406.3 1399.0,403.0 1401.2,400.0 1403.4,397.0 1405.6,394.1 1407.8,391.3 1410.0,388.7 1412.3,386.1 1414.7,383.7 1417.1,381.4 1419.6,379.2 1422.1,377.1 1424.7,375.2 1427.5,373.4 1430.2,371.7 1432.9,370.1 1435.6,368.4 1438.4,366.8 1441.2,365.2 1444.0,363.8 1447.0,362.5 1450.0,361.3 1453.1,360.2 1456.2,359.2 1459.4,358.3 1462.7,357.6 1466.0,357.1 1469.4,356.7 1472.8,356.5 1476.2,356.6 1479.6,356.8 1483.1,357.2 1486.6,357.6 1490.1,358.3 1493.6,359.1 1497.1,360.0 1500.7,360.9 1504.5,361.7 1508.5,362.5 1512.8,363.2 1517.1,364.3 1521.2,365.8 1525.1,367.8 1528.8,370.1 1532.5,372.7 1536.2,375.4 1539.4,378.6 1541.9,382.4 1543.2,386.6 1544.0,391.0 1544.6,395.5 1544.7,399.9 1544.0,404.4 1542.6,408.9 1541.0,413.1 1539.6,417.1"/>
<polygon fill="#f3e217" points="1535.3,421.0 1534.3,424.6 1533.1,428.1 1531.4,431.4 1529.2,434.4 1526.7,437.3 1524.0,439.8 1521.2,442.2 1518.5,444.4 1515.7,446.3 1513.0,448.1 1510.4,449.9 1508.0,451.5 1505.6,453.1 1503.3,454.6 1501.1,456.1 1498.9,457.5 1496.7,458.9 1494.5,460.2 1492.2,461.4 1490.0,462.5 1487.7,463.7 1485.5,464.8 1483.3,466.0 1481.0,467.2 1478.7,468.4 1476.4,469.7 1473.9,471.0 1471.4,472.1 1468.7,473.0 1466.0,473.7 1463.2,474.2 1460.4,474.6 1457.4,475.0 1454.4,475.4 1451.3,475.7 1448.1,476.0 1444.9,476.1 1441.5,476.0 1438.1,475.7 1434.7,475.2 1431.2,474.6 1427.7,473.7 1424.2,472.6 1420.6,471.4 1417.1,469.9 1413.5,468.3 1409.9,466.4 1406.4,464.3 1402.9,462.0 1399.6,459.3 1396.7,456.3 1394.2,453.0 1392.1,449.4 1390.5,445.5 1389.2,441.6 1388.3,437.5 1387.9,433.4 1388.0,429.2 1388.7,425.1 1390.0,421.0 1391.9,417.1 1394.4,413.5 1397.0,410.1 1399.4,406.9 1401.7,403.8 1403.9,400.8 1406.1,398.0 1408.1,395.2 1410.2,392.6 1412.3,390.0 1414.4,387.5 1416.7,385.2 1418.9,382.9 1421.3,380.7 1423.7,378.7 1426.2,376.8 1428.8,375.1 1431.4,373.4 1434.0,371.8 1436.7,370.2 1439.3,368.6 1442.0,367.0 1444.7,365.5 1447.6,364.2 1450.5,363.0 1453.4,361.9 1456.5,360.9 1459.6,360.0 1462.8,359.3 1466.0,358.7 1469.3,358.4 1472.6,358.3 1475.9,358.4 1479.3,358.6 1482.6,359.0 1486.0,359.5 1489.3,360.3 1492.7,361.1 1496.0,362.1 1499.5,363.0 1503.1,363.8 1507.1,364.5 1511.2,365.2 1515.4,366.2 1519.3,367.7 1523.0,369.7 1526.5,372.0 1530.1,374.4 1533.7,377.1 1536.8,380.1 1539.2,383.7 1540.4,387.9 1541.1,392.2 1541.5,396.5 1541.5,400.8 1540.7,405.1 1539.3,409.4 1537.8,413.5 1536.4,417.3"/>
<polygon fill="#f6e124" points="1532.0,421.0 1531.1,424.4 1530.0,427.7 1528.4,430.9 1526.4,433.8 1524.0,436.5 1521.5,439.0 1518.9,441.3 1516.3,443.4 1513.6,445.3 1511.1,447.0 1508.6,448.7 1506.3,450.3 1504.0,451.8 1501.8,453.2 1499.7,454.7 1497.6,456.0 1495.4,457.4 1493.3,458.6 1491.2,459.7 1489.0,460.8 1486.8,461.9 1484.7,463.0 1482.5,464.1 1480.4,465.2 1478.2,466.5 1475.9,467.7 1473.6,468.9 1471.2,470.0 1468.6,470.9 1466.0,471.5 1463.3,472.0 1460.6,472.4 1457.8,472.8 1454.9,473.2 1451.9,473.5 1448.9,473.7 1445.7,473.8 1442.5,473.8 1439.2,473.5 1435.9,473.1 1432.6,472.5 1429.2,471.7 1425.8,470.7 1422.4,469.5 1418.9,468.1 1415.5,466.5 1412.1,464.7 1408.7,462.7 1405.3,460.4 1402.1,457.9 1399.3,455.0 1396.8,451.8 1394.8,448.3 1393.2,444.7 1392.0,440.8 1391.2,436.9 1390.8,432.9 1390.9,428.9 1391.7,424.9 1393.0,421.0 1395.0,417.3 1397.4,413.8 1400.0,410.5 1402.4,407.5 1404.7,404.6 1406.8,401.8 1408.9,399.1 1410.9,396.4 1412.8,393.9 1414.8,391.4 1416.8,389.0 1418.9,386.8 1421.0,384.6 1423.2,382.5 1425.5,380.5 1427.9,378.7 1430.4,377.0 1432.9,375.4 1435.4,373.9 1437.9,372.3 1440.4,370.7 1442.9,369.2 1445.6,367.8 1448.3,366.5 1451.1,365.3 1453.9,364.2 1456.8,363.2 1459.8,362.3 1462.9,361.6 1466.0,361.0 1469.2,360.7 1472.4,360.6 1475.6,360.7 1478.8,360.9 1482.0,361.3 1485.2,361.8 1488.4,362.6 1491.6,363.5 1494.8,364.4 1498.1,365.3 1501.7,366.1 1505.4,366.7 1509.4,367.4 1513.4,368.3 1517.2,369.8 1520.7,371.8 1524.1,374.0 1527.4,376.4 1530.9,378.8 1534.0,381.8 1536.2,385.2 1537.3,389.3 1537.9,393.4 1538.2,397.5 1538.1,401.7 1537.3,405.8 1535.9,409.9 1534.4,413.8 1533.0,417.5"/>
<polygon fill="#f8da1f" points="1528.4,421.0 1527.5,424.2 1526.4,427.3 1524.8,430.3 1522.9,433.1 1520.7,435.7 1518.3,438.0 1515.9,440.2 1513.5,442.1 1511.1,444.0 1508.7,445.6 1506.4,447.2 1504.1,448.7 1502.0,450.2 1499.9,451.6 1497.9,452.9 1495.9,454.2 1493.9,455.5 1491.9,456.7 1489.9,457.8 1487.8,458.8 1485.8,459.8 1483.8,460.9 1481.7,461.9 1479.7,463.0 1477.6,464.2 1475.4,465.4 1473.2,466.5 1470.9,467.6 1468.5,468.4 1466.0,469.0 1463.5,469.5 1460.9,469.9 1458.2,470.3 1455.4,470.6 1452.6,471.0 1449.7,471.2 1446.7,471.3 1443.6,471.3 1440.5,471.0 1437.4,470.6 1434.2,470.0 1431.0,469.2 1427.8,468.2 1424.5,467.1 1421.3,465.7 1418.1,464.1 1414.9,462.4 1411.7,460.4 1408.6,458.3 1405.6,455.9 1402.8,453.2 1400.4,450.2 1398.4,447.0 1396.8,443.5 1395.5,439.9 1394.7,436.2 1394.3,432.4 1394.5,428.5 1395.3,424.7 1396.7,421.0 1398.7,417.5 1401.1,414.2 1403.5,411.1 1405.8,408.2 1408.0,405.5 1410.0,402.8 1412.0,400.3 1413.8,397.8 1415.7,395.4 1417.5,393.0 1419.4,390.8 1421.4,388.6 1423.5,386.5 1425.5,384.6 1427.7,382.7 1429.9,381.0 1432.3,379.4 1434.7,377.9 1437.0,376.4 1439.4,374.9 1441.8,373.4 1444.2,372.0 1446.7,370.6 1449.2,369.4 1451.9,368.3 1454.6,367.3 1457.3,366.3 1460.2,365.5 1463.1,364.8 1466.0,364.3 1469.0,363.9 1472.0,363.7 1475.1,363.8 1478.1,364.0 1481.2,364.4 1484.2,364.9 1487.3,365.5 1490.3,366.4 1493.4,367.2 1496.6,368.0 1499.9,368.7 1503.6,369.3 1507.3,370.0 1511.1,370.9 1514.7,372.3 1518.0,374.1 1521.3,376.2 1524.5,378.5 1527.8,380.8 1530.7,383.6 1532.8,387.0 1533.8,390.8 1534.2,394.8 1534.5,398.7 1534.4,402.7 1533.6,406.6 1532.3,410.5 1530.8,414.2 1529.5,417.7"/>
<polygon fill="#f9ce0c" points="1524.9,421.0 1523.9,424.0 1522.7,427.0 1521.2,429.7 1519.4,432.3 1517.4,434.8 1515.2,437.0 1513.0,439.0 1510.7,440.9 1508.5,442.6 1506.2,444.2 1504.1,445.7 1502.0,447.2 1500.0,448.5 1498.1,449.9 1496.2,451.2 1494.3,452.4 1492.4,453.6 1490.5,454.8 1488.6,455.8 1486.7,456.8 1484.7,457.8 1482.8,458.8 1480.9,459.8 1478.9,460.8 1477.0,461.9 1474.9,463.0 1472.8,464.1 1470.6,465.1 1468.4,465.9 1466.0,466.5 1463.6,467.0 1461.1,467.4 1458.6,467.8 1456.0,468.1 1453.3,468.4 1450.5,468.7 1447.7,468.8 1444.7,468.8 1441.8,468.5 1438.8,468.1 1435.8,467.5 1432.8,466.8 1429.7,465.8 1426.7,464.7 1423.7,463.3 1420.7,461.8 1417.7,460.1 1414.8,458.2 1411.9,456.1 1409.0,453.9 1406.3,451.4 1404.0,448.6 1401.9,445.6 1400.3,442.3 1399.0,438.9 1398.2,435.4 1397.8,431.8 1398.1,428.1 1399.0,424.5 1400.4,421.0 1402.4,417.7 1404.7,414.6 1407.0,411.7 1409.2,408.9 1411.3,406.3 1413.2,403.8 1415.0,401.4 1416.8,399.1 1418.6,396.8 1420.3,394.6 1422.1,392.5 1424.0,390.5 1425.9,388.5 1427.8,386.6 1429.9,384.9 1432.0,383.2 1434.2,381.8 1436.5,380.3 1438.7,379.0 1440.9,377.6 1443.1,376.1 1445.4,374.8 1447.8,373.5 1450.2,372.4 1452.7,371.3 1455.2,370.4 1457.8,369.5 1460.5,368.7 1463.2,368.0 1466.0,367.5 1468.8,367.1 1471.7,366.9 1474.6,367.0 1477.4,367.1 1480.4,367.4 1483.3,367.9 1486.2,368.5 1489.1,369.2 1492.0,370.0 1495.0,370.7 1498.2,371.4 1501.7,371.9 1505.2,372.6 1508.8,373.5 1512.2,374.8 1515.4,376.5 1518.5,378.5 1521.6,380.6 1524.7,382.8 1527.5,385.5 1529.4,388.7 1530.2,392.4 1530.6,396.2 1530.8,399.9 1530.7,403.7 1529.9,407.4 1528.6,411.1 1527.2,414.6 1525.9,417.9"/>
<polygon fill="#f9c002" points="1521.3,421.0 1520.2,423.8 1519.0,426.6 1517.6,429.2 1515.9,431.6 1514.0,433.9 1512.0,436.0 1510.0,437.9 1508.0,439.7 1505.9,441.3 1503.8,442.8 1501.8,444.3 1499.9,445.6 1498.0,446.9 1496.2,448.2 1494.4,449.4 1492.7,450.6 1490.9,451.8 1489.1,452.9 1487.3,453.9 1485.5,454.8 1483.7,455.7 1481.9,456.6 1480.0,457.6 1478.2,458.6 1476.3,459.6 1474.4,460.7 1472.4,461.7 1470.4,462.6 1468.2,463.4 1466.0,464.0 1463.7,464.5 1461.4,464.9 1459.0,465.3 1456.5,465.6 1454.0,465.9 1451.3,466.1 1448.6,466.3 1445.9,466.3 1443.0,466.1 1440.2,465.7 1437.4,465.1 1434.5,464.3 1431.7,463.4 1428.8,462.3 1426.0,461.0 1423.3,459.5 1420.6,457.8 1417.9,456.0 1415.2,454.0 1412.5,451.9 1409.9,449.6 1407.5,447.0 1405.5,444.2 1403.8,441.2 1402.5,438.0 1401.7,434.7 1401.4,431.2 1401.7,427.8 1402.7,424.3 1404.1,421.0 1406.1,417.9 1408.3,414.9 1410.5,412.2 1412.6,409.7 1414.6,407.2 1416.4,404.9 1418.1,402.6 1419.8,400.4 1421.4,398.3 1423.1,396.2 1424.8,394.2 1426.5,392.3 1428.3,390.5 1430.1,388.7 1432.1,387.1 1434.1,385.5 1436.2,384.1 1438.3,382.8 1440.3,381.5 1442.4,380.2 1444.5,378.9 1446.7,377.6 1448.9,376.4 1451.2,375.3 1453.5,374.4 1455.9,373.5 1458.3,372.6 1460.8,371.9 1463.4,371.2 1466.0,370.7 1468.7,370.3 1471.3,370.1 1474.1,370.1 1476.8,370.2 1479.5,370.5 1482.3,370.9 1485.0,371.4 1487.8,372.1 1490.6,372.8 1493.5,373.4 1496.5,374.0 1499.8,374.5 1503.1,375.2 1506.5,376.0 1509.7,377.3 1512.7,378.9 1515.7,380.8 1518.7,382.7 1521.7,384.8 1524.2,387.4 1526.0,390.4 1526.7,394.0 1527.0,397.6 1527.1,401.1 1526.9,404.7 1526.1,408.2 1524.9,411.7 1523.6,414.9 1522.4,418.0"/>
<polygon fill="#f7b003" points="1517.7,421.0 1516.6,423.7 1515.4,426.2 1514.0,428.6 1512.4,430.9 1510.7,433.0 1508.9,434.9 1507.1,436.8 1505.2,438.4 1503.3,440.0 1501.4,441.4 1499.5,442.8 1497.7,444.1 1496.0,445.3 1494.3,446.5 1492.7,447.7 1491.1,448.8 1489.4,449.9 1487.8,450.9 1486.1,451.9 1484.3,452.8 1482.6,453.7 1480.9,454.5 1479.2,455.4 1477.5,456.4 1475.7,457.3 1473.9,458.3 1472.1,459.3 1470.1,460.2 1468.1,460.9 1466.0,461.5 1463.9,462.0 1461.6,462.4 1459.4,462.8 1457.1,463.1 1454.6,463.4 1452.2,463.6 1449.6,463.8 1447.0,463.8 1444.3,463.6 1441.7,463.2 1439.0,462.6 1436.3,461.8 1433.7,460.9 1431.0,459.9 1428.4,458.6 1425.9,457.1 1423.4,455.5 1421.0,453.7 1418.5,451.9 1415.9,449.9 1413.4,447.8 1411.1,445.5 1409.0,442.9 1407.4,440.0 1406.1,437.1 1405.2,433.9 1404.9,430.7 1405.3,427.4 1406.3,424.1 1407.9,421.0 1409.8,418.1 1411.9,415.3 1414.0,412.8 1416.0,410.4 1417.8,408.1 1419.6,405.9 1421.2,403.8 1422.8,401.8 1424.3,399.8 1425.9,397.8 1427.4,396.0 1429.1,394.2 1430.7,392.5 1432.5,390.8 1434.2,389.2 1436.1,387.8 1438.1,386.5 1440.0,385.3 1442.0,384.0 1444.0,382.8 1445.9,381.6 1447.9,380.4 1450.0,379.3 1452.1,378.3 1454.3,377.4 1456.6,376.5 1458.8,375.8 1461.2,375.1 1463.6,374.4 1466.0,373.9 1468.5,373.5 1471.0,373.3 1473.6,373.3 1476.1,373.4 1478.7,373.6 1481.3,373.9 1483.9,374.4 1486.5,374.9 1489.2,375.5 1491.9,376.1 1494.8,376.6 1497.9,377.2 1501.0,377.8 1504.2,378.6 1507.2,379.8 1510.1,381.3 1512.9,383.0 1515.7,384.9 1518.6,386.8 1521.0,389.2 1522.6,392.2 1523.2,395.5 1523.4,399.0 1523.4,402.3 1523.2,405.7 1522.4,409.0 1521.3,412.2 1520.0,415.3 1518.8,418.2"/>
<polygon fill="#f6a004" points="1514.1,421.0 1512.9,423.5 1511.7,425.8 1510.4,428.0 1508.9,430.1 1507.4,432.1 1505.8,433.9 1504.1,435.6 1502.4,437.2 1500.7,438.7 1499.0,440.0 1497.3,441.3 1495.6,442.5 1494.0,443.7 1492.5,444.8 1490.9,445.9 1489.4,447.0 1487.9,448.1 1486.4,449.0 1484.8,449.9 1483.2,450.8 1481.6,451.6 1480.0,452.4 1478.4,453.3 1476.8,454.1 1475.1,455.1 1473.4,456.0 1471.7,456.9 1469.9,457.7 1468.0,458.4 1466.0,459.0 1464.0,459.4 1461.9,459.9 1459.8,460.3 1457.6,460.6 1455.3,460.9 1453.0,461.1 1450.6,461.2 1448.1,461.3 1445.6,461.1 1443.1,460.7 1440.6,460.1 1438.1,459.4 1435.6,458.5 1433.2,457.5 1430.8,456.2 1428.5,454.8 1426.2,453.2 1424.0,451.5 1421.7,449.7 1419.3,447.9 1416.9,446.0 1414.6,443.9 1412.6,441.5 1410.9,438.9 1409.6,436.1 1408.7,433.2 1408.4,430.1 1408.9,427.0 1410.0,423.9 1411.6,421.0 1413.4,418.2 1415.5,415.7 1417.5,413.3 1419.4,411.1 1421.1,409.0 1422.7,406.9 1424.3,405.0 1425.7,403.1 1427.2,401.2 1428.6,399.4 1430.1,397.7 1431.6,396.0 1433.2,394.4 1434.8,392.9 1436.4,391.4 1438.2,390.1 1440.0,388.9 1441.8,387.7 1443.7,386.6 1445.5,385.4 1447.3,384.3 1449.2,383.2 1451.1,382.2 1453.1,381.3 1455.1,380.4 1457.2,379.6 1459.3,378.9 1461.5,378.2 1463.7,377.7 1466.0,377.1 1468.3,376.7 1470.7,376.5 1473.1,376.4 1475.5,376.5 1477.9,376.6 1480.3,376.9 1482.8,377.3 1485.2,377.8 1487.8,378.3 1490.4,378.8 1493.1,379.3 1496.0,379.8 1498.9,380.4 1501.9,381.2 1504.7,382.3 1507.4,383.7 1510.1,385.3 1512.8,387.0 1515.5,388.8 1517.8,391.1 1519.2,393.9 1519.7,397.1 1519.8,400.4 1519.7,403.5 1519.5,406.7 1518.7,409.8 1517.6,412.8 1516.4,415.7 1515.2,418.4"/>
<polygon fill="#f39005" points="1510.5,421.0 1509.3,423.3 1508.1,425.4 1506.8,427.5 1505.4,429.4 1504.0,431.2 1502.6,432.9 1501.1,434.5 1499.6,436.0 1498.1,437.4 1496.6,438.6 1495.0,439.8 1493.5,441.0 1492.0,442.1 1490.6,443.1 1489.2,444.2 1487.8,445.2 1486.4,446.2 1485.0,447.1 1483.5,448.0 1482.0,448.8 1480.5,449.5 1479.0,450.3 1477.6,451.1 1476.0,451.9 1474.5,452.8 1472.9,453.6 1471.3,454.5 1469.6,455.2 1467.8,455.9 1466.0,456.4 1464.1,456.9 1462.2,457.4 1460.2,457.8 1458.1,458.1 1456.0,458.3 1453.8,458.6 1451.5,458.7 1449.2,458.8 1446.8,458.6 1444.5,458.2 1442.2,457.6 1439.9,456.9 1437.6,456.1 1435.3,455.1 1433.1,453.9 1431.1,452.5 1429.1,450.9 1427.1,449.3 1425.0,447.6 1422.8,445.9 1420.5,444.2 1418.2,442.3 1416.1,440.1 1414.5,437.7 1413.1,435.2 1412.2,432.4 1411.9,429.6 1412.5,426.6 1413.6,423.7 1415.3,421.0 1417.1,418.4 1419.1,416.1 1421.0,413.9 1422.8,411.8 1424.4,409.9 1425.9,408.0 1427.3,406.2 1428.7,404.4 1430.1,402.7 1431.4,401.0 1432.8,399.4 1434.2,397.9 1435.6,396.4 1437.1,395.0 1438.6,393.6 1440.3,392.4 1441.9,391.3 1443.6,390.2 1445.3,389.1 1447.0,388.1 1448.7,387.0 1450.4,386.0 1452.2,385.0 1454.0,384.2 1455.9,383.4 1457.9,382.7 1459.8,382.0 1461.8,381.4 1463.9,380.9 1466.0,380.4 1468.2,379.9 1470.3,379.7 1472.6,379.6 1474.8,379.6 1477.1,379.7 1479.3,379.9 1481.6,380.3 1484.0,380.7 1486.3,381.1 1488.8,381.5 1491.4,381.9 1494.1,382.4 1496.8,383.0 1499.5,383.7 1502.2,384.8 1504.7,386.1 1507.3,387.6 1509.9,389.1 1512.4,390.8 1514.5,393.0 1515.8,395.6 1516.2,398.7 1516.2,401.7 1516.0,404.7 1515.7,407.7 1515.0,410.6 1514.0,413.4 1512.8,416.1 1511.7,418.6"/>
<polygon fill="#f08006" points="1506.9,421.0 1505.7,423.1 1504.4,425.0 1503.1,426.9 1501.9,428.6 1500.7,430.3 1499.5,431.9 1498.2,433.4 1496.9,434.7 1495.5,436.0 1494.1,437.2 1492.7,438.4 1491.4,439.4 1490.0,440.5 1488.7,441.5 1487.4,442.4 1486.2,443.4 1484.9,444.3 1483.6,445.2 1482.2,446.0 1480.9,446.7 1479.5,447.5 1478.1,448.2 1476.7,448.9 1475.3,449.7 1473.9,450.5 1472.4,451.3 1470.9,452.1 1469.3,452.8 1467.7,453.4 1466.0,453.9 1464.2,454.4 1462.4,454.9 1460.6,455.3 1458.7,455.6 1456.7,455.8 1454.6,456.0 1452.5,456.2 1450.3,456.3 1448.1,456.1 1445.9,455.7 1443.8,455.2 1441.7,454.5 1439.6,453.6 1437.5,452.7 1435.5,451.5 1433.6,450.1 1431.9,448.6 1430.2,447.0 1428.3,445.5 1426.2,444.0 1424.0,442.4 1421.7,440.7 1419.7,438.8 1418.0,436.6 1416.6,434.2 1415.7,431.7 1415.4,429.0 1416.0,426.3 1417.3,423.6 1419.0,421.0 1420.8,418.6 1422.7,416.4 1424.5,414.4 1426.2,412.5 1427.7,410.7 1429.1,409.0 1430.4,407.3 1431.7,405.7 1432.9,404.2 1434.2,402.6 1435.4,401.2 1436.7,399.7 1438.0,398.4 1439.4,397.0 1440.8,395.8 1442.3,394.7 1443.9,393.7 1445.4,392.7 1447.0,391.7 1448.5,390.7 1450.1,389.7 1451.7,388.8 1453.3,387.9 1455.0,387.2 1456.7,386.5 1458.5,385.8 1460.3,385.2 1462.2,384.6 1464.1,384.1 1466.0,383.6 1468.0,383.2 1470.0,382.9 1472.1,382.7 1474.1,382.7 1476.2,382.8 1478.4,382.9 1480.5,383.2 1482.7,383.5 1484.9,383.8 1487.3,384.2 1489.7,384.6 1492.2,385.0 1494.7,385.6 1497.2,386.3 1499.7,387.3 1502.1,388.5 1504.5,389.8 1507.0,391.2 1509.3,392.8 1511.3,394.9 1512.4,397.4 1512.6,400.2 1512.5,403.1 1512.4,405.9 1512.0,408.7 1511.3,411.4 1510.3,414.0 1509.2,416.5 1508.1,418.8"/>
<polygon fill="#ee7107" points="1503.3,421.0 1502.0,422.9 1500.7,424.6 1499.5,426.3 1498.4,427.9 1497.4,429.4 1496.3,430.8 1495.2,432.2 1494.1,433.5 1492.9,434.7 1491.7,435.8 1490.5,436.9 1489.2,437.9 1488.0,438.8 1486.9,439.8 1485.7,440.7 1484.6,441.6 1483.4,442.5 1482.2,443.3 1481.0,444.0 1479.7,444.7 1478.4,445.4 1477.2,446.1 1475.9,446.8 1474.6,447.5 1473.3,448.2 1471.9,448.9 1470.5,449.7 1469.1,450.3 1467.6,450.9 1466.0,451.4 1464.4,451.9 1462.7,452.4 1461.0,452.7 1459.2,453.1 1457.3,453.3 1455.4,453.5 1453.4,453.7 1451.4,453.8 1449.4,453.6 1447.4,453.3 1445.4,452.7 1443.5,452.0 1441.5,451.2 1439.6,450.3 1437.9,449.1 1436.2,447.8 1434.7,446.3 1433.2,444.8 1431.6,443.3 1429.7,442.0 1427.5,440.6 1425.3,439.1 1423.3,437.4 1421.5,435.4 1420.2,433.3 1419.2,430.9 1419.0,428.4 1419.6,425.9 1421.0,423.4 1422.7,421.0 1424.5,418.8 1426.3,416.8 1428.0,415.0 1429.6,413.3 1431.0,411.6 1432.3,410.0 1433.5,408.5 1434.7,407.1 1435.8,405.6 1437.0,404.2 1438.1,402.9 1439.3,401.6 1440.5,400.3 1441.7,399.1 1443.0,398.0 1444.4,397.0 1445.8,396.1 1447.2,395.1 1448.6,394.2 1450.0,393.3 1451.4,392.4 1452.9,391.6 1454.4,390.8 1456.0,390.1 1457.6,389.5 1459.2,388.9 1460.8,388.3 1462.5,387.8 1464.2,387.3 1466.0,386.8 1467.8,386.4 1469.7,386.1 1471.6,385.9 1473.5,385.8 1475.4,385.8 1477.4,385.9 1479.4,386.1 1481.4,386.4 1483.5,386.6 1485.7,386.9 1488.0,387.2 1490.3,387.6 1492.6,388.2 1494.9,388.9 1497.2,389.8 1499.4,390.9 1501.7,392.1 1504.0,393.4 1506.3,394.8 1508.0,396.7 1509.0,399.1 1509.1,401.8 1508.9,404.5 1508.7,407.1 1508.2,409.7 1507.5,412.2 1506.6,414.6 1505.6,416.8 1504.6,419.0"/>
<polygon fill="#eb6208" points="1499.7,421.0 1498.4,422.7 1497.1,424.3 1495.9,425.7 1494.9,427.1 1494.0,428.5 1493.2,429.8 1492.3,431.1 1491.3,432.3 1490.4,433.4 1489.3,434.4 1488.2,435.4 1487.1,436.3 1486.0,437.2 1485.0,438.1 1484.0,439.0 1482.9,439.8 1481.9,440.6 1480.8,441.4 1479.7,442.1 1478.5,442.7 1477.4,443.3 1476.2,444.0 1475.1,444.6 1473.9,445.3 1472.7,445.9 1471.4,446.6 1470.2,447.2 1468.8,447.8 1467.4,448.4 1466.0,448.9 1464.5,449.4 1463.0,449.8 1461.4,450.2 1459.7,450.5 1458.0,450.8 1456.3,451.0 1454.4,451.2 1452.5,451.3 1450.6,451.1 1448.8,450.8 1447.0,450.2 1445.3,449.5 1443.5,448.8 1441.8,447.9 1440.2,446.8 1438.8,445.5 1437.6,444.0 1436.3,442.6 1434.9,441.2 1433.1,440.0 1431.0,438.8 1428.9,437.5 1426.8,436.0 1425.1,434.3 1423.7,432.3 1422.7,430.2 1422.5,427.9 1423.2,425.5 1424.6,423.2 1426.4,421.0 1428.2,419.0 1429.9,417.2 1431.5,415.5 1432.9,414.0 1434.3,412.5 1435.5,411.1 1436.6,409.7 1437.7,408.4 1438.7,407.1 1439.7,405.8 1440.8,404.6 1441.8,403.4 1442.9,402.3 1444.0,401.2 1445.2,400.2 1446.5,399.3 1447.7,398.4 1449.0,397.6 1450.3,396.8 1451.5,396.0 1452.8,395.1 1454.1,394.4 1455.5,393.7 1456.9,393.1 1458.4,392.5 1459.8,392.0 1461.3,391.5 1462.8,391.0 1464.4,390.5 1466.0,390.0 1467.6,389.6 1469.3,389.2 1471.1,389.0 1472.8,388.9 1474.6,388.9 1476.4,389.0 1478.3,389.1 1480.1,389.2 1482.1,389.4 1484.1,389.6 1486.2,389.8 1488.4,390.2 1490.5,390.8 1492.6,391.5 1494.7,392.3 1496.8,393.3 1498.9,394.4 1501.1,395.5 1503.2,396.8 1504.8,398.6 1505.6,400.8 1505.6,403.4 1505.3,405.9 1505.0,408.3 1504.5,410.7 1503.8,413.0 1503.0,415.1 1502.1,417.2 1501.0,419.2"/>
<polygon fill="#e8530a" points="1496.1,421.0 1494.7,422.5 1493.4,423.9 1492.3,425.2 1491.4,426.4 1490.7,427.6 1490.0,428.8 1489.3,430.0 1488.6,431.1 1487.8,432.1 1486.9,433.0 1485.9,433.9 1485.0,434.8 1484.0,435.6 1483.1,436.4 1482.2,437.2 1481.3,438.0 1480.4,438.8 1479.4,439.5 1478.4,440.1 1477.4,440.7 1476.3,441.3 1475.3,441.9 1474.2,442.4 1473.2,443.0 1472.1,443.7 1470.9,444.3 1469.8,444.8 1468.6,445.4 1467.3,445.9 1466.0,446.4 1464.6,446.9 1463.2,447.3 1461.8,447.7 1460.3,448.0 1458.7,448.3 1457.1,448.5 1455.4,448.7 1453.6,448.7 1451.9,448.7 1450.2,448.3 1448.6,447.7 1447.1,447.1 1445.5,446.4 1443.9,445.5 1442.6,444.4 1441.4,443.1 1440.4,441.7 1439.4,440.3 1438.2,439.1 1436.6,438.0 1434.6,437.0 1432.4,436.0 1430.4,434.7 1428.6,433.1 1427.2,431.4 1426.3,429.4 1426.0,427.3 1426.8,425.1 1428.3,423.0 1430.1,421.0 1431.9,419.2 1433.5,417.6 1435.0,416.1 1436.3,414.7 1437.5,413.4 1438.6,412.1 1439.7,410.9 1440.6,409.7 1441.6,408.6 1442.5,407.4 1443.4,406.4 1444.4,405.3 1445.3,404.3 1446.3,403.3 1447.4,402.4 1448.5,401.6 1449.7,400.8 1450.8,400.1 1451.9,399.3 1453.1,398.6 1454.2,397.9 1455.4,397.2 1456.6,396.6 1457.9,396.0 1459.2,395.5 1460.5,395.1 1461.8,394.6 1463.2,394.1 1464.6,393.7 1466.0,393.2 1467.5,392.8 1469.0,392.4 1470.6,392.2 1472.2,392.0 1473.8,392.0 1475.4,392.0 1477.1,392.0 1478.9,392.1 1480.7,392.2 1482.6,392.3 1484.5,392.5 1486.5,392.8 1488.4,393.4 1490.3,394.0 1492.2,394.8 1494.1,395.7 1496.1,396.6 1498.2,397.6 1500.1,398.8 1501.6,400.5 1502.1,402.6 1502.1,404.9 1501.7,407.3 1501.3,409.5 1500.8,411.7 1500.1,413.8 1499.3,415.7 1498.5,417.6 1497.4,419.4"/>
<polygon fill="#e4450e" points="1492.5,421.0 1491.1,422.3 1489.7,423.5 1488.7,424.6 1487.9,425.7 1487.4,426.7 1486.9,427.8 1486.4,428.8 1485.8,429.8 1485.2,430.8 1484.4,431.6 1483.6,432.5 1482.8,433.2 1482.0,434.0 1481.2,434.7 1480.5,435.5 1479.7,436.2 1478.9,436.9 1478.0,437.6 1477.1,438.1 1476.2,438.7 1475.3,439.2 1474.3,439.7 1473.4,440.3 1472.4,440.8 1471.5,441.4 1470.4,441.9 1469.4,442.4 1468.3,442.9 1467.2,443.4 1466.0,443.9 1464.8,444.4 1463.5,444.8 1462.2,445.2 1460.8,445.5 1459.4,445.7 1457.9,445.9 1456.3,446.1 1454.8,446.2 1453.2,446.2 1451.7,445.8 1450.2,445.3 1448.8,444.6 1447.4,443.9 1446.1,443.1 1444.9,442.1 1444.0,440.8 1443.2,439.4 1442.5,438.1 1441.4,436.9 1440.0,436.0 1438.1,435.2 1436.0,434.4 1433.9,433.3 1432.2,432.0 1430.7,430.5 1429.8,428.7 1429.5,426.8 1430.4,424.7 1432.0,422.8 1433.8,421.0 1435.6,419.4 1437.1,418.0 1438.5,416.6 1439.7,415.4 1440.8,414.3 1441.8,413.1 1442.7,412.1 1443.6,411.0 1444.5,410.0 1445.3,409.0 1446.1,408.1 1446.9,407.1 1447.8,406.2 1448.6,405.4 1449.6,404.6 1450.6,403.9 1451.6,403.2 1452.6,402.5 1453.6,401.9 1454.6,401.2 1455.6,400.6 1456.6,400.0 1457.7,399.5 1458.9,399.0 1460.0,398.6 1461.1,398.2 1462.3,397.7 1463.5,397.3 1464.7,396.9 1466.0,396.5 1467.3,396.0 1468.7,395.6 1470.1,395.3 1471.5,395.1 1473.0,395.0 1474.5,395.0 1476.0,395.0 1477.6,394.9 1479.3,394.9 1481.0,395.0 1482.8,395.1 1484.6,395.4 1486.3,396.0 1488.0,396.6 1489.7,397.3 1491.5,398.1 1493.3,398.9 1495.3,399.7 1497.0,400.8 1498.3,402.3 1498.7,404.3 1498.6,406.5 1498.1,408.7 1497.6,410.7 1497.0,412.7 1496.4,414.5 1495.7,416.3 1494.9,418.0 1493.9,419.5"/>
<polygon fill="#e13911" points="1489.0,421.0 1487.6,422.1 1486.3,423.1 1485.3,424.1 1484.7,425.0 1484.3,425.9 1483.9,426.8 1483.5,427.7 1483.1,428.6 1482.6,429.5 1482.0,430.2 1481.4,431.0 1480.7,431.7 1480.0,432.3 1479.3,433.0 1478.7,433.7 1478.0,434.3 1477.3,434.9 1476.6,435.5 1475.8,436.1 1475.0,436.5 1474.2,437.0 1473.3,437.5 1472.5,438.0 1471.7,438.4 1470.8,438.9 1469.9,439.4 1469.0,439.8 1468.0,440.3 1467.0,440.7 1466.0,441.1 1464.9,441.6 1463.8,442.0 1462.6,442.4 1461.4,442.7 1460.1,442.9 1458.8,443.1 1457.4,443.3 1456.0,443.4 1454.6,443.3 1453.3,443.0 1452.1,442.5 1450.8,441.9 1449.6,441.2 1448.5,440.5 1447.5,439.5 1446.7,438.3 1446.2,437.1 1445.5,435.9 1444.7,434.8 1443.4,434.0 1441.7,433.4 1439.7,432.7 1437.8,431.8 1436.1,430.7 1434.7,429.4 1433.8,427.8 1433.6,426.1 1434.4,424.3 1436.0,422.6 1437.8,421.0 1439.4,419.6 1440.8,418.4 1442.0,417.2 1443.1,416.1 1444.1,415.1 1445.0,414.2 1445.8,413.2 1446.6,412.4 1447.3,411.5 1448.0,410.6 1448.8,409.8 1449.5,409.0 1450.2,408.2 1450.9,407.4 1451.8,406.8 1452.6,406.1 1453.5,405.6 1454.4,405.0 1455.2,404.4 1456.1,403.8 1457.0,403.3 1457.9,402.8 1458.8,402.3 1459.8,401.9 1460.8,401.6 1461.8,401.2 1462.8,400.8 1463.8,400.5 1464.9,400.1 1466.0,399.7 1467.1,399.3 1468.3,398.9 1469.6,398.6 1470.8,398.3 1472.1,398.2 1473.4,398.2 1474.8,398.1 1476.2,398.1 1477.7,398.0 1479.3,398.0 1480.9,398.1 1482.4,398.4 1483.9,398.9 1485.4,399.4 1486.9,400.1 1488.5,400.7 1490.2,401.4 1491.9,402.2 1493.5,403.1 1494.6,404.5 1494.9,406.3 1494.7,408.2 1494.2,410.2 1493.7,412.0 1493.1,413.7 1492.5,415.4 1491.9,416.9 1491.2,418.4 1490.3,419.7"/>
<polygon fill="#de3115" points="1485.3,421.0 1484.2,422.0 1483.1,422.8 1482.3,423.6 1481.7,424.3 1481.4,425.1 1481.0,425.9 1480.7,426.7 1480.4,427.4 1480.0,428.1 1479.5,428.8 1478.9,429.4 1478.3,430.0 1477.8,430.5 1477.2,431.1 1476.6,431.6 1476.1,432.2 1475.5,432.7 1474.9,433.2 1474.2,433.7 1473.5,434.1 1472.9,434.5 1472.2,434.9 1471.5,435.3 1470.8,435.7 1470.0,436.1 1469.3,436.5 1468.5,436.8 1467.7,437.2 1466.9,437.6 1466.0,437.9 1465.1,438.3 1464.1,438.7 1463.1,439.0 1462.1,439.2 1461.1,439.4 1460.0,439.6 1458.8,439.7 1457.6,439.8 1456.4,439.8 1455.3,439.5 1454.3,439.1 1453.2,438.6 1452.2,438.0 1451.3,437.4 1450.4,436.6 1449.8,435.6 1449.3,434.5 1448.8,433.5 1448.1,432.6 1447.0,432.0 1445.6,431.4 1443.9,430.8 1442.3,430.1 1440.9,429.2 1439.7,428.0 1438.9,426.8 1438.8,425.3 1439.5,423.8 1440.8,422.3 1442.3,421.0 1443.6,419.8 1444.8,418.8 1445.9,417.8 1446.8,416.9 1447.6,416.1 1448.3,415.3 1449.0,414.5 1449.7,413.7 1450.3,413.0 1450.9,412.3 1451.5,411.6 1452.1,410.9 1452.7,410.2 1453.3,409.6 1454.0,409.0 1454.8,408.5 1455.5,408.0 1456.2,407.5 1456.9,407.1 1457.7,406.6 1458.4,406.1 1459.2,405.7 1460.0,405.3 1460.8,405.0 1461.6,404.7 1462.5,404.4 1463.3,404.0 1464.2,403.7 1465.1,403.4 1466.0,403.1 1467.0,402.7 1468.0,402.4 1469.0,402.1 1470.0,402.0 1471.1,401.9 1472.2,401.8 1473.4,401.8 1474.6,401.7 1475.9,401.6 1477.2,401.6 1478.5,401.7 1479.8,402.0 1481.1,402.4 1482.3,402.9 1483.6,403.4 1484.9,404.0 1486.3,404.5 1487.8,405.2 1489.1,406.0 1490.1,407.1 1490.3,408.6 1490.1,410.3 1489.7,411.9 1489.3,413.4 1488.8,414.9 1488.3,416.3 1487.8,417.5 1487.2,418.8 1486.4,419.9"/>
<polygon fill="#dd2e17" points="1481.4,421.0 1480.4,421.8 1479.5,422.4 1478.9,423.0 1478.5,423.7 1478.2,424.3 1477.9,424.9 1477.7,425.5 1477.4,426.1 1477.1,426.7 1476.7,427.2 1476.2,427.7 1475.8,428.1 1475.3,428.6 1474.9,429.0 1474.4,429.4 1474.0,429.9 1473.5,430.3 1473.0,430.7 1472.5,431.0 1472.0,431.4 1471.4,431.7 1470.9,432.0 1470.3,432.3 1469.8,432.6 1469.2,433.0 1468.6,433.3 1468.0,433.6 1467.4,433.9 1466.7,434.1 1466.0,434.4 1465.3,434.8 1464.5,435.0 1463.7,435.3 1462.9,435.5 1462.1,435.6 1461.2,435.7 1460.3,435.9 1459.3,435.9 1458.4,435.9 1457.5,435.7 1456.7,435.3 1455.9,434.9 1455.1,434.5 1454.3,434.0 1453.6,433.4 1453.1,432.6 1452.7,431.7 1452.3,430.9 1451.8,430.2 1450.9,429.7 1449.8,429.3 1448.4,428.8 1447.1,428.2 1446.0,427.5 1445.1,426.6 1444.5,425.6 1444.4,424.4 1444.9,423.2 1446.0,422.1 1447.2,421.0 1448.2,420.1 1449.2,419.2 1450.0,418.5 1450.7,417.8 1451.4,417.1 1452.0,416.4 1452.5,415.8 1453.0,415.2 1453.5,414.6 1454.0,414.1 1454.5,413.5 1455.0,413.0 1455.4,412.4 1455.9,411.9 1456.5,411.5 1457.1,411.1 1457.7,410.7 1458.2,410.3 1458.8,409.9 1459.4,409.5 1460.0,409.2 1460.6,408.8 1461.2,408.5 1461.9,408.3 1462.5,408.0 1463.2,407.8 1463.9,407.5 1464.6,407.3 1465.3,407.0 1466.0,406.8 1466.8,406.5 1467.6,406.2 1468.4,406.0 1469.2,405.9 1470.1,405.8 1471.0,405.8 1471.9,405.7 1472.8,405.7 1473.8,405.6 1474.9,405.6 1475.9,405.7 1477.0,405.9 1478.0,406.2 1479.0,406.6 1480.0,407.0 1481.0,407.5 1482.1,407.9 1483.3,408.4 1484.4,409.1 1485.1,410.0 1485.3,411.2 1485.2,412.5 1484.8,413.8 1484.5,415.0 1484.1,416.1 1483.7,417.2 1483.3,418.3 1482.8,419.2 1482.2,420.2"/>
<polygon fill="#dc2d17" points="1476.9,421.0 1476.2,421.5 1475.6,422.0 1475.1,422.4 1474.8,422.9 1474.6,423.3 1474.4,423.7 1474.3,424.2 1474.1,424.6 1473.8,425.0 1473.6,425.4 1473.2,425.7 1472.9,426.0 1472.6,426.3 1472.3,426.7 1472.0,427.0 1471.7,427.3 1471.3,427.6 1471.0,427.9 1470.6,428.1 1470.2,428.3 1469.8,428.6 1469.5,428.8 1469.1,429.0 1468.7,429.2 1468.3,429.5 1467.8,429.7 1467.4,429.9 1467.0,430.1 1466.5,430.3 1466.0,430.5 1465.5,430.7 1465.0,430.9 1464.4,431.1 1463.8,431.2 1463.2,431.3 1462.6,431.4 1462.0,431.5 1461.3,431.6 1460.6,431.5 1460.0,431.4 1459.4,431.1 1458.8,430.9 1458.3,430.6 1457.7,430.2 1457.3,429.7 1456.9,429.2 1456.6,428.6 1456.3,428.0 1455.9,427.5 1455.3,427.2 1454.5,426.8 1453.6,426.5 1452.7,426.1 1451.9,425.6 1451.2,425.0 1450.8,424.2 1450.7,423.4 1451.1,422.6 1451.8,421.7 1452.7,421.0 1453.4,420.3 1454.1,419.7 1454.7,419.2 1455.2,418.7 1455.7,418.2 1456.1,417.8 1456.5,417.3 1456.8,416.9 1457.2,416.5 1457.5,416.1 1457.9,415.7 1458.2,415.3 1458.5,415.0 1458.9,414.6 1459.3,414.3 1459.7,414.0 1460.1,413.7 1460.5,413.4 1460.9,413.2 1461.3,412.9 1461.7,412.6 1462.2,412.4 1462.6,412.2 1463.1,412.0 1463.5,411.8 1464.0,411.7 1464.5,411.5 1465.0,411.3 1465.5,411.1 1466.0,410.9 1466.5,410.7 1467.1,410.6 1467.7,410.4 1468.3,410.3 1468.9,410.3 1469.5,410.2 1470.1,410.2 1470.8,410.2 1471.5,410.1 1472.3,410.1 1473.0,410.2 1473.8,410.3 1474.5,410.6 1475.2,410.8 1475.9,411.1 1476.6,411.4 1477.4,411.8 1478.2,412.1 1479.0,412.6 1479.5,413.2 1479.7,414.0 1479.5,415.0 1479.3,415.9 1479.1,416.8 1478.8,417.6 1478.5,418.3 1478.2,419.1 1477.9,419.8 1477.4,420.4"/>
</g>
<g fill="none" stroke="#0a0a0a" stroke-width="4.5" stroke-linejoin="round">
<polygon points="1226.2,457.5 1225.9,454.3 1227.0,451.3 1226.2,448.1 1227.2,445.0 1227.1,441.9 1227.2,438.8 1227.8,435.7 1227.4,432.5 1228.3,429.4 1228.0,426.2 1228.4,423.1 1229.4,420.0 1231.3,417.5 1231.6,414.2 1233.2,411.5 1235.1,409.0 1237.0,405.9 1237.7,402.4 1238.7,399.0 1241.2,396.0 1241.4,392.0 1244.0,389.1 1244.7,386.1 1245.7,383.2 1247.0,380.3 1248.7,377.8 1250.0,374.8 1249.5,371.4 1250.8,368.5 1251.4,365.3 1251.7,362.1 1252.6,359.1 1252.4,355.8 1253.5,352.7 1254.2,349.5 1255.9,346.6 1256.5,343.4 1257.4,340.2 1259.2,337.9 1260.6,335.3 1261.9,332.6 1264.0,330.4 1265.3,327.5 1265.9,324.3 1267.5,321.5 1270.3,320.0 1273.5,319.0 1276.2,317.2 1278.7,315.3 1280.3,311.5 1281.1,308.0 1283.2,305.4 1285.1,302.7 1288.1,300.7 1291.7,300.0 1294.8,298.6 1297.7,296.5 1300.3,294.1 1302.6,291.4 1305.1,289.0 1307.8,287.2 1311.0,286.6 1313.8,285.0 1316.1,283.2 1318.1,281.2 1320.7,279.8 1322.7,277.8 1325.3,275.6 1328.3,274.0 1330.6,271.3 1333.8,270.1 1336.7,269.3 1339.7,268.9 1342.4,267.7 1344.9,266.2 1348.3,264.9 1351.8,264.0 1354.8,262.2 1357.8,260.9 1360.4,258.9 1363.2,257.3 1366.2,256.0 1369.3,255.1 1371.6,252.6 1374.5,251.2 1377.5,249.9 1380.7,249.9 1383.3,247.8 1386.5,247.7 1389.5,247.1 1392.6,246.6 1395.7,246.2 1398.9,245.7 1401.8,244.1 1405.0,243.7 1408.3,243.3 1411.7,244.0 1415.0,243.4 1418.4,242.9 1421.7,243.4 1424.9,244.2 1427.3,242.6 1430.0,241.6 1432.6,240.3 1435.0,238.6 1438.1,237.1 1441.6,237.0 1445.0,236.2 1448.2,235.6 1451.4,235.4 1454.5,234.2 1457.5,233.1 1460.6,233.8 1463.7,234.3 1467.0,233.8 1470.0,235.3 1473.1,235.6 1476.2,235.8 1479.4,235.8 1482.5,235.2 1485.7,235.3 1488.8,235.3 1491.9,235.4 1494.9,234.0 1498.1,233.6 1501.2,233.4 1504.3,232.9 1507.5,233.0 1510.6,232.8 1513.6,233.3 1516.6,234.0 1519.6,234.4 1522.5,235.5 1525.5,234.2 1528.9,235.0 1531.9,233.9 1535.0,232.9 1538.4,233.1 1541.7,233.7 1545.0,234.1 1548.4,234.1 1551.6,235.8 1554.9,235.9 1558.1,237.0 1561.3,238.4 1564.7,239.2 1567.6,241.0 1570.7,242.0 1573.9,242.8 1576.7,244.6 1580.0,244.8 1583.1,244.7 1585.9,246.8 1589.0,246.5 1592.1,246.4 1595.0,247.5 1598.3,247.7 1601.0,249.5 1603.7,251.3 1606.8,252.1 1610.0,252.6 1613.4,252.9 1616.6,253.8 1619.9,254.2 1622.9,256.0 1626.3,256.3 1629.4,257.2 1632.6,256.8 1635.7,257.1 1638.7,258.5 1641.8,259.2 1645.0,259.0 1648.2,259.9 1651.6,260.6 1654.9,261.1 1658.4,260.8 1661.7,261.9 1665.0,262.4 1668.3,262.0 1671.6,262.2 1674.8,262.9 1678.1,263.1 1681.2,263.9 1682.5,267.3 1685.0,270.0 1686.7,272.4 1688.9,274.4 1691.1,276.2 1693.9,277.5 1695.9,280.6 1697.5,284.0 1699.0,287.4 1700.9,290.2 1701.9,293.5 1703.5,296.4 1704.2,299.9 1705.7,303.1 1706.3,306.6 1707.3,310.1 1709.9,312.1 1711.0,315.2 1712.6,317.9 1714.9,320.1 1717.1,323.0 1719.8,325.5 1722.2,327.4 1723.5,330.3 1726.1,332.1 1727.5,334.8 1729.3,337.3 1731.9,338.9 1734.9,340.5 1737.3,342.9 1740.4,343.9 1741.4,346.8 1741.7,349.8 1741.9,352.8 1740.9,355.9 1741.7,358.6 1740.3,360.9 1737.8,362.1 1739.2,365.4 1741.5,368.0 1743.8,370.6 1745.5,373.7 1747.3,376.6 1748.8,379.6 1748.5,383.3 1750.4,386.0 1748.5,388.6 1746.0,390.6 1744.6,393.6 1742.1,395.6 1740.4,398.4 1739.8,401.6 1738.5,404.6 1737.2,407.5 1736.0,410.5 1734.4,413.3 1733.2,416.0 1731.4,418.4 1730.3,421.1 1727.9,423.2 1727.2,426.3 1725.8,429.2 1724.3,432.0 1723.0,434.8 1721.4,436.7 1719.2,437.9 1717.9,440.4 1716.4,442.7 1715.0,445.0 1714.5,448.2 1712.6,450.7 1711.7,453.7 1710.3,456.5 1707.8,458.5 1707.0,461.6 1704.8,463.8 1702.7,466.1 1701.3,468.8 1699.3,471.5 1696.9,473.8 1694.6,476.2 1692.3,478.9 1694.4,481.6 1695.0,485.0 1693.3,488.2 1691.2,491.1 1688.7,493.6 1685.9,495.9 1682.9,497.8 1679.8,499.9 1678.1,502.5 1677.6,505.7 1676.1,508.4 1675.0,511.3 1672.5,513.5 1669.8,515.5 1667.6,518.1 1665.0,520.2 1662.5,522.5 1660.1,524.1 1658.5,526.5 1656.4,528.5 1654.9,530.7 1651.4,532.6 1647.5,533.5 1644.8,535.2 1642.7,537.5 1641.4,540.5 1638.9,542.5 1636.0,544.3 1633.6,546.7 1630.6,548.3 1627.7,550.0 1624.8,552.1 1622.2,554.5 1619.5,556.8 1617.6,560.0 1614.1,560.3 1610.8,561.2 1607.6,562.5 1604.7,563.2 1602.1,564.6 1600.2,567.2 1597.1,567.6 1595.0,569.9 1591.9,571.1 1588.4,571.5 1585.4,573.0 1582.6,575.0 1579.5,575.9 1576.5,576.8 1573.6,578.1 1570.7,579.3 1567.6,579.9 1564.8,581.4 1563.0,584.2 1559.9,585.4 1557.5,587.3 1556.0,589.9 1553.6,591.6 1551.3,593.4 1548.0,594.5 1545.0,596.2 1541.3,595.7 1538.1,597.0 1534.8,598.2 1532.9,600.9 1530.0,602.5 1526.9,603.4 1523.5,602.5 1520.4,603.8 1517.2,604.4 1513.9,604.2 1510.6,603.7 1507.4,604.6 1504.6,605.9 1501.6,606.9 1498.3,606.3 1495.5,607.6 1492.4,608.4 1489.8,611.5 1486.4,613.8 1482.9,614.2 1479.8,615.6 1476.7,617.2 1473.0,616.8 1470.0,618.4 1466.1,619.3 1462.6,621.3 1459.4,621.5 1456.9,623.8 1453.9,623.9 1450.8,622.9 1447.8,621.9 1445.0,620.4 1441.8,620.0 1438.8,621.2 1435.7,621.6 1432.5,621.0 1429.4,621.4 1426.4,621.2 1423.4,622.8 1419.9,623.8 1416.6,622.4 1413.6,620.7 1410.5,619.1 1407.5,617.1 1404.5,618.3 1401.3,618.5 1397.9,617.1 1395.0,614.9 1392.2,616.0 1389.3,616.0 1386.2,616.3 1383.2,614.6 1379.8,613.9 1376.4,613.5 1373.2,612.0 1370.1,610.7 1366.7,610.7 1363.9,608.6 1360.6,608.3 1357.5,607.3 1354.6,605.2 1351.2,604.3 1348.1,602.6 1345.1,600.9 1342.2,598.7 1338.6,598.1 1335.9,595.8 1332.5,594.7 1329.4,593.6 1326.2,593.1 1323.0,592.2 1319.8,591.3 1317.2,590.0 1314.6,588.5 1312.7,586.0 1309.9,584.9 1307.9,583.1 1306.1,581.0 1305.2,578.4 1304.8,575.4 1303.6,572.6 1302.5,569.9 1299.5,569.4 1296.6,568.5 1293.8,567.3 1291.6,564.2 1290.4,560.7 1288.7,557.4 1286.2,554.9 1283.2,553.1 1279.8,552.0 1276.6,550.6 1274.0,548.3 1271.1,546.2 1268.6,543.7 1265.7,541.6 1263.7,538.6 1261.2,536.0 1258.6,533.5 1255.9,531.1 1253.6,528.6 1250.6,526.8 1248.7,523.9 1246.5,521.2 1245.3,518.0 1243.5,514.9 1243.6,512.3 1244.9,510.1 1242.5,507.8 1240.8,504.9 1238.5,502.5 1236.4,499.9 1235.0,497.4 1233.5,494.8 1232.1,492.2 1229.9,490.0 1229.4,486.6 1230.2,483.1 1228.5,479.8 1229.0,476.3 1228.6,473.1 1227.2,470.1 1228.1,466.8 1227.8,463.7 1226.9,460.6"/>
<polygon points="1262.7,461.3 1263.3,458.1 1262.4,454.7 1263.3,451.5 1263.5,448.3 1264.0,445.0 1263.7,441.8 1263.1,438.6 1262.1,435.6 1261.6,432.6 1262.3,429.4 1263.0,426.3 1262.9,423.0 1263.7,419.9 1264.4,417.0 1265.8,414.4 1266.4,411.5 1268.2,409.1 1269.1,405.9 1270.1,402.8 1270.8,399.7 1271.6,396.6 1271.9,393.4 1272.2,390.2 1273.6,387.3 1274.2,384.1 1274.4,380.9 1275.0,377.8 1276.5,374.8 1276.8,371.3 1279.1,368.6 1279.8,365.3 1280.3,362.0 1281.5,358.9 1283.2,356.0 1283.6,352.7 1285.9,350.5 1287.9,348.3 1289.0,345.3 1290.6,342.7 1292.5,340.3 1294.9,337.7 1297.3,334.9 1299.3,331.9 1301.4,329.1 1304.8,325.8 1307.1,323.7 1309.8,322.1 1312.7,320.9 1314.9,318.7 1317.6,317.1 1319.5,314.6 1322.1,312.9 1324.8,311.4 1327.6,310.1 1330.8,308.7 1333.9,307.2 1336.7,305.0 1340.0,303.8 1343.1,302.2 1346.2,300.6 1349.1,298.5 1352.7,297.7 1355.0,294.9 1358.6,293.8 1361.4,291.6 1363.7,288.5 1366.9,287.2 1370.3,286.1 1373.5,284.8 1376.3,282.5 1378.9,281.1 1381.6,280.0 1384.8,280.2 1387.1,278.0 1390.0,277.6 1392.8,275.7 1396.0,275.1 1399.3,274.5 1401.8,272.0 1405.1,271.5 1408.0,270.3 1411.2,269.9 1414.1,268.6 1416.9,266.9 1420.0,266.6 1423.0,266.0 1425.9,265.0 1428.9,264.7 1432.0,265.2 1435.0,265.0 1438.2,264.2 1441.4,263.4 1444.7,263.2 1448.0,262.7 1451.3,262.7 1454.3,261.3 1457.6,262.2 1460.7,262.0 1463.7,260.4 1467.0,261.4 1470.0,260.4 1473.2,260.8 1476.2,259.6 1479.4,259.6 1482.5,259.5 1485.7,260.4 1488.8,259.5 1491.9,259.6 1495.0,260.1 1498.2,260.3 1501.4,260.3 1504.5,260.8 1507.5,262.1 1510.7,262.0 1513.7,263.5 1517.0,262.7 1520.1,263.2 1523.2,264.0 1526.3,264.2 1529.4,264.6 1532.2,266.1 1535.3,266.4 1538.3,266.7 1541.4,266.8 1544.4,267.8 1547.5,267.8 1550.7,268.0 1553.9,268.8 1557.2,268.1 1560.3,269.7 1563.6,269.6 1566.7,270.6 1570.0,270.7 1573.2,270.7 1576.4,270.7 1579.3,272.6 1582.6,271.6 1585.7,272.6 1588.8,273.0 1592.2,273.9 1595.1,275.8 1598.3,277.3 1601.9,277.3 1605.0,278.9 1608.1,279.2 1611.0,280.4 1614.0,280.8 1617.1,281.2 1620.1,282.3 1622.8,284.2 1624.6,287.2 1627.5,288.8 1630.4,288.6 1633.1,290.1 1635.9,290.5 1638.8,290.0 1641.9,291.0 1644.7,292.7 1647.5,294.1 1650.1,296.2 1652.9,297.6 1655.3,299.7 1657.7,301.6 1660.0,303.8 1660.9,306.7 1662.6,309.1 1664.6,311.4 1666.0,314.0 1667.8,316.3 1669.8,318.4 1671.6,320.6 1673.8,322.6 1675.1,325.2 1676.4,328.3 1679.5,329.9 1681.0,332.8 1682.8,335.4 1684.8,338.0 1687.4,340.0 1689.3,342.6 1691.3,345.0 1693.1,347.7 1695.0,350.3 1695.9,353.8 1697.6,356.8 1699.2,360.0 1701.6,362.7 1703.0,365.4 1702.8,368.5 1703.4,371.4 1705.0,374.0 1705.7,377.0 1707.5,379.6 1707.6,382.8 1705.9,385.4 1705.1,388.2 1704.2,391.0 1703.5,393.9 1702.9,397.3 1701.9,400.5 1700.6,403.6 1698.8,406.5 1697.3,409.8 1695.6,413.0 1694.7,416.5 1693.7,419.9 1691.4,421.3 1689.6,423.4 1687.5,425.0 1686.5,427.9 1683.8,429.7 1682.7,432.5 1681.8,435.8 1682.3,439.2 1682.6,442.6 1680.4,445.2 1677.8,447.2 1674.8,448.9 1672.4,451.2 1670.8,454.2 1668.7,456.8 1665.9,458.8 1663.8,461.3 1661.7,464.2 1659.8,467.2 1657.1,469.6 1655.2,472.7 1652.7,475.2 1650.0,477.5 1646.9,479.4 1644.9,482.5 1642.6,485.3 1641.3,488.8 1639.4,491.4 1637.1,493.6 1634.0,495.0 1632.0,497.5 1630.1,500.1 1628.0,502.9 1625.0,504.5 1622.3,506.6 1620.1,509.1 1617.6,511.4 1614.8,513.1 1612.0,514.7 1610.3,517.7 1608.0,519.9 1605.1,521.4 1602.7,523.8 1600.0,525.9 1598.2,528.9 1595.3,530.9 1593.7,534.7 1591.0,536.0 1588.4,537.8 1585.0,537.8 1582.6,539.9 1579.7,540.8 1577.7,543.2 1575.2,544.7 1572.3,545.4 1570.1,547.4 1566.7,548.1 1564.0,550.3 1561.2,552.3 1558.2,553.7 1555.0,554.9 1551.9,555.8 1548.7,556.6 1546.2,559.1 1543.1,559.9 1540.1,561.2 1536.9,561.5 1534.8,564.1 1532.1,565.5 1529.4,566.7 1526.3,567.4 1522.9,568.4 1519.7,570.1 1516.7,572.1 1513.7,573.8 1510.5,574.0 1507.5,575.5 1504.4,576.4 1501.0,575.7 1498.0,576.8 1495.0,578.1 1491.8,577.3 1488.7,578.1 1485.6,578.4 1482.5,578.6 1479.5,579.8 1476.5,580.9 1473.2,581.2 1470.0,581.7 1466.1,581.8 1462.6,583.7 1459.4,583.6 1456.8,585.6 1453.9,586.1 1450.4,587.4 1447.5,589.6 1444.5,589.9 1441.5,590.6 1438.5,589.8 1435.5,590.0 1432.5,589.5 1429.3,589.8 1426.2,589.1 1423.2,587.7 1419.9,588.2 1416.8,587.3 1413.9,585.8 1410.7,585.1 1407.4,585.1 1403.9,584.3 1400.6,583.0 1397.5,580.7 1394.4,580.9 1391.6,579.6 1388.6,578.8 1385.5,579.3 1382.5,578.7 1379.5,577.1 1376.3,577.1 1373.0,577.0 1370.1,575.9 1366.6,575.1 1363.2,573.9 1359.8,572.6 1357.8,569.9 1355.5,567.6 1352.5,565.9 1349.0,564.0 1344.9,563.8 1341.5,562.7 1338.3,561.1 1335.2,559.6 1333.5,556.8 1330.7,554.9 1328.7,552.5 1325.8,551.1 1322.9,549.8 1320.2,548.3 1317.1,546.7 1315.3,543.8 1312.8,541.7 1310.2,539.6 1308.1,537.3 1305.6,535.3 1303.0,533.4 1300.9,531.1 1298.5,528.8 1296.4,526.1 1293.4,525.3 1291.0,523.6 1289.0,521.2 1286.2,520.1 1283.9,518.3 1281.9,516.2 1280.7,513.4 1278.7,511.4 1277.9,507.6 1276.0,504.3 1274.1,501.2 1272.5,498.6 1271.2,495.9 1270.3,493.0 1270.0,490.0 1269.7,487.0 1268.7,484.2 1267.7,481.3 1267.4,478.4 1267.1,475.4 1266.4,472.5 1265.7,469.6 1265.0,466.7 1263.7,464.0"/>
<polygon points="1307.2,461.4 1307.3,457.9 1305.7,454.9 1305.4,451.5 1304.3,448.3 1304.0,445.0 1303.0,441.9 1302.7,438.8 1302.4,435.7 1302.3,432.5 1303.5,429.5 1303.4,426.3 1303.3,423.1 1303.9,420.0 1306.0,417.5 1306.4,414.3 1307.2,411.2 1309.3,408.7 1310.3,405.8 1311.6,402.9 1311.6,399.5 1313.1,396.5 1314.6,393.6 1315.2,390.4 1316.9,387.8 1316.8,384.3 1318.4,381.7 1319.8,378.9 1321.1,375.9 1323.9,373.8 1324.8,370.7 1326.6,367.9 1326.9,364.8 1328.6,362.1 1328.8,359.0 1330.5,356.2 1333.2,354.3 1335.4,352.0 1336.3,348.6 1338.8,346.6 1341.2,344.8 1343.1,342.4 1345.5,340.7 1347.5,338.6 1349.9,336.8 1352.4,335.2 1355.1,333.8 1357.6,332.3 1359.7,330.0 1362.0,328.1 1364.8,327.0 1367.6,325.7 1370.4,323.4 1373.6,321.9 1376.6,320.1 1380.1,319.0 1383.0,317.4 1385.7,315.1 1388.7,313.7 1391.9,312.6 1395.0,311.3 1398.2,310.3 1401.0,308.2 1404.2,307.0 1407.5,306.4 1410.6,305.2 1413.6,304.0 1416.8,303.1 1420.1,302.8 1422.9,301.2 1426.0,300.6 1428.9,299.3 1432.0,298.4 1435.1,297.7 1438.4,297.6 1441.5,295.8 1444.7,294.8 1448.1,294.9 1451.3,293.6 1454.3,292.6 1457.6,293.7 1460.6,292.6 1463.8,292.9 1466.9,291.8 1470.0,291.9 1473.1,291.8 1476.3,291.5 1479.5,291.5 1482.5,292.7 1485.6,293.1 1488.8,293.4 1492.0,292.7 1495.0,293.9 1498.2,293.8 1501.3,294.4 1504.4,294.1 1507.5,294.9 1510.6,295.3 1513.7,296.2 1516.9,295.0 1520.0,295.9 1523.1,296.6 1526.2,296.6 1529.5,296.4 1532.7,296.9 1535.5,298.9 1538.6,299.6 1541.9,299.4 1545.1,299.7 1548.0,301.3 1551.3,301.1 1554.3,302.6 1557.5,302.7 1560.6,303.7 1563.8,303.6 1566.9,304.7 1570.1,304.2 1573.2,304.9 1576.2,306.1 1579.3,306.4 1582.6,306.1 1585.7,307.1 1588.6,308.6 1591.5,310.0 1594.6,311.1 1597.6,312.3 1600.2,313.7 1602.3,316.0 1604.6,317.8 1607.7,318.6 1609.9,320.9 1612.2,323.3 1615.2,324.8 1616.9,327.2 1619.9,328.1 1621.7,330.5 1624.0,332.3 1626.3,334.1 1629.3,335.6 1632.0,337.6 1634.6,339.7 1637.5,341.5 1638.8,344.1 1640.7,346.5 1642.3,348.9 1644.1,351.4 1644.2,355.0 1645.1,358.4 1646.1,361.8 1646.1,365.3 1646.1,368.2 1647.0,370.9 1647.7,373.6 1647.5,376.5 1648.8,379.2 1649.4,382.0 1649.5,384.9 1650.3,387.9 1649.2,391.3 1648.1,394.6 1648.0,398.3 1646.2,401.5 1646.2,404.8 1644.3,407.6 1643.3,410.6 1642.9,413.8 1642.9,417.1 1641.3,420.0 1639.8,422.2 1637.4,423.7 1636.5,426.4 1633.7,428.8 1631.4,431.6 1629.9,434.9 1628.0,437.2 1627.3,440.3 1624.7,442.1 1623.8,445.0 1621.6,447.1 1620.1,449.6 1619.6,452.8 1617.3,454.9 1615.3,457.1 1615.0,460.4 1613.1,462.6 1611.2,464.9 1609.2,467.9 1605.8,469.5 1604.1,472.8 1601.2,474.8 1598.8,477.4 1595.6,478.7 1592.4,480.0 1590.1,482.7 1587.7,484.3 1585.0,485.5 1582.7,487.3 1580.4,489.2 1577.6,490.2 1575.0,492.4 1571.5,493.1 1568.9,495.4 1566.1,497.3 1564.5,500.4 1561.5,502.2 1560.2,505.4 1557.5,507.5 1554.9,509.1 1552.6,511.2 1549.6,512.3 1547.4,514.5 1545.0,516.2 1541.8,516.7 1539.2,518.9 1535.7,518.5 1532.9,520.1 1530.0,521.4 1527.3,522.8 1525.5,525.5 1522.3,526.5 1520.3,529.0 1518.0,531.1 1515.0,531.8 1512.5,533.6 1509.9,535.3 1506.7,535.6 1504.4,538.0 1501.2,538.3 1498.4,539.9 1495.2,540.3 1492.0,540.7 1489.3,542.4 1486.3,543.4 1483.1,544.6 1480.0,545.8 1476.7,546.6 1473.4,547.1 1470.0,547.2 1466.9,547.7 1463.7,547.9 1460.6,547.5 1457.6,548.7 1454.5,549.7 1451.2,549.8 1448.3,551.6 1445.1,551.9 1441.9,552.3 1438.9,553.2 1435.7,553.3 1432.5,553.7 1429.4,552.9 1426.3,552.4 1423.0,552.6 1420.0,551.5 1416.9,551.5 1413.7,551.9 1410.7,550.4 1407.5,551.2 1404.2,550.6 1401.1,549.8 1398.2,548.0 1395.1,547.1 1392.1,545.3 1388.7,544.3 1385.4,542.9 1382.4,541.3 1379.5,539.2 1376.3,537.8 1373.0,536.6 1370.0,534.7 1367.0,533.9 1364.2,532.2 1361.1,531.6 1357.9,531.1 1355.7,528.5 1352.2,527.6 1350.0,525.0 1348.0,522.9 1345.9,520.9 1343.8,519.0 1342.6,516.2 1340.0,514.6 1338.8,511.8 1337.4,509.2 1334.8,507.7 1332.4,505.3 1330.8,502.4 1328.5,500.0 1326.4,497.4 1324.9,494.4 1322.1,492.2 1320.4,489.3 1318.7,486.4 1316.5,483.5 1316.2,479.8 1314.5,476.7 1312.6,473.7 1310.5,471.0 1310.5,467.3 1309.1,464.3"/>
<polygon points="1338.8,457.5 1338.2,454.3 1336.8,451.3 1335.5,448.3 1334.7,445.1 1333.9,442.0 1333.0,438.9 1332.9,435.7 1332.7,432.5 1332.7,429.4 1332.8,426.2 1332.5,423.1 1331.8,420.0 1333.0,417.2 1333.7,414.2 1335.2,411.5 1335.7,408.5 1336.2,405.5 1337.6,402.8 1339.5,400.0 1339.6,396.4 1341.8,393.7 1342.2,390.1 1344.0,387.2 1345.9,384.4 1348.5,382.1 1350.2,379.2 1352.2,376.8 1353.5,373.8 1356.1,371.9 1357.4,368.9 1359.7,366.2 1363.0,364.5 1365.2,361.7 1367.6,359.1 1370.2,357.2 1373.0,355.6 1375.0,353.0 1377.9,351.5 1380.1,349.1 1383.3,347.8 1385.9,345.4 1389.2,344.1 1392.1,342.1 1395.0,340.2 1398.0,338.6 1401.3,338.0 1404.1,335.9 1407.8,335.9 1410.4,333.5 1413.7,332.5 1416.7,331.1 1420.3,331.4 1423.1,329.4 1426.1,328.0 1429.1,326.8 1432.4,326.2 1435.7,326.2 1438.8,325.5 1442.0,325.0 1445.1,324.4 1448.0,322.7 1451.3,322.9 1454.4,322.1 1457.6,322.3 1460.7,321.8 1463.9,321.5 1466.8,319.6 1470.0,320.0 1473.2,320.3 1476.3,320.1 1479.3,318.4 1482.5,318.3 1485.6,317.9 1488.8,318.0 1491.9,318.9 1495.0,318.8 1498.2,318.5 1501.3,318.9 1504.4,318.5 1507.5,318.2 1510.7,318.1 1513.9,318.7 1516.8,320.3 1520.1,319.9 1523.2,320.6 1526.3,321.3 1529.6,321.3 1532.6,322.4 1535.7,323.1 1538.7,324.5 1541.9,324.6 1545.0,325.4 1547.7,327.0 1550.8,326.9 1553.6,328.1 1556.6,328.4 1559.8,328.1 1562.5,329.5 1565.3,330.9 1567.8,332.8 1570.9,333.5 1573.4,335.4 1576.3,336.5 1579.1,337.9 1580.9,340.5 1584.2,341.2 1586.0,344.0 1589.0,345.1 1591.6,346.9 1593.5,349.3 1595.0,352.1 1597.2,354.2 1600.1,356.4 1601.3,359.6 1603.1,362.5 1604.8,365.4 1606.7,367.9 1607.5,370.9 1609.0,373.6 1609.8,376.5 1611.0,379.2 1610.5,382.3 1612.2,384.9 1612.7,387.8 1611.9,390.6 1611.9,393.4 1612.3,396.3 1611.2,399.0 1610.7,402.6 1608.3,405.5 1607.4,408.9 1605.8,411.5 1604.8,414.4 1604.0,417.4 1602.6,420.0 1601.0,423.0 1598.6,425.5 1597.7,428.9 1595.4,431.0 1595.1,434.2 1593.3,436.6 1591.4,438.9 1588.6,440.8 1586.9,443.8 1584.9,446.4 1582.3,448.6 1580.7,451.6 1578.2,453.8 1575.9,456.3 1573.7,458.7 1571.3,461.0 1569.2,463.6 1567.4,466.5 1565.1,468.9 1563.6,471.4 1560.8,472.8 1559.2,475.1 1557.4,477.3 1554.6,479.3 1551.3,480.1 1548.0,480.8 1545.0,482.5 1542.8,484.5 1540.0,485.6 1537.2,486.4 1535.2,488.9 1532.6,490.2 1530.2,491.8 1527.3,492.7 1524.7,494.0 1522.8,496.5 1520.1,497.7 1517.1,499.5 1513.9,500.9 1510.6,502.2 1507.6,504.0 1504.5,505.6 1501.5,507.4 1497.8,507.7 1494.9,509.9 1492.1,511.9 1488.5,511.8 1485.9,514.4 1482.5,515.1 1479.1,515.5 1476.1,517.0 1473.0,518.4 1470.0,520.0 1467.0,521.1 1463.7,521.0 1460.8,522.6 1457.6,523.0 1454.5,523.4 1451.3,524.1 1448.2,524.2 1445.0,523.7 1441.9,524.1 1438.8,524.6 1435.6,524.6 1432.5,525.0 1429.3,525.3 1426.3,524.2 1423.1,524.3 1420.0,523.6 1416.8,522.3 1413.3,522.2 1410.0,521.3 1407.0,519.7 1403.7,518.9 1400.5,518.0 1397.6,516.2 1394.7,514.1 1391.5,512.7 1388.3,511.3 1385.1,509.8 1382.7,508.2 1380.1,506.8 1377.5,505.6 1374.8,504.3 1372.6,502.4 1369.3,500.9 1366.8,498.3 1364.4,495.6 1361.4,493.7 1359.3,490.8 1356.6,488.4 1354.6,485.4 1352.5,482.5 1351.2,479.9 1349.4,477.6 1348.3,474.8 1347.1,472.1 1344.8,470.1 1343.7,466.8 1342.3,463.5 1340.2,460.7"/>
<polygon points="1366.3,456.3 1365.8,453.1 1363.1,451.0 1362.6,447.8 1361.1,445.0 1361.1,441.8 1360.8,438.6 1359.5,435.6 1358.5,432.5 1359.2,429.4 1359.5,426.3 1360.1,423.2 1360.0,420.0 1361.1,417.2 1362.2,414.5 1362.5,411.5 1364.0,408.1 1366.5,405.2 1367.3,401.4 1369.4,398.3 1370.7,394.8 1372.6,391.6 1373.9,388.6 1376.9,387.0 1377.9,383.9 1379.8,381.3 1382.2,378.7 1384.9,376.4 1386.9,373.4 1390.0,371.5 1392.4,369.6 1395.2,368.3 1397.4,366.1 1399.8,364.2 1402.4,362.6 1405.7,361.4 1408.9,359.9 1411.5,357.6 1414.3,355.3 1417.6,354.2 1420.4,352.3 1423.3,350.6 1426.2,348.9 1429.7,348.4 1432.6,346.7 1435.7,345.9 1438.8,344.8 1441.9,344.1 1444.9,342.7 1448.4,343.1 1451.3,341.4 1454.4,341.3 1457.6,341.2 1460.7,340.8 1463.8,339.8 1466.8,339.1 1470.0,339.0 1473.1,338.3 1476.3,339.4 1479.4,338.5 1482.6,339.2 1485.7,338.1 1488.8,338.3 1491.8,337.9 1494.9,338.1 1497.9,337.6 1500.9,337.2 1504.0,338.3 1507.0,337.5 1510.1,337.6 1513.4,338.5 1516.5,339.8 1519.8,340.7 1523.0,342.0 1526.3,342.9 1529.5,343.4 1532.3,345.2 1535.5,345.9 1539.0,345.4 1541.7,347.5 1544.9,348.1 1547.8,349.5 1551.2,349.7 1553.8,352.0 1556.9,353.0 1560.3,353.8 1562.9,356.3 1563.8,360.1 1566.4,362.6 1569.0,365.2 1570.7,367.8 1571.9,370.7 1573.0,373.5 1573.6,376.6 1575.0,379.2 1576.2,382.0 1575.9,385.2 1577.3,387.8 1578.4,390.5 1577.5,393.5 1578.3,396.2 1578.6,398.9 1577.3,402.2 1575.6,405.4 1574.8,408.9 1573.3,411.5 1573.2,414.7 1571.3,417.1 1570.5,420.0 1569.3,422.4 1568.8,425.0 1566.6,427.1 1565.4,429.9 1563.9,432.6 1561.9,435.0 1559.8,437.3 1557.2,439.1 1555.2,441.5 1552.5,443.5 1550.4,446.1 1547.5,447.8 1545.0,450.0 1542.5,451.4 1539.7,452.5 1537.9,455.2 1534.7,455.5 1532.5,457.5 1529.9,458.9 1527.4,460.3 1524.7,461.5 1522.6,463.7 1520.0,465.0 1517.0,466.1 1515.4,469.1 1512.4,470.1 1509.9,471.9 1507.7,474.1 1504.9,475.4 1502.3,477.0 1499.6,478.4 1497.7,481.0 1494.8,482.2 1492.5,484.0 1490.0,485.5 1487.2,486.4 1485.4,489.2 1482.5,489.9 1479.3,490.9 1476.3,492.5 1472.9,492.7 1470.0,494.5 1466.9,495.2 1463.7,495.9 1460.5,496.3 1457.5,497.7 1454.4,497.9 1451.3,498.3 1448.1,498.4 1445.0,498.6 1441.9,499.5 1438.7,498.8 1435.6,499.9 1432.5,500.0 1429.3,499.4 1426.3,498.1 1423.4,496.5 1420.0,496.2 1417.1,494.6 1413.6,494.1 1410.5,492.8 1407.4,491.4 1404.4,489.6 1401.4,487.9 1398.3,486.1 1394.8,485.3 1392.7,482.9 1390.4,481.0 1387.5,479.7 1384.6,478.7 1382.4,476.4 1379.7,474.7 1377.8,472.3 1376.5,469.2 1373.9,467.5 1372.1,464.6 1370.5,461.6 1368.8,458.7"/>
<polygon points="1397.6,456.3 1396.1,453.4 1394.6,450.5 1393.1,447.7 1391.4,445.0 1391.0,441.8 1389.6,438.8 1389.7,435.6 1388.8,432.5 1389.8,429.5 1389.2,426.1 1389.9,423.0 1390.8,419.8 1393.6,417.5 1396.0,414.9 1398.0,411.9 1399.9,408.9 1402.3,406.8 1404.1,404.3 1405.7,401.6 1407.4,398.9 1409.1,396.3 1411.1,393.9 1412.9,391.3 1415.0,389.0 1417.7,386.7 1420.5,384.5 1422.0,381.0 1425.0,379.0 1427.1,376.8 1429.7,375.3 1432.8,374.8 1435.0,372.8 1437.9,371.8 1440.0,369.6 1442.1,367.4 1445.0,366.4 1448.2,365.4 1451.5,364.7 1454.7,363.5 1457.5,361.5 1460.6,360.7 1463.6,359.6 1466.9,359.9 1470.0,358.8 1473.1,358.7 1476.1,358.7 1479.1,358.9 1482.0,360.4 1485.1,360.1 1488.0,362.1 1491.7,361.6 1494.6,363.9 1498.2,363.7 1501.3,365.0 1504.3,366.0 1507.4,365.6 1510.3,366.8 1513.4,366.2 1516.5,366.8 1518.5,369.2 1521.1,370.8 1523.5,372.8 1526.2,374.1 1529.5,375.4 1531.7,378.2 1534.3,380.3 1537.3,381.9 1539.7,383.9 1539.1,387.9 1537.2,391.6 1538.4,394.2 1540.8,396.1 1541.6,399.1 1539.8,402.2 1538.3,405.5 1537.8,409.1 1536.7,411.9 1534.9,414.4 1534.7,417.5 1532.8,420.0 1532.8,423.8 1532.7,427.7 1530.6,430.6 1528.3,433.3 1526.3,436.3 1523.9,437.9 1522.3,440.5 1519.4,441.5 1517.6,443.9 1514.6,445.5 1511.8,447.4 1509.2,449.5 1506.3,451.4 1503.2,452.8 1500.2,454.4 1497.6,456.5 1495.0,458.8 1492.0,460.7 1489.1,462.6 1485.3,462.7 1482.4,464.9 1479.1,466.2 1476.4,468.7 1473.0,470.0 1470.0,471.6 1466.8,471.8 1463.7,472.7 1460.7,473.6 1457.5,473.8 1454.3,473.4 1451.3,474.6 1448.1,474.4 1445.0,474.9 1441.9,474.0 1438.8,473.9 1435.6,474.5 1432.4,474.1 1429.3,473.2 1426.2,472.0 1423.2,470.8 1420.1,469.8 1417.2,467.9 1413.4,467.6 1410.9,464.8 1407.6,463.6 1405.4,461.4 1402.6,460.0 1399.8,458.5"/>
<polygon points="1430.2,426.5 1432.8,424.6 1435.2,422.3 1437.7,420.2 1439.8,417.5 1442.3,415.1 1444.4,413.2 1446.6,411.2 1447.7,408.4 1450.1,406.6 1452.9,405.4 1454.7,402.8 1457.5,401.6 1460.7,400.7 1463.7,399.2 1466.7,397.7 1470.0,396.8 1473.1,397.3 1476.3,397.2 1479.4,396.6 1482.6,396.2 1485.3,398.2 1488.3,399.4 1491.7,399.9 1494.4,401.7 1497.2,402.7 1496.0,406.0 1495.8,409.5 1495.0,412.8 1493.4,416.3 1492.1,420.2 1489.4,422.3 1486.5,423.9 1484.7,426.8 1483.9,430.1 1481.6,432.0 1479.7,434.3 1477.5,436.3 1475.3,438.3 1472.9,439.8 1469.9,440.3 1467.6,441.9 1465.3,443.3 1462.5,443.7 1459.5,443.7 1456.8,445.2 1453.8,444.9 1451.2,444.0 1448.8,442.5 1446.0,441.4 1444.3,438.4 1443.9,434.7 1441.0,433.6 1437.9,433.4 1435.0,432.5 1432.2,429.7"/>
</g>
<g fill="#050505">
<circle cx="1529.4" cy="496.3" r="7"/>
<circle cx="1415.6" cy="518.8" r="7"/>
<circle cx="1446.3" cy="534.8" r="7"/>
<circle cx="1446.0" cy="544.8" r="7"/>
<circle cx="1440.0" cy="563.3" r="7"/>
<circle cx="1511.3" cy="535.4" r="7"/>
<circle cx="1513.1" cy="545.4" r="7"/>
<circle cx="1508.1" cy="554.8" r="7"/>
<circle cx="1547.5" cy="546.0" r="7"/>
<circle cx="1498.1" cy="577.3" r="7"/>
</g>
<g stroke="#fff" stroke-width="4.4" fill="none">
<path d="M1310.4 434.3L1327.6 451.5M1310.4 451.5L1327.6 434.3"/>
<path d="M1389.6 434.6L1406.8 451.8M1389.6 451.8L1406.8 434.6"/>
<path d="M1491.3 431.4L1508.5 448.6M1491.3 448.6L1508.5 431.4"/>
<path d="M1637.9 329.7L1655.1 346.9M1637.9 346.9L1655.1 329.7"/>
</g>
<text x="1639.8" y="315.5" font-size="38" class="wb" textLength="163" lengthAdjust="spacingAndGlyphs">D. pealeii</text>
<text x="1191.8" y="416.8" font-size="38" class="wb" textLength="231" lengthAdjust="spacingAndGlyphs">M. weitzmani</text>
<text x="1511.2" y="422.6" font-size="38" class="wb" textLength="144.5" lengthAdjust="spacingAndGlyphs">A. bondi</text>
<text x="1345.8" y="488.2" font-size="38" class="wb" textLength="195" lengthAdjust="spacingAndGlyphs">D. dumerilii</text>
<g id="colorbar" shape-rendering="crispEdges">
<rect x="1865.0" y="755.95" width="62.5" height="8.05" fill="#4549a9"/>
<rect x="1865.0" y="748.51" width="62.5" height="8.05" fill="#464aaa"/>
<rect x="1865.0" y="741.06" width="62.5" height="8.05" fill="#484cab"/>
<rect x="1865.0" y="733.62" width="62.5" height="8.05" fill="#4a4eac"/>
<rect x="1865.0" y="726.17" width="62.5" height="8.05" fill="#4b4fad"/>
<rect x="1865.0" y="718.72" width="62.5" height="8.05" fill="#4e52af"/>
<rect x="1865.0" y="711.28" width="62.5" height="8.05" fill="#5356b2"/>
<rect x="1865.0" y="703.83" width="62.5" height="8.05" fill="#585ab5"/>
<rect x="1865.0" y="696.39" width="62.5" height="8.05" fill="#5d60b8"/>
<rect x="1865.0" y="688.94" width="62.5" height="8.05" fill="#6367bc"/>
<rect x="1865.0" y="681.49" width="62.5" height="8.05" fill="#686ec1"/>
<rect x="1865.0" y="674.05" width="62.5" height="8.05" fill="#7078c6"/>
<rect x="1865.0" y="666.60" width="62.5" height="8.05" fill="#7983cb"/>
<rect x="1865.0" y="659.16" width="62.5" height="8.05" fill="#838ed1"/>
<rect x="1865.0" y="651.71" width="62.5" height="8.05" fill="#8d9bd8"/>
<rect x="1865.0" y="644.26" width="62.5" height="8.05" fill="#97a8de"/>
<rect x="1865.0" y="636.82" width="62.5" height="8.05" fill="#9fb4e3"/>
<rect x="1865.0" y="629.37" width="62.5" height="8.05" fill="#a7c0e8"/>
<rect x="1865.0" y="621.93" width="62.5" height="8.05" fill="#b1cdeb"/>
<rect x="1865.0" y="614.48" width="62.5" height="8.05" fill="#bad9ee"/>
<rect x="1865.0" y="607.03" width="62.5" height="8.05" fill="#bde4ec"/>
<rect x="1865.0" y="599.59" width="62.5" height="8.05" fill="#beefea"/>
<rect x="1865.0" y="592.14" width="62.5" height="8.05" fill="#b8efdc"/>
<rect x="1865.0" y="584.70" width="62.5" height="8.05" fill="#b2edcd"/>
<rect x="1865.0" y="577.25" width="62.5" height="8.05" fill="#acebbc"/>
<rect x="1865.0" y="569.80" width="62.5" height="8.05" fill="#a8e9a8"/>
<rect x="1865.0" y="562.36" width="62.5" height="8.05" fill="#a3e694"/>
<rect x="1865.0" y="554.91" width="62.5" height="8.05" fill="#9de283"/>
<rect x="1865.0" y="547.47" width="62.5" height="8.05" fill="#97dc72"/>
<rect x="1865.0" y="540.02" width="62.5" height="8.05" fill="#91d762"/>
<rect x="1865.0" y="532.57" width="62.5" height="8.05" fill="#8ad14d"/>
<rect x="1865.0" y="525.13" width="62.5" height="8.05" fill="#83ca38"/>
<rect x="1865.0" y="517.68" width="62.5" height="8.05" fill="#7dc726"/>
<rect x="1865.0" y="510.24" width="62.5" height="8.05" fill="#79c516"/>
<rect x="1865.0" y="502.79" width="62.5" height="8.05" fill="#76c40a"/>
<rect x="1865.0" y="495.34" width="62.5" height="8.05" fill="#75c40a"/>
<rect x="1865.0" y="487.90" width="62.5" height="8.05" fill="#74c309"/>
<rect x="1865.0" y="480.45" width="62.5" height="8.05" fill="#74c309"/>
<rect x="1865.0" y="473.01" width="62.5" height="8.05" fill="#73c208"/>
<rect x="1865.0" y="465.56" width="62.5" height="8.05" fill="#72c208"/>
<rect x="1865.0" y="458.11" width="62.5" height="8.05" fill="#73c208"/>
<rect x="1865.0" y="450.67" width="62.5" height="8.05" fill="#74c308"/>
<rect x="1865.0" y="443.22" width="62.5" height="8.05" fill="#75c307"/>
<rect x="1865.0" y="435.78" width="62.5" height="8.05" fill="#76c407"/>
<rect x="1865.0" y="428.33" width="62.5" height="8.05" fill="#77c507"/>
<rect x="1865.0" y="420.88" width="62.5" height="8.05" fill="#78c506"/>
<rect x="1865.0" y="413.44" width="62.5" height="8.05" fill="#79c606"/>
<rect x="1865.0" y="405.99" width="62.5" height="8.05" fill="#7bc606"/>
<rect x="1865.0" y="398.55" width="62.5" height="8.05" fill="#7fc807"/>
<rect x="1865.0" y="391.10" width="62.5" height="8.05" fill="#83c907"/>
<rect x="1865.0" y="383.65" width="62.5" height="8.05" fill="#86ca08"/>
<rect x="1865.0" y="376.21" width="62.5" height="8.05" fill="#8bcd12"/>
<rect x="1865.0" y="368.76" width="62.5" height="8.05" fill="#90d121"/>
<rect x="1865.0" y="361.32" width="62.5" height="8.05" fill="#95d532"/>
<rect x="1865.0" y="353.87" width="62.5" height="8.05" fill="#9bd844"/>
<rect x="1865.0" y="346.42" width="62.5" height="8.05" fill="#a1dc55"/>
<rect x="1865.0" y="338.98" width="62.5" height="8.05" fill="#a7df66"/>
<rect x="1865.0" y="331.53" width="62.5" height="8.05" fill="#ace271"/>
<rect x="1865.0" y="324.09" width="62.5" height="8.05" fill="#b2e57d"/>
<rect x="1865.0" y="316.64" width="62.5" height="8.05" fill="#b7e887"/>
<rect x="1865.0" y="309.19" width="62.5" height="8.05" fill="#bbe781"/>
<rect x="1865.0" y="301.75" width="62.5" height="8.05" fill="#bee67a"/>
<rect x="1865.0" y="294.30" width="62.5" height="8.05" fill="#c1e674"/>
<rect x="1865.0" y="286.86" width="62.5" height="8.05" fill="#c4e56d"/>
<rect x="1865.0" y="279.41" width="62.5" height="8.05" fill="#c8e565"/>
<rect x="1865.0" y="271.96" width="62.5" height="8.05" fill="#cce45c"/>
<rect x="1865.0" y="264.52" width="62.5" height="8.05" fill="#d0e453"/>
<rect x="1865.0" y="257.07" width="62.5" height="8.05" fill="#d3e34c"/>
<rect x="1865.0" y="249.63" width="62.5" height="8.05" fill="#d6e344"/>
<rect x="1865.0" y="242.18" width="62.5" height="8.05" fill="#d9e33c"/>
<rect x="1865.0" y="234.73" width="62.5" height="8.05" fill="#dde235"/>
<rect x="1865.0" y="227.29" width="62.5" height="8.05" fill="#e0e229"/>
<rect x="1865.0" y="219.84" width="62.5" height="8.05" fill="#e4e21d"/>
<rect x="1865.0" y="212.40" width="62.5" height="8.05" fill="#e7e211"/>
<rect x="1865.0" y="204.95" width="62.5" height="8.05" fill="#ebe205"/>
<rect x="1865.0" y="197.50" width="62.5" height="8.05" fill="#ede202"/>
<rect x="1865.0" y="190.06" width="62.5" height="8.05" fill="#eee205"/>
<rect x="1865.0" y="182.61" width="62.5" height="8.05" fill="#efe208"/>
<rect x="1865.0" y="175.17" width="62.5" height="8.05" fill="#f2e213"/>
<rect x="1865.0" y="167.72" width="62.5" height="8.05" fill="#f4e11d"/>
<rect x="1865.0" y="160.27" width="62.5" height="8.05" fill="#f6e128"/>
<rect x="1865.0" y="152.83" width="62.5" height="8.05" fill="#f8d91e"/>
<rect x="1865.0" y="145.38" width="62.5" height="8.05" fill="#f9d00e"/>
<rect x="1865.0" y="137.94" width="62.5" height="8.05" fill="#fac502"/>
<rect x="1865.0" y="130.49" width="62.5" height="8.05" fill="#f8b803"/>
<rect x="1865.0" y="123.04" width="62.5" height="8.05" fill="#f7ab04"/>
<rect x="1865.0" y="115.60" width="62.5" height="8.05" fill="#f59e04"/>
<rect x="1865.0" y="108.15" width="62.5" height="8.05" fill="#f39105"/>
<rect x="1865.0" y="100.71" width="62.5" height="8.05" fill="#f18406"/>
<rect x="1865.0" y="93.26" width="62.5" height="8.05" fill="#ef7806"/>
<rect x="1865.0" y="85.81" width="62.5" height="8.05" fill="#ed6b07"/>
<rect x="1865.0" y="78.37" width="62.5" height="8.05" fill="#eb5f08"/>
<rect x="1865.0" y="70.92" width="62.5" height="8.05" fill="#e8530a"/>
<rect x="1865.0" y="63.48" width="62.5" height="8.05" fill="#e5480d"/>
<rect x="1865.0" y="56.03" width="62.5" height="8.05" fill="#e23c10"/>
<rect x="1865.0" y="48.58" width="62.5" height="8.05" fill="#e03613"/>
<rect x="1865.0" y="41.14" width="62.5" height="8.05" fill="#dd2f16"/>
<rect x="1865.0" y="33.69" width="62.5" height="8.05" fill="#dd2e17"/>
<rect x="1865.0" y="26.25" width="62.5" height="8.05" fill="#dc2d17"/>
<rect x="1865.0" y="18.80" width="62.5" height="8.05" fill="#dc2c18"/>
</g>
<g stroke="#000" stroke-width="3.1" fill="none">
<path d="M1096.4 19.1V764.8"/>
<path d="M1094.9 20.6H1865"/>
<path d="M1094.9 763.3H1929"/>
<path d="M1080.4 763.3H1096"/>
<path d="M1080.4 614.8H1096"/>
<path d="M1080.4 466.2H1096"/>
<path d="M1080.4 317.7H1096"/>
<path d="M1080.4 169.1H1096"/>
<path d="M1080.4 20.6H1096"/>
<path d="M1097.4 763V779.6"/>
<path d="M1262.9 763V779.6"/>
<path d="M1428.4 763V779.6"/>
<path d="M1593.9 763V779.6"/>
<path d="M1759.4 763V779.6"/>
<path d="M1924.9 763V779.6"/>
</g>
<g stroke="#1c1c1c" stroke-width="3.5" fill="none">
<path d="M1929.2 26V765"/>
</g><g stroke="#000" stroke-width="3.1">
<path d="M1929 763.9H1946.3"/>
<path d="M1929 616.6H1946.3"/>
<path d="M1929 469.4H1946.3"/>
<path d="M1929 322.1H1946.3"/>
<path d="M1929 174.9H1946.3"/>
<path d="M1929 27.6H1946.3"/>
</g>
<text x="1117.6" y="78.8" font-size="39">(b)</text>
<text x="1091.2" y="816.4" font-size="39" text-anchor="middle">−20</text>
<text x="1256.6" y="816.4" font-size="39" text-anchor="middle">−19</text>
<text x="1422.0" y="816.4" font-size="39" text-anchor="middle">−18</text>
<text x="1587.4" y="816.4" font-size="39" text-anchor="middle">−17</text>
<text x="1752.8" y="816.4" font-size="39" text-anchor="middle">−16</text>
<text x="1918.2" y="816.4" font-size="39" text-anchor="middle">−15</text>
<text transform="translate(1075.6,765.3) rotate(-90)" font-size="39" text-anchor="middle">8</text>
<text transform="translate(1075.6,612.4) rotate(-90)" font-size="39" text-anchor="middle">10</text>
<text transform="translate(1075.6,463.6) rotate(-90)" font-size="39" text-anchor="middle">12</text>
<text transform="translate(1075.6,315.6) rotate(-90)" font-size="39" text-anchor="middle">14</text>
<text transform="translate(1075.6,167.4) rotate(-90)" font-size="39" text-anchor="middle">16</text>
<text transform="translate(1075.6,20.2) rotate(-90)" font-size="39" text-anchor="middle">18</text>
<text x="1948.6" y="772.7" font-size="39">0.0</text>
<text x="1948.6" y="625.2" font-size="39">0.2</text>
<text x="1948.6" y="477.7" font-size="39">0.4</text>
<text x="1948.6" y="330.2" font-size="39">0.6</text>
<text x="1948.6" y="182.7" font-size="39">0.8</text>
<text x="1948.6" y="35.2" font-size="39">1.0</text>
<text x="1467.8" y="879.4" font-size="42" class="sf" stroke="#000" stroke-width="0.7">δ</text>
<text x="1482.2" y="861" font-size="25">13</text>
<text x="1508.2" y="879.8" font-size="40">C (‰)</text>
<text transform="translate(1004.1,449) rotate(-90)" font-size="42" class="sf" stroke="#000" stroke-width="0.7">δ</text>
<text transform="translate(981.6,435.8) rotate(-90)" font-size="25">15</text>
<text transform="translate(1003.2,409) rotate(-90)" font-size="40.5">N</text>
<text transform="translate(1006.6,375) rotate(-90)" font-size="40" class="sf">(‰)</text>
</g>
</svg></body></html>
